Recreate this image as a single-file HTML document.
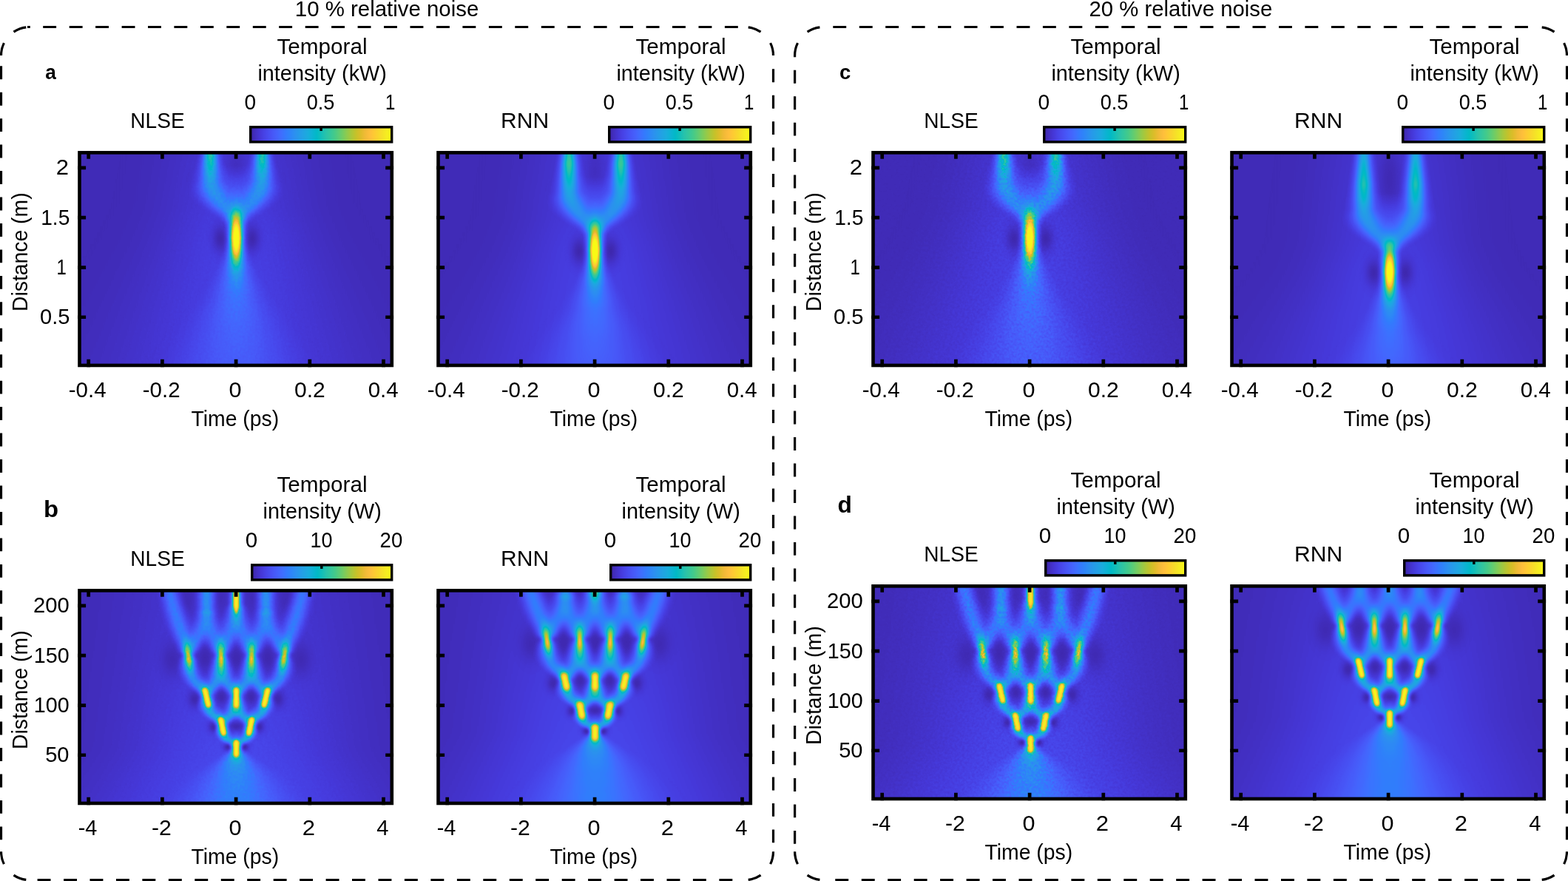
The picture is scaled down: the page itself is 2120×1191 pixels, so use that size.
<!DOCTYPE html>
<html lang="en"><head><meta charset="utf-8"><title>Temporal intensity: NLSE vs RNN under relative noise</title>
<style>html,body{margin:0;padding:0;background:#fff}body{width:2120px;height:1191px}svg{display:block}text{fill:#000}</style></head><body>
<svg width="2120" height="1191" viewBox="0 0 2120 1191" font-family="Liberation Sans, sans-serif" font-size="30">
<defs>
<linearGradient id="cb" x1="0" x2="1" y1="0" y2="0"><stop offset="0.0000" stop-color="#3e26a8"/><stop offset="0.0312" stop-color="#422ebf"/><stop offset="0.0625" stop-color="#4536d5"/><stop offset="0.0938" stop-color="#4741e5"/><stop offset="0.1250" stop-color="#484cef"/><stop offset="0.1562" stop-color="#4757f7"/><stop offset="0.1875" stop-color="#4562fc"/><stop offset="0.2188" stop-color="#3f6efe"/><stop offset="0.2500" stop-color="#347afd"/><stop offset="0.2812" stop-color="#2e85f8"/><stop offset="0.3125" stop-color="#2c90f0"/><stop offset="0.3438" stop-color="#269ae9"/><stop offset="0.3750" stop-color="#21a3e3"/><stop offset="0.4062" stop-color="#1aacdd"/><stop offset="0.4375" stop-color="#0cb3d3"/><stop offset="0.4688" stop-color="#01b9c6"/><stop offset="0.5000" stop-color="#12beb9"/><stop offset="0.5312" stop-color="#28c2ab"/><stop offset="0.5625" stop-color="#34c79c"/><stop offset="0.5938" stop-color="#44ca8a"/><stop offset="0.6250" stop-color="#5ccc76"/><stop offset="0.6562" stop-color="#77cc60"/><stop offset="0.6875" stop-color="#94ca4a"/><stop offset="0.7188" stop-color="#afc637"/><stop offset="0.7500" stop-color="#c8c129"/><stop offset="0.7812" stop-color="#debc2a"/><stop offset="0.8125" stop-color="#f1ba37"/><stop offset="0.8438" stop-color="#febe3c"/><stop offset="0.8750" stop-color="#feca33"/><stop offset="0.9062" stop-color="#f9d62d"/><stop offset="0.9375" stop-color="#f5e327"/><stop offset="0.9688" stop-color="#f6ef20"/><stop offset="1.0000" stop-color="#f9fb15"/></linearGradient>
<filter id="pm" filterUnits="userSpaceOnUse" x="0" y="0" width="426.9" height="292.2" color-interpolation-filters="sRGB"><feComponentTransfer><feFuncR type="table" tableValues="0.242 0.25 0.258 0.265 0.271 0.275 0.278 0.28 0.281 0.281 0.28 0.276 0.27 0.26 0.244 0.221 0.196 0.183 0.179 0.176 0.169 0.154 0.146 0.138 0.125 0.111 0.095 0.069 0.03 0.004 0.007 0.043 0.096 0.141 0.172 0.194 0.216 0.247 0.291 0.341 0.391 0.446 0.504 0.562 0.617 0.672 0.724 0.774 0.82 0.863 0.903 0.939 0.973 0.996 0.997 0.995 0.989 0.979 0.968 0.961 0.96 0.963 0.969 0.977"/><feFuncG type="table" tableValues="0.15 0.165 0.182 0.198 0.215 0.234 0.256 0.278 0.301 0.323 0.345 0.367 0.389 0.412 0.436 0.46 0.485 0.507 0.529 0.55 0.57 0.59 0.609 0.628 0.646 0.663 0.68 0.695 0.708 0.72 0.731 0.741 0.75 0.758 0.767 0.776 0.784 0.792 0.797 0.801 0.803 0.802 0.799 0.794 0.788 0.779 0.77 0.76 0.75 0.741 0.733 0.729 0.73 0.743 0.766 0.789 0.814 0.839 0.864 0.889 0.913 0.937 0.961 0.984"/><feFuncB type="table" tableValues="0.66 0.708 0.751 0.795 0.836 0.871 0.899 0.922 0.941 0.958 0.972 0.983 0.991 0.995 0.999 0.997 0.989 0.98 0.968 0.952 0.936 0.922 0.908 0.897 0.888 0.876 0.86 0.839 0.816 0.792 0.766 0.739 0.712 0.684 0.655 0.625 0.592 0.557 0.519 0.479 0.435 0.391 0.348 0.304 0.261 0.223 0.191 0.165 0.153 0.16 0.177 0.21 0.239 0.237 0.22 0.203 0.189 0.177 0.164 0.154 0.142 0.127 0.106 0.081"/></feComponentTransfer></filter><filter id="pn1" filterUnits="userSpaceOnUse" x="0" y="0" width="426.9" height="292.2" color-interpolation-filters="sRGB"><feTurbulence type="fractalNoise" baseFrequency="0.3" numOctaves="2" seed="3" result="n"/><feColorMatrix in="n" type="matrix" values="1 0 0 0 0 1 0 0 0 0 1 0 0 0 0 0 0 0 0 1" result="g"/><feComposite in="SourceGraphic" in2="g" operator="arithmetic" k1="0.20" k2="0.90" k3="0" k4="0"/></filter><filter id="pn2" filterUnits="userSpaceOnUse" x="0" y="0" width="426.9" height="292.2" color-interpolation-filters="sRGB"><feTurbulence type="fractalNoise" baseFrequency="0.3" numOctaves="2" seed="7" result="n"/><feColorMatrix in="n" type="matrix" values="1 0 0 0 0 1 0 0 0 0 1 0 0 0 0 0 0 0 0 1" result="g"/><feComposite in="SourceGraphic" in2="g" operator="arithmetic" k1="0.60" k2="0.70" k3="0" k4="0"/></filter><radialGradient id="gw" cx="0.5" cy="0.5" r="0.5"><stop offset="0.000" stop-color="#fff" stop-opacity="1.000"/><stop offset="0.062" stop-color="#fff" stop-opacity="0.983"/><stop offset="0.125" stop-color="#fff" stop-opacity="0.932"/><stop offset="0.188" stop-color="#fff" stop-opacity="0.854"/><stop offset="0.250" stop-color="#fff" stop-opacity="0.755"/><stop offset="0.312" stop-color="#fff" stop-opacity="0.644"/><stop offset="0.375" stop-color="#fff" stop-opacity="0.531"/><stop offset="0.438" stop-color="#fff" stop-opacity="0.423"/><stop offset="0.500" stop-color="#fff" stop-opacity="0.325"/><stop offset="0.562" stop-color="#fff" stop-opacity="0.241"/><stop offset="0.625" stop-color="#fff" stop-opacity="0.172"/><stop offset="0.688" stop-color="#fff" stop-opacity="0.119"/><stop offset="0.750" stop-color="#fff" stop-opacity="0.080"/><stop offset="0.812" stop-color="#fff" stop-opacity="0.051"/><stop offset="0.875" stop-color="#fff" stop-opacity="0.032"/><stop offset="0.938" stop-color="#fff" stop-opacity="0.019"/><stop offset="1.000" stop-color="#fff" stop-opacity="0.000"/></radialGradient><radialGradient id="gp" cx="0.5" cy="0.5" r="0.5"><stop offset="0.000" stop-color="#fff" stop-opacity="1.000"/><stop offset="0.062" stop-color="#fff" stop-opacity="1.000"/><stop offset="0.125" stop-color="#fff" stop-opacity="1.000"/><stop offset="0.188" stop-color="#fff" stop-opacity="1.000"/><stop offset="0.250" stop-color="#fff" stop-opacity="1.000"/><stop offset="0.312" stop-color="#fff" stop-opacity="0.967"/><stop offset="0.375" stop-color="#fff" stop-opacity="0.797"/><stop offset="0.438" stop-color="#fff" stop-opacity="0.634"/><stop offset="0.500" stop-color="#fff" stop-opacity="0.487"/><stop offset="0.562" stop-color="#fff" stop-opacity="0.361"/><stop offset="0.625" stop-color="#fff" stop-opacity="0.259"/><stop offset="0.688" stop-color="#fff" stop-opacity="0.179"/><stop offset="0.750" stop-color="#fff" stop-opacity="0.119"/><stop offset="0.812" stop-color="#fff" stop-opacity="0.077"/><stop offset="0.875" stop-color="#fff" stop-opacity="0.048"/><stop offset="0.938" stop-color="#fff" stop-opacity="0.029"/><stop offset="1.000" stop-color="#fff" stop-opacity="0.000"/></radialGradient><radialGradient id="gk" cx="0.5" cy="0.5" r="0.5"><stop offset="0.000" stop-color="#000" stop-opacity="1.000"/><stop offset="0.062" stop-color="#000" stop-opacity="0.983"/><stop offset="0.125" stop-color="#000" stop-opacity="0.932"/><stop offset="0.188" stop-color="#000" stop-opacity="0.854"/><stop offset="0.250" stop-color="#000" stop-opacity="0.755"/><stop offset="0.312" stop-color="#000" stop-opacity="0.644"/><stop offset="0.375" stop-color="#000" stop-opacity="0.531"/><stop offset="0.438" stop-color="#000" stop-opacity="0.423"/><stop offset="0.500" stop-color="#000" stop-opacity="0.325"/><stop offset="0.562" stop-color="#000" stop-opacity="0.241"/><stop offset="0.625" stop-color="#000" stop-opacity="0.172"/><stop offset="0.688" stop-color="#000" stop-opacity="0.119"/><stop offset="0.750" stop-color="#000" stop-opacity="0.080"/><stop offset="0.812" stop-color="#000" stop-opacity="0.051"/><stop offset="0.875" stop-color="#000" stop-opacity="0.032"/><stop offset="0.938" stop-color="#000" stop-opacity="0.019"/><stop offset="1.000" stop-color="#000" stop-opacity="0.000"/></radialGradient><linearGradient id="gh" x1="0" x2="1" y1="0" y2="0"><stop offset="0.000" stop-color="#fff" stop-opacity="0.000"/><stop offset="0.031" stop-color="#fff" stop-opacity="0.019"/><stop offset="0.062" stop-color="#fff" stop-opacity="0.032"/><stop offset="0.094" stop-color="#fff" stop-opacity="0.051"/><stop offset="0.125" stop-color="#fff" stop-opacity="0.080"/><stop offset="0.156" stop-color="#fff" stop-opacity="0.119"/><stop offset="0.188" stop-color="#fff" stop-opacity="0.172"/><stop offset="0.219" stop-color="#fff" stop-opacity="0.241"/><stop offset="0.250" stop-color="#fff" stop-opacity="0.325"/><stop offset="0.281" stop-color="#fff" stop-opacity="0.423"/><stop offset="0.312" stop-color="#fff" stop-opacity="0.531"/><stop offset="0.344" stop-color="#fff" stop-opacity="0.644"/><stop offset="0.375" stop-color="#fff" stop-opacity="0.755"/><stop offset="0.406" stop-color="#fff" stop-opacity="0.854"/><stop offset="0.438" stop-color="#fff" stop-opacity="0.932"/><stop offset="0.469" stop-color="#fff" stop-opacity="0.983"/><stop offset="0.500" stop-color="#fff" stop-opacity="1.000"/><stop offset="0.531" stop-color="#fff" stop-opacity="0.983"/><stop offset="0.562" stop-color="#fff" stop-opacity="0.932"/><stop offset="0.594" stop-color="#fff" stop-opacity="0.854"/><stop offset="0.625" stop-color="#fff" stop-opacity="0.755"/><stop offset="0.656" stop-color="#fff" stop-opacity="0.644"/><stop offset="0.688" stop-color="#fff" stop-opacity="0.531"/><stop offset="0.719" stop-color="#fff" stop-opacity="0.423"/><stop offset="0.750" stop-color="#fff" stop-opacity="0.325"/><stop offset="0.781" stop-color="#fff" stop-opacity="0.241"/><stop offset="0.812" stop-color="#fff" stop-opacity="0.172"/><stop offset="0.844" stop-color="#fff" stop-opacity="0.119"/><stop offset="0.875" stop-color="#fff" stop-opacity="0.080"/><stop offset="0.906" stop-color="#fff" stop-opacity="0.051"/><stop offset="0.938" stop-color="#fff" stop-opacity="0.032"/><stop offset="0.969" stop-color="#fff" stop-opacity="0.019"/><stop offset="1.000" stop-color="#fff" stop-opacity="0.000"/></linearGradient><filter id="pb" filterUnits="userSpaceOnUse" x="0" y="-20" width="426.9" height="332.2" color-interpolation-filters="sRGB"><feGaussianBlur stdDeviation="1.7"/></filter><filter id="pc" filterUnits="userSpaceOnUse" x="0" y="-20" width="426.9" height="332.2" color-interpolation-filters="sRGB"><feGaussianBlur stdDeviation="2.1"/></filter><filter id="v1" filterUnits="userSpaceOnUse" x="-10" y="-40" width="446.9" height="372.2" color-interpolation-filters="sRGB"><feGaussianBlur stdDeviation="0 1"/></filter><filter id="v2" filterUnits="userSpaceOnUse" x="-10" y="-40" width="446.9" height="372.2" color-interpolation-filters="sRGB"><feGaussianBlur stdDeviation="0 2"/></filter><filter id="v3" filterUnits="userSpaceOnUse" x="-10" y="-40" width="446.9" height="372.2" color-interpolation-filters="sRGB"><feGaussianBlur stdDeviation="0 3"/></filter><filter id="v4" filterUnits="userSpaceOnUse" x="-10" y="-40" width="446.9" height="372.2" color-interpolation-filters="sRGB"><feGaussianBlur stdDeviation="0 4"/></filter><filter id="v6" filterUnits="userSpaceOnUse" x="-10" y="-40" width="446.9" height="372.2" color-interpolation-filters="sRGB"><feGaussianBlur stdDeviation="0 6"/></filter>
<clipPath id="cf"><rect x="1" y="1" width="424.9" height="290.2"/></clipPath>
</defs>
<rect width="2120" height="1191" fill="#fff"/>
<path fill="none" stroke="#000" stroke-width="3.2" d="M58.2 36.5H76.1M93.7 36.5H111.6M129.1 36.5H147.0M164.6 36.5H182.5M200.0 36.5H217.9M235.4 36.5H253.3M270.9 36.5H288.8M306.3 36.5H324.2M341.8 36.5H359.7M377.2 36.5H395.1M412.7 36.5H430.6M448.1 36.5H466.0M483.6 36.5H501.5M519.0 36.5H536.9M554.5 36.5H572.4M590.0 36.5H607.9M625.4 36.5H643.3M660.9 36.5H678.8M696.3 36.5H714.2M731.8 36.5H749.7M767.2 36.5H785.1M802.7 36.5H820.6M838.1 36.5H856.0M873.6 36.5H891.5M909.0 36.5H926.9M944.5 36.5H962.4M979.9 36.5H997.8M50.6 1189.7H68.5M86.1 1189.7H104.0M121.5 1189.7H139.4M157.0 1189.7H174.9M192.4 1189.7H210.3M227.9 1189.7H245.8M263.3 1189.7H281.2M298.8 1189.7H316.7M334.2 1189.7H352.1M369.7 1189.7H387.6M405.1 1189.7H423.0M440.6 1189.7H458.5M476.0 1189.7H493.9M511.5 1189.7H529.4M546.9 1189.7H564.8M582.4 1189.7H600.3M617.9 1189.7H635.8M653.3 1189.7H671.2M688.8 1189.7H706.7M724.2 1189.7H742.1M759.7 1189.7H777.6M795.1 1189.7H813.0M830.6 1189.7H848.5M866.0 1189.7H883.9M901.5 1189.7H919.4M936.9 1189.7H954.8M972.4 1189.7H990.3M1.5 89.3V107.2M1.5 124.8V142.7M1.5 160.2V178.1M1.5 195.6V213.5M1.5 231.1V249.0M1.5 266.5V284.4M1.5 302.0V319.9M1.5 337.4V355.3M1.5 372.9V390.8M1.5 408.3V426.2M1.5 443.8V461.7M1.5 479.2V497.1M1.5 514.7V532.6M1.5 550.1V568.0M1.5 585.6V603.5M1.5 621.1V639.0M1.5 656.5V674.4M1.5 692.0V709.9M1.5 727.4V745.3M1.5 762.9V780.8M1.5 798.3V816.2M1.5 833.8V851.7M1.5 869.2V887.1M1.5 904.7V922.6M1.5 940.1V958.0M1.5 975.6V993.5M1.5 1011.0V1028.9M1.5 1046.5V1064.4M1.5 1081.9V1099.8M1.5 1117.4V1135.3M1045.5 93.3V111.2M1045.5 128.8V146.7M1045.5 164.2V182.1M1045.5 199.6V217.5M1045.5 235.1V253.0M1045.5 270.5V288.4M1045.5 306.0V323.9M1045.5 341.4V359.3M1045.5 376.9V394.8M1045.5 412.3V430.2M1045.5 447.8V465.7M1045.5 483.2V501.1M1045.5 518.7V536.6M1045.5 554.1V572.0M1045.5 589.6V607.5M1045.5 625.1V643.0M1045.5 660.5V678.4M1045.5 696.0V713.9M1045.5 731.4V749.3M1045.5 766.9V784.8M1045.5 802.3V820.2M1045.5 837.8V855.7M1045.5 873.2V891.1M1045.5 908.7V926.6M1045.5 944.1V962.0M1045.5 979.6V997.5M1045.5 1015.0V1032.9M1045.5 1050.5V1068.4M1045.5 1085.9V1103.8M1045.5 1121.4V1139.3M1.5 75.0A38.5 38.5 0 0 1 5.4 58.1M18.5 43.1A38.5 38.5 0 0 1 35.3 36.8M1045.5 75.0A38.5 38.5 0 0 0 1041.6 58.1M1028.5 43.1A38.5 38.5 0 0 0 1011.7 36.8M1045.5 1151.2A38.5 38.5 0 0 1 1041.6 1168.1M1028.5 1183.1A38.5 38.5 0 0 1 1011.7 1189.4M1.5 1151.2A38.5 38.5 0 0 0 5.4 1168.1M18.5 1183.1A38.5 38.5 0 0 0 35.3 1189.4M37.0 36.5H40.8"/>
<path fill="none" stroke="#000" stroke-width="3.2" d="M1126.3 36.5H1144.2M1161.8 36.5H1179.7M1197.2 36.5H1215.1M1232.7 36.5H1250.6M1268.1 36.5H1286.0M1303.6 36.5H1321.5M1339.0 36.5H1356.9M1374.5 36.5H1392.4M1409.9 36.5H1427.8M1445.4 36.5H1463.3M1480.8 36.5H1498.7M1516.3 36.5H1534.2M1551.7 36.5H1569.6M1587.2 36.5H1605.1M1622.6 36.5H1640.5M1658.1 36.5H1676.0M1693.5 36.5H1711.4M1729.0 36.5H1746.9M1764.4 36.5H1782.3M1799.9 36.5H1817.8M1835.3 36.5H1853.2M1870.8 36.5H1888.7M1906.2 36.5H1924.1M1941.7 36.5H1959.6M1977.1 36.5H1995.0M2012.6 36.5H2030.5M2048.0 36.5H2065.9M1129.3 1189.7H1147.2M1164.8 1189.7H1182.7M1200.2 1189.7H1218.1M1235.7 1189.7H1253.6M1271.1 1189.7H1289.0M1306.6 1189.7H1324.5M1342.0 1189.7H1359.9M1377.5 1189.7H1395.4M1412.9 1189.7H1430.8M1448.4 1189.7H1466.3M1483.8 1189.7H1501.7M1519.3 1189.7H1537.2M1554.7 1189.7H1572.6M1590.2 1189.7H1608.1M1625.6 1189.7H1643.5M1661.1 1189.7H1679.0M1696.5 1189.7H1714.4M1732.0 1189.7H1749.9M1767.4 1189.7H1785.3M1802.9 1189.7H1820.8M1838.3 1189.7H1856.2M1873.8 1189.7H1891.7M1909.2 1189.7H1927.1M1944.7 1189.7H1962.6M1980.1 1189.7H1998.0M2015.6 1189.7H2033.5M2051.0 1189.7H2068.9M1074.6 75.0V77.2M1074.6 94.8V112.7M1074.6 130.2V148.2M1074.6 165.7V183.6M1074.6 201.1V219.0M1074.6 236.6V254.5M1074.6 272.0V289.9M1074.6 307.5V325.4M1074.6 342.9V360.8M1074.6 378.4V396.3M1074.6 413.8V431.7M1074.6 449.3V467.2M1074.6 484.7V502.6M1074.6 520.2V538.1M1074.6 555.6V573.5M1074.6 591.1V609.0M1074.6 626.6V644.5M1074.6 662.0V679.9M1074.6 697.5V715.4M1074.6 732.9V750.8M1074.6 768.4V786.3M1074.6 803.8V821.7M1074.6 839.3V857.2M1074.6 874.7V892.6M1074.6 910.2V928.1M1074.6 945.6V963.5M1074.6 981.1V999.0M1074.6 1016.5V1034.4M1074.6 1052.0V1069.9M1074.6 1087.4V1105.3M1074.6 1122.9V1140.8M2118.5 89.3V107.2M2118.5 124.8V142.7M2118.5 160.2V178.1M2118.5 195.6V213.5M2118.5 231.1V249.0M2118.5 266.5V284.4M2118.5 302.0V319.9M2118.5 337.4V355.3M2118.5 372.9V390.8M2118.5 408.3V426.2M2118.5 443.8V461.7M2118.5 479.2V497.1M2118.5 514.7V532.6M2118.5 550.1V568.0M2118.5 585.6V603.5M2118.5 621.1V639.0M2118.5 656.5V674.4M2118.5 692.0V709.9M2118.5 727.4V745.3M2118.5 762.9V780.8M2118.5 798.3V816.2M2118.5 833.8V851.7M2118.5 869.2V887.1M2118.5 904.7V922.6M2118.5 940.1V958.0M2118.5 975.6V993.5M2118.5 1011.0V1028.9M2118.5 1046.5V1064.4M2118.5 1081.9V1099.8M2118.5 1117.4V1135.3M1074.6 75.0A38.5 38.5 0 0 1 1078.5 58.1M1091.6 43.1A38.5 38.5 0 0 1 1108.4 36.8M2118.5 75.0A38.5 38.5 0 0 0 2114.6 58.1M2101.5 43.1A38.5 38.5 0 0 0 2084.7 36.8M2118.5 1151.2A38.5 38.5 0 0 1 2114.6 1168.1M2101.5 1183.1A38.5 38.5 0 0 1 2084.7 1189.4M1074.6 1151.2A38.5 38.5 0 0 0 1078.5 1168.1M1091.6 1183.1A38.5 38.5 0 0 0 1108.4 1189.4"/>
<text x="398.79" y="22.40" textLength="248.52" lengthAdjust="spacingAndGlyphs">10 % relative noise</text>
<text x="1472.53" y="22.40" textLength="247.77" lengthAdjust="spacingAndGlyphs">20 % relative noise</text>
<g transform="translate(105.20 204.05)">
<g clip-path="url(#cf)"><g filter="url(#pm)"><g filter="url(#pn1)"><rect x="-5" y="-5" width="436.9" height="302.2" fill="#050505"/><g fill="url(#gh)" filter="url(#v4)"><rect x="33.7" y="-10.05" width="361.1" height="8" opacity="0.051"/><rect x="32.6" y="-2.05" width="363.3" height="8" opacity="0.052"/><rect x="31.5" y="5.95" width="365.5" height="8" opacity="0.053"/><rect x="30.4" y="13.95" width="367.7" height="8" opacity="0.055"/><rect x="29.3" y="21.95" width="369.9" height="8" opacity="0.056"/><rect x="28.2" y="29.95" width="372.1" height="8" opacity="0.058"/><rect x="27.1" y="37.95" width="374.2" height="8" opacity="0.059"/><rect x="26.0" y="45.95" width="376.4" height="8" opacity="0.060"/><rect x="24.9" y="53.95" width="378.6" height="8" opacity="0.062"/><rect x="23.8" y="61.95" width="380.8" height="8" opacity="0.063"/><rect x="22.7" y="69.95" width="383.0" height="8" opacity="0.064"/><rect x="20.2" y="77.95" width="388.0" height="8" opacity="0.066"/><rect x="16.6" y="85.95" width="395.2" height="8" opacity="0.068"/><rect x="13.0" y="93.95" width="402.4" height="8" opacity="0.070"/><rect x="9.4" y="101.95" width="409.6" height="8" opacity="0.072"/><rect x="5.8" y="109.95" width="416.8" height="8" opacity="0.074"/><rect x="1.1" y="117.95" width="426.1" height="8" opacity="0.075"/><rect x="-4.4" y="125.95" width="437.1" height="8" opacity="0.075"/><rect x="-9.8" y="133.95" width="448.1" height="8" opacity="0.076"/><rect x="-15.3" y="141.95" width="459.1" height="8" opacity="0.076"/><rect x="-20.8" y="149.95" width="470.1" height="8" opacity="0.076"/><rect x="-26.3" y="157.95" width="481.1" height="8" opacity="0.077"/><rect x="-31.8" y="165.95" width="492.1" height="8" opacity="0.077"/><rect x="-37.3" y="173.95" width="503.0" height="8" opacity="0.077"/><rect x="-42.8" y="181.95" width="514.0" height="8" opacity="0.077"/><rect x="-48.3" y="189.95" width="525.0" height="8" opacity="0.078"/><rect x="-53.8" y="197.95" width="536.0" height="8" opacity="0.078"/><rect x="-59.3" y="205.95" width="546.9" height="8" opacity="0.078"/><rect x="-64.7" y="213.95" width="557.8" height="8" opacity="0.078"/><rect x="-70.1" y="221.95" width="568.6" height="8" opacity="0.078"/><rect x="-75.5" y="229.95" width="579.5" height="8" opacity="0.078"/><rect x="-81.0" y="237.95" width="590.3" height="8" opacity="0.078"/><rect x="-86.4" y="245.95" width="601.2" height="8" opacity="0.078"/><rect x="-91.8" y="253.95" width="612.0" height="8" opacity="0.078"/><rect x="-97.2" y="261.95" width="622.8" height="8" opacity="0.078"/><rect x="-102.6" y="269.95" width="633.7" height="8" opacity="0.078"/><rect x="-108.1" y="277.95" width="644.5" height="8" opacity="0.078"/><rect x="-113.5" y="285.95" width="655.4" height="8" opacity="0.078"/><rect x="-118.9" y="293.95" width="666.2" height="8" opacity="0.078"/><rect x="-121.8" y="301.95" width="672.0" height="8" opacity="0.078"/></g><g fill="url(#gh)" filter="url(#v2)"><rect x="199.2" y="112.95" width="30.0" height="4" opacity="0.163"/><rect x="198.9" y="116.95" width="30.6" height="4" opacity="0.450"/><rect x="198.1" y="120.95" width="32.2" height="4" opacity="0.450"/><rect x="197.3" y="124.95" width="33.8" height="4" opacity="0.450"/><rect x="196.5" y="128.95" width="35.4" height="4" opacity="0.450"/><rect x="195.2" y="132.95" width="38.0" height="4" opacity="0.432"/><rect x="193.6" y="136.95" width="41.2" height="4" opacity="0.403"/><rect x="192.0" y="140.95" width="44.4" height="4" opacity="0.373"/><rect x="190.4" y="144.95" width="47.6" height="4" opacity="0.344"/><rect x="188.1" y="148.95" width="52.1" height="4" opacity="0.321"/><rect x="185.7" y="152.95" width="56.9" height="4" opacity="0.299"/><rect x="183.3" y="156.95" width="61.7" height="4" opacity="0.277"/><rect x="180.9" y="160.95" width="66.5" height="4" opacity="0.255"/><rect x="178.5" y="164.95" width="71.3" height="4" opacity="0.233"/><rect x="175.8" y="168.95" width="76.8" height="4" opacity="0.221"/><rect x="173.0" y="172.95" width="82.4" height="4" opacity="0.211"/><rect x="170.2" y="176.95" width="88.0" height="4" opacity="0.201"/><rect x="167.4" y="180.95" width="93.6" height="4" opacity="0.191"/><rect x="164.6" y="184.95" width="99.2" height="4" opacity="0.181"/><rect x="161.8" y="188.95" width="104.8" height="4" opacity="0.171"/><rect x="159.0" y="192.95" width="110.4" height="4" opacity="0.161"/><rect x="155.9" y="196.95" width="116.6" height="4" opacity="0.154"/><rect x="152.3" y="200.95" width="123.8" height="4" opacity="0.150"/><rect x="148.7" y="204.95" width="131.0" height="4" opacity="0.146"/><rect x="145.1" y="208.95" width="138.2" height="4" opacity="0.142"/><rect x="141.5" y="212.95" width="145.4" height="4" opacity="0.138"/><rect x="137.9" y="216.95" width="152.6" height="4" opacity="0.134"/><rect x="134.3" y="220.95" width="159.8" height="4" opacity="0.130"/><rect x="130.7" y="224.95" width="167.0" height="4" opacity="0.126"/><rect x="127.1" y="228.95" width="174.2" height="4" opacity="0.122"/><rect x="123.5" y="232.95" width="181.4" height="4" opacity="0.118"/><rect x="120.0" y="236.95" width="188.3" height="4" opacity="0.114"/><rect x="116.8" y="240.95" width="194.8" height="4" opacity="0.112"/><rect x="113.6" y="244.95" width="201.2" height="4" opacity="0.110"/><rect x="110.4" y="248.95" width="207.6" height="4" opacity="0.108"/><rect x="107.2" y="252.95" width="214.0" height="4" opacity="0.106"/><rect x="104.0" y="256.95" width="220.5" height="4" opacity="0.104"/><rect x="100.7" y="260.95" width="226.9" height="4" opacity="0.101"/><rect x="97.5" y="264.95" width="233.3" height="4" opacity="0.099"/><rect x="94.3" y="268.95" width="239.8" height="4" opacity="0.097"/><rect x="91.1" y="272.95" width="246.2" height="4" opacity="0.095"/><rect x="87.9" y="276.95" width="252.6" height="4" opacity="0.093"/><rect x="84.7" y="280.95" width="259.0" height="4" opacity="0.091"/><rect x="81.5" y="284.95" width="265.5" height="4" opacity="0.089"/><rect x="78.2" y="288.95" width="271.9" height="4" opacity="0.086"/><rect x="75.2" y="292.95" width="277.9" height="4" opacity="0.085"/><rect x="72.6" y="296.95" width="283.2" height="4" opacity="0.084"/><rect x="70.0" y="300.95" width="288.4" height="4" opacity="0.084"/></g><ellipse cx="192.7" cy="118.5" rx="22.5" ry="39.0" fill="url(#gk)" opacity="0.920"/><ellipse cx="235.7" cy="118.5" rx="22.5" ry="39.0" fill="url(#gk)" opacity="0.920"/><ellipse cx="214.2" cy="19.5" rx="30.0" ry="52.5" fill="url(#gk)" opacity="0.550"/><g fill="url(#gh)" filter="url(#v2)"><rect x="161.2" y="-12.05" width="36.0" height="3" opacity="0.520"/><rect x="161.2" y="-9.05" width="36.0" height="3" opacity="0.520"/><rect x="161.2" y="-6.05" width="36.0" height="3" opacity="0.520"/><rect x="161.2" y="-3.05" width="36.0" height="3" opacity="0.520"/><rect x="161.2" y="-0.05" width="36.0" height="3" opacity="0.520"/><rect x="161.1" y="2.95" width="36.2" height="3" opacity="0.518"/><rect x="160.4" y="5.95" width="37.7" height="3" opacity="0.508"/><rect x="159.6" y="8.95" width="39.1" height="3" opacity="0.497"/><rect x="158.9" y="11.95" width="40.6" height="3" opacity="0.486"/><rect x="158.2" y="14.95" width="42.1" height="3" opacity="0.470"/><rect x="157.4" y="17.95" width="43.5" height="3" opacity="0.449"/><rect x="156.7" y="20.95" width="45.0" height="3" opacity="0.427"/><rect x="156.0" y="23.95" width="46.4" height="3" opacity="0.405"/><rect x="155.3" y="26.95" width="47.9" height="3" opacity="0.385"/><rect x="154.5" y="29.95" width="49.4" height="3" opacity="0.365"/><rect x="153.8" y="32.95" width="50.8" height="3" opacity="0.344"/><rect x="153.1" y="35.95" width="52.3" height="3" opacity="0.324"/><rect x="152.3" y="38.95" width="53.7" height="3" opacity="0.304"/><rect x="150.9" y="41.95" width="57.2" height="3" opacity="0.293"/><rect x="149.3" y="44.95" width="61.0" height="3" opacity="0.284"/><rect x="148.3" y="47.95" width="64.4" height="3" opacity="0.275"/><rect x="147.6" y="50.95" width="67.7" height="3" opacity="0.266"/><rect x="147.5" y="53.95" width="70.3" height="3" opacity="0.257"/><rect x="147.8" y="56.95" width="72.5" height="3" opacity="0.248"/><rect x="148.8" y="59.95" width="73.8" height="3" opacity="0.239"/><rect x="150.3" y="62.95" width="74.6" height="3" opacity="0.230"/><rect x="152.4" y="65.95" width="74.6" height="3" opacity="0.221"/><rect x="155.2" y="68.95" width="73.9" height="3" opacity="0.212"/><rect x="158.4" y="71.95" width="72.5" height="3" opacity="0.203"/><rect x="162.3" y="74.95" width="70.3" height="3" opacity="0.194"/><rect x="166.6" y="77.95" width="67.8" height="3" opacity="0.185"/><rect x="171.5" y="80.95" width="64.5" height="3" opacity="0.176"/><rect x="176.7" y="83.95" width="61.1" height="3" opacity="0.167"/><rect x="182.4" y="86.95" width="57.3" height="3" opacity="0.158"/><rect x="187.5" y="89.95" width="53.3" height="3" opacity="0.142"/><rect x="189.8" y="92.95" width="48.8" height="3" opacity="0.085"/><rect x="192.0" y="95.95" width="44.3" height="3" opacity="0.029"/><rect x="231.2" y="-12.05" width="36.0" height="3" opacity="0.520"/><rect x="231.2" y="-9.05" width="36.0" height="3" opacity="0.520"/><rect x="231.2" y="-6.05" width="36.0" height="3" opacity="0.520"/><rect x="231.2" y="-3.05" width="36.0" height="3" opacity="0.520"/><rect x="231.2" y="-0.05" width="36.0" height="3" opacity="0.520"/><rect x="231.1" y="2.95" width="36.2" height="3" opacity="0.518"/><rect x="230.4" y="5.95" width="37.7" height="3" opacity="0.508"/><rect x="229.6" y="8.95" width="39.1" height="3" opacity="0.497"/><rect x="228.9" y="11.95" width="40.6" height="3" opacity="0.486"/><rect x="228.2" y="14.95" width="42.1" height="3" opacity="0.470"/><rect x="227.4" y="17.95" width="43.5" height="3" opacity="0.449"/><rect x="226.7" y="20.95" width="45.0" height="3" opacity="0.427"/><rect x="226.0" y="23.95" width="46.4" height="3" opacity="0.405"/><rect x="225.3" y="26.95" width="47.9" height="3" opacity="0.385"/><rect x="224.5" y="29.95" width="49.4" height="3" opacity="0.365"/><rect x="223.8" y="32.95" width="50.8" height="3" opacity="0.344"/><rect x="223.1" y="35.95" width="52.3" height="3" opacity="0.324"/><rect x="222.3" y="38.95" width="53.7" height="3" opacity="0.304"/><rect x="220.4" y="41.95" width="57.2" height="3" opacity="0.293"/><rect x="218.1" y="44.95" width="61.0" height="3" opacity="0.284"/><rect x="215.7" y="47.95" width="64.4" height="3" opacity="0.275"/><rect x="213.1" y="50.95" width="67.7" height="3" opacity="0.266"/><rect x="210.6" y="53.95" width="70.3" height="3" opacity="0.257"/><rect x="208.2" y="56.95" width="72.5" height="3" opacity="0.248"/><rect x="205.8" y="59.95" width="73.8" height="3" opacity="0.239"/><rect x="203.5" y="62.95" width="74.6" height="3" opacity="0.230"/><rect x="201.4" y="65.95" width="74.6" height="3" opacity="0.221"/><rect x="199.4" y="68.95" width="73.9" height="3" opacity="0.212"/><rect x="197.5" y="71.95" width="72.5" height="3" opacity="0.203"/><rect x="195.7" y="74.95" width="70.3" height="3" opacity="0.194"/><rect x="194.0" y="77.95" width="67.8" height="3" opacity="0.185"/><rect x="192.3" y="80.95" width="64.5" height="3" opacity="0.176"/><rect x="190.6" y="83.95" width="61.1" height="3" opacity="0.167"/><rect x="188.8" y="86.95" width="57.3" height="3" opacity="0.158"/><rect x="187.5" y="89.95" width="53.3" height="3" opacity="0.142"/><rect x="189.8" y="92.95" width="48.8" height="3" opacity="0.085"/><rect x="192.0" y="95.95" width="44.3" height="3" opacity="0.029"/><rect x="126.1" y="19.95" width="176.2" height="3" opacity="0.010"/><rect x="127.4" y="22.95" width="173.6" height="3" opacity="0.016"/><rect x="128.7" y="25.95" width="171.0" height="3" opacity="0.022"/><rect x="130.0" y="28.95" width="168.5" height="3" opacity="0.029"/><rect x="131.8" y="31.95" width="164.9" height="3" opacity="0.036"/><rect x="133.7" y="34.95" width="161.0" height="3" opacity="0.044"/><rect x="135.6" y="37.95" width="157.1" height="3" opacity="0.051"/><rect x="137.6" y="40.95" width="153.3" height="3" opacity="0.059"/><rect x="139.8" y="43.95" width="148.9" height="3" opacity="0.066"/><rect x="143.5" y="46.95" width="141.4" height="3" opacity="0.072"/><rect x="147.3" y="49.95" width="133.9" height="3" opacity="0.078"/><rect x="151.0" y="52.95" width="126.4" height="3" opacity="0.085"/><rect x="154.6" y="55.95" width="119.2" height="3" opacity="0.090"/><rect x="157.2" y="58.95" width="114.1" height="3" opacity="0.092"/><rect x="159.7" y="61.95" width="108.9" height="3" opacity="0.095"/><rect x="162.3" y="64.95" width="103.8" height="3" opacity="0.097"/><rect x="164.9" y="67.95" width="98.7" height="3" opacity="0.099"/><rect x="167.4" y="70.95" width="93.5" height="3" opacity="0.101"/><rect x="170.0" y="73.95" width="88.4" height="3" opacity="0.103"/><rect x="172.9" y="76.95" width="82.7" height="3" opacity="0.105"/><rect x="177.4" y="79.95" width="73.7" height="3" opacity="0.103"/><rect x="181.9" y="82.95" width="64.7" height="3" opacity="0.102"/><rect x="186.4" y="85.95" width="55.7" height="3" opacity="0.100"/><rect x="189.0" y="88.95" width="50.3" height="3" opacity="0.088"/><rect x="191.3" y="91.95" width="45.8" height="3" opacity="0.073"/><rect x="193.5" y="94.95" width="41.3" height="3" opacity="0.058"/><rect x="195.2" y="97.95" width="38.0" height="3" opacity="0.042"/><rect x="196.2" y="100.95" width="36.0" height="3" opacity="0.025"/><rect x="197.2" y="103.95" width="34.0" height="3" opacity="0.009"/><rect x="190.6" y="76.95" width="47.1" height="3" opacity="0.017"/><rect x="191.5" y="79.95" width="45.3" height="3" opacity="0.053"/><rect x="192.4" y="82.95" width="43.5" height="3" opacity="0.089"/><rect x="193.3" y="85.95" width="41.7" height="3" opacity="0.128"/><rect x="194.2" y="88.95" width="39.9" height="3" opacity="0.182"/><rect x="195.1" y="91.95" width="38.1" height="3" opacity="0.236"/><rect x="196.0" y="94.95" width="36.3" height="3" opacity="0.290"/><rect x="197.7" y="97.95" width="33.1" height="3" opacity="0.447"/><rect x="197.9" y="100.95" width="32.5" height="3" opacity="0.442"/><rect x="198.2" y="103.95" width="32.0" height="3" opacity="0.433"/><rect x="198.4" y="106.95" width="31.5" height="3" opacity="0.425"/><rect x="198.7" y="109.95" width="31.0" height="3" opacity="0.417"/><rect x="198.9" y="112.95" width="30.5" height="3" opacity="0.408"/><rect x="199.2" y="115.95" width="30.0" height="3" opacity="0.400"/><rect x="199.2" y="118.95" width="30.0" height="3" opacity="0.007"/></g><ellipse cx="214.2" cy="117.5" rx="17.4" ry="75.0" fill="url(#gw)" opacity="0.550"/></g><ellipse cx="214.2" cy="117.5" rx="11.4" ry="46.5" fill="url(#gp)" opacity="0.970"/></g></g>
<rect x="2.3" y="2.3" width="422.3" height="287.6" fill="none" stroke="#000" stroke-width="4.6"/>
<path d="M14.5 0V10.6M14.5 292.2V281.6M114.2 0V10.6M114.2 292.2V281.6M213.9 0V10.6M213.9 292.2V281.6M313.6 0V10.6M313.6 292.2V281.6M413.3 0V10.6M413.3 292.2V281.6M0 22.9H10.9M426.9 22.9H416.0M0 90.1H10.9M426.9 90.1H416.0M0 157.6H10.9M426.9 157.6H416.0M0 224.7H10.9M426.9 224.7H416.0" stroke="#000" stroke-width="4.7" fill="none"/>
</g>
<rect x="338.7" y="171.8" width="191.0" height="20.1" fill="url(#cb)" stroke="#000" stroke-width="3.4"/>
<path d="M434.1 173.0v4" stroke="#000" stroke-width="3.4"/>
<text x="330.48" y="147.50" textLength="15.61" lengthAdjust="spacingAndGlyphs">0</text>
<text x="414.72" y="147.50" textLength="37.57" lengthAdjust="spacingAndGlyphs">0.5</text>
<text x="520.96" y="147.50" textLength="13.35" lengthAdjust="spacingAndGlyphs">1</text>
<text x="374.53" y="72.70" textLength="122.08" lengthAdjust="spacingAndGlyphs">Temporal</text>
<text x="348.46" y="109.20" textLength="174.38" lengthAdjust="spacingAndGlyphs">intensity (kW)</text>
<text x="176.28" y="172.90" textLength="73.41" lengthAdjust="spacingAndGlyphs">NLSE</text>
<text x="92.77" y="537.20" textLength="50.86" lengthAdjust="spacingAndGlyphs">-0.4</text>
<text x="192.77" y="537.20" textLength="50.82" lengthAdjust="spacingAndGlyphs">-0.2</text>
<text x="309.58" y="537.20" textLength="17.01" lengthAdjust="spacingAndGlyphs">0</text>
<text x="398.10" y="537.20" textLength="41.71" lengthAdjust="spacingAndGlyphs">0.2</text>
<text x="497.72" y="537.20" textLength="41.00" lengthAdjust="spacingAndGlyphs">0.4</text>
<text x="258.46" y="575.80" textLength="118.72" lengthAdjust="spacingAndGlyphs">Time (ps)</text>
<text x="75.85" y="236.35" textLength="17.24" lengthAdjust="spacingAndGlyphs">2</text>
<text x="55.19" y="303.55" textLength="39.14" lengthAdjust="spacingAndGlyphs">1.5</text>
<text x="76.46" y="371.05" textLength="13.35" lengthAdjust="spacingAndGlyphs">1</text>
<text x="54.04" y="438.15" textLength="40.43" lengthAdjust="spacingAndGlyphs">0.5</text>
<text transform="translate(36.80 418.60) rotate(-90)" x="-2.34" y="0" textLength="160.51" lengthAdjust="spacingAndGlyphs">Distance (m)</text>
<text x="61.21" y="106.90" font-size="27" font-weight="bold" textLength="14.62" lengthAdjust="spacingAndGlyphs">a</text>
<g transform="translate(590.20 204.05)">
<g clip-path="url(#cf)"><g filter="url(#pm)"><rect x="-5" y="-5" width="436.9" height="302.2" fill="#050505"/><g fill="url(#gh)" filter="url(#v4)"><rect x="33.7" y="-10.05" width="360.9" height="8" opacity="0.051"/><rect x="32.8" y="-2.05" width="362.7" height="8" opacity="0.052"/><rect x="31.9" y="5.95" width="364.6" height="8" opacity="0.053"/><rect x="31.0" y="13.95" width="366.4" height="8" opacity="0.054"/><rect x="30.1" y="21.95" width="368.3" height="8" opacity="0.055"/><rect x="29.1" y="29.95" width="370.1" height="8" opacity="0.056"/><rect x="28.2" y="37.95" width="372.0" height="8" opacity="0.057"/><rect x="27.3" y="45.95" width="373.8" height="8" opacity="0.059"/><rect x="26.4" y="53.95" width="375.6" height="8" opacity="0.060"/><rect x="25.5" y="61.95" width="377.5" height="8" opacity="0.061"/><rect x="24.5" y="69.95" width="379.3" height="8" opacity="0.062"/><rect x="23.6" y="77.95" width="381.2" height="8" opacity="0.063"/><rect x="22.7" y="85.95" width="383.0" height="8" opacity="0.064"/><rect x="20.6" y="93.95" width="387.3" height="8" opacity="0.066"/><rect x="17.0" y="101.95" width="394.5" height="8" opacity="0.068"/><rect x="13.4" y="109.95" width="401.7" height="8" opacity="0.070"/><rect x="9.8" y="117.95" width="408.9" height="8" opacity="0.072"/><rect x="6.2" y="125.95" width="416.1" height="8" opacity="0.074"/><rect x="1.4" y="133.95" width="425.5" height="8" opacity="0.075"/><rect x="-4.7" y="141.95" width="437.7" height="8" opacity="0.075"/><rect x="-10.7" y="149.95" width="449.9" height="8" opacity="0.076"/><rect x="-16.8" y="157.95" width="462.0" height="8" opacity="0.076"/><rect x="-22.9" y="165.95" width="474.2" height="8" opacity="0.076"/><rect x="-29.0" y="173.95" width="486.3" height="8" opacity="0.077"/><rect x="-35.1" y="181.95" width="498.5" height="8" opacity="0.077"/><rect x="-41.1" y="189.95" width="510.7" height="8" opacity="0.077"/><rect x="-47.2" y="197.95" width="522.8" height="8" opacity="0.078"/><rect x="-53.3" y="205.95" width="535.0" height="8" opacity="0.078"/><rect x="-59.3" y="213.95" width="547.0" height="8" opacity="0.078"/><rect x="-65.2" y="221.95" width="558.8" height="8" opacity="0.078"/><rect x="-71.2" y="229.95" width="570.7" height="8" opacity="0.078"/><rect x="-77.1" y="237.95" width="582.6" height="8" opacity="0.078"/><rect x="-83.0" y="245.95" width="594.5" height="8" opacity="0.078"/><rect x="-89.0" y="253.95" width="606.3" height="8" opacity="0.078"/><rect x="-94.9" y="261.95" width="618.2" height="8" opacity="0.078"/><rect x="-100.8" y="269.95" width="630.1" height="8" opacity="0.078"/><rect x="-106.8" y="277.95" width="641.9" height="8" opacity="0.078"/><rect x="-112.7" y="285.95" width="653.8" height="8" opacity="0.078"/><rect x="-118.6" y="293.95" width="665.7" height="8" opacity="0.078"/><rect x="-121.8" y="301.95" width="672.0" height="8" opacity="0.078"/></g><g fill="url(#gh)" filter="url(#v2)"><rect x="199.2" y="129.95" width="30.0" height="4" opacity="0.186"/><rect x="198.9" y="133.95" width="30.7" height="4" opacity="0.450"/><rect x="198.1" y="137.95" width="32.3" height="4" opacity="0.450"/><rect x="197.3" y="141.95" width="33.9" height="4" opacity="0.450"/><rect x="196.5" y="145.95" width="35.5" height="4" opacity="0.450"/><rect x="195.1" y="149.95" width="38.1" height="4" opacity="0.431"/><rect x="193.5" y="153.95" width="41.3" height="4" opacity="0.401"/><rect x="191.9" y="157.95" width="44.5" height="4" opacity="0.372"/><rect x="190.3" y="161.95" width="47.7" height="4" opacity="0.343"/><rect x="188.0" y="165.95" width="52.4" height="4" opacity="0.320"/><rect x="185.6" y="169.95" width="57.2" height="4" opacity="0.298"/><rect x="183.2" y="173.95" width="62.0" height="4" opacity="0.276"/><rect x="180.8" y="177.95" width="66.8" height="4" opacity="0.254"/><rect x="178.4" y="181.95" width="71.6" height="4" opacity="0.232"/><rect x="175.6" y="185.95" width="77.1" height="4" opacity="0.221"/><rect x="172.8" y="189.95" width="82.7" height="4" opacity="0.211"/><rect x="170.0" y="193.95" width="88.3" height="4" opacity="0.201"/><rect x="167.2" y="197.95" width="93.9" height="4" opacity="0.191"/><rect x="164.4" y="201.95" width="99.5" height="4" opacity="0.181"/><rect x="161.6" y="205.95" width="105.1" height="4" opacity="0.171"/><rect x="158.8" y="209.95" width="110.7" height="4" opacity="0.161"/><rect x="155.7" y="213.95" width="117.0" height="4" opacity="0.153"/><rect x="152.1" y="217.95" width="124.2" height="4" opacity="0.149"/><rect x="148.5" y="221.95" width="131.4" height="4" opacity="0.145"/><rect x="144.9" y="225.95" width="138.6" height="4" opacity="0.141"/><rect x="141.3" y="229.95" width="145.8" height="4" opacity="0.137"/><rect x="137.7" y="233.95" width="153.0" height="4" opacity="0.133"/><rect x="134.1" y="237.95" width="160.2" height="4" opacity="0.129"/><rect x="130.5" y="241.95" width="167.4" height="4" opacity="0.125"/><rect x="126.9" y="245.95" width="174.6" height="4" opacity="0.121"/><rect x="123.3" y="249.95" width="181.8" height="4" opacity="0.117"/><rect x="119.9" y="253.95" width="188.7" height="4" opacity="0.114"/><rect x="116.7" y="257.95" width="195.1" height="4" opacity="0.112"/><rect x="113.4" y="261.95" width="201.5" height="4" opacity="0.110"/><rect x="110.2" y="265.95" width="207.9" height="4" opacity="0.108"/><rect x="107.0" y="269.95" width="214.4" height="4" opacity="0.106"/><rect x="103.8" y="273.95" width="220.8" height="4" opacity="0.103"/><rect x="100.6" y="277.95" width="227.2" height="4" opacity="0.101"/><rect x="97.4" y="281.95" width="233.7" height="4" opacity="0.099"/><rect x="94.2" y="285.95" width="240.1" height="4" opacity="0.097"/><rect x="90.9" y="289.95" width="246.5" height="4" opacity="0.095"/><rect x="87.7" y="293.95" width="252.9" height="4" opacity="0.093"/><rect x="84.5" y="297.95" width="259.4" height="4" opacity="0.091"/><rect x="81.3" y="301.95" width="265.8" height="4" opacity="0.088"/></g><ellipse cx="192.7" cy="135.3" rx="22.5" ry="39.0" fill="url(#gk)" opacity="0.920"/><ellipse cx="235.7" cy="135.3" rx="22.5" ry="39.0" fill="url(#gk)" opacity="0.920"/><ellipse cx="214.2" cy="27.0" rx="30.0" ry="75.0" fill="url(#gk)" opacity="0.550"/><g fill="url(#gh)" filter="url(#v2)"><rect x="161.2" y="-12.05" width="36.0" height="3" opacity="0.500"/><rect x="161.2" y="-9.05" width="36.0" height="3" opacity="0.500"/><rect x="161.2" y="-6.05" width="36.0" height="3" opacity="0.500"/><rect x="161.2" y="-3.05" width="36.0" height="3" opacity="0.500"/><rect x="161.2" y="-0.05" width="36.0" height="3" opacity="0.500"/><rect x="161.1" y="2.95" width="36.2" height="3" opacity="0.502"/><rect x="160.6" y="5.95" width="37.2" height="3" opacity="0.516"/><rect x="160.1" y="8.95" width="38.2" height="3" opacity="0.530"/><rect x="159.6" y="11.95" width="39.3" height="3" opacity="0.544"/><rect x="159.0" y="14.95" width="40.3" height="3" opacity="0.557"/><rect x="158.5" y="17.95" width="41.3" height="3" opacity="0.547"/><rect x="158.0" y="20.95" width="42.4" height="3" opacity="0.530"/><rect x="157.5" y="23.95" width="43.4" height="3" opacity="0.514"/><rect x="157.0" y="26.95" width="44.5" height="3" opacity="0.497"/><rect x="156.4" y="29.95" width="45.5" height="3" opacity="0.481"/><rect x="155.9" y="32.95" width="46.5" height="3" opacity="0.464"/><rect x="155.4" y="35.95" width="47.6" height="3" opacity="0.446"/><rect x="154.9" y="38.95" width="48.6" height="3" opacity="0.427"/><rect x="154.4" y="41.95" width="49.7" height="3" opacity="0.408"/><rect x="153.9" y="44.95" width="50.7" height="3" opacity="0.390"/><rect x="153.3" y="47.95" width="51.7" height="3" opacity="0.371"/><rect x="152.8" y="50.95" width="52.8" height="3" opacity="0.352"/><rect x="152.3" y="53.95" width="53.8" height="3" opacity="0.333"/><rect x="150.9" y="56.95" width="57.2" height="3" opacity="0.322"/><rect x="149.3" y="59.95" width="61.0" height="3" opacity="0.312"/><rect x="148.3" y="62.95" width="64.4" height="3" opacity="0.302"/><rect x="147.6" y="65.95" width="67.7" height="3" opacity="0.292"/><rect x="147.5" y="68.95" width="70.3" height="3" opacity="0.282"/><rect x="147.8" y="71.95" width="72.5" height="3" opacity="0.272"/><rect x="148.8" y="74.95" width="73.8" height="3" opacity="0.263"/><rect x="150.3" y="77.95" width="74.6" height="3" opacity="0.253"/><rect x="152.4" y="80.95" width="74.6" height="3" opacity="0.243"/><rect x="155.2" y="83.95" width="73.9" height="3" opacity="0.233"/><rect x="158.4" y="86.95" width="72.5" height="3" opacity="0.223"/><rect x="162.3" y="89.95" width="70.3" height="3" opacity="0.213"/><rect x="166.6" y="92.95" width="67.8" height="3" opacity="0.203"/><rect x="171.5" y="95.95" width="64.5" height="3" opacity="0.193"/><rect x="176.7" y="98.95" width="61.1" height="3" opacity="0.183"/><rect x="182.4" y="101.95" width="57.3" height="3" opacity="0.173"/><rect x="187.5" y="104.95" width="53.3" height="3" opacity="0.156"/><rect x="189.8" y="107.95" width="48.8" height="3" opacity="0.094"/><rect x="192.0" y="110.95" width="44.3" height="3" opacity="0.032"/><rect x="231.2" y="-12.05" width="36.0" height="3" opacity="0.500"/><rect x="231.2" y="-9.05" width="36.0" height="3" opacity="0.500"/><rect x="231.2" y="-6.05" width="36.0" height="3" opacity="0.500"/><rect x="231.2" y="-3.05" width="36.0" height="3" opacity="0.500"/><rect x="231.2" y="-0.05" width="36.0" height="3" opacity="0.500"/><rect x="231.1" y="2.95" width="36.2" height="3" opacity="0.502"/><rect x="230.6" y="5.95" width="37.2" height="3" opacity="0.516"/><rect x="230.1" y="8.95" width="38.2" height="3" opacity="0.530"/><rect x="229.6" y="11.95" width="39.3" height="3" opacity="0.544"/><rect x="229.0" y="14.95" width="40.3" height="3" opacity="0.557"/><rect x="228.5" y="17.95" width="41.3" height="3" opacity="0.547"/><rect x="228.0" y="20.95" width="42.4" height="3" opacity="0.530"/><rect x="227.5" y="23.95" width="43.4" height="3" opacity="0.514"/><rect x="227.0" y="26.95" width="44.5" height="3" opacity="0.497"/><rect x="226.4" y="29.95" width="45.5" height="3" opacity="0.481"/><rect x="225.9" y="32.95" width="46.5" height="3" opacity="0.464"/><rect x="225.4" y="35.95" width="47.6" height="3" opacity="0.446"/><rect x="224.9" y="38.95" width="48.6" height="3" opacity="0.427"/><rect x="224.4" y="41.95" width="49.7" height="3" opacity="0.408"/><rect x="223.9" y="44.95" width="50.7" height="3" opacity="0.390"/><rect x="223.3" y="47.95" width="51.7" height="3" opacity="0.371"/><rect x="222.8" y="50.95" width="52.8" height="3" opacity="0.352"/><rect x="222.3" y="53.95" width="53.8" height="3" opacity="0.333"/><rect x="220.4" y="56.95" width="57.2" height="3" opacity="0.322"/><rect x="218.1" y="59.95" width="61.0" height="3" opacity="0.312"/><rect x="215.7" y="62.95" width="64.4" height="3" opacity="0.302"/><rect x="213.1" y="65.95" width="67.7" height="3" opacity="0.292"/><rect x="210.6" y="68.95" width="70.3" height="3" opacity="0.282"/><rect x="208.2" y="71.95" width="72.5" height="3" opacity="0.272"/><rect x="205.8" y="74.95" width="73.8" height="3" opacity="0.263"/><rect x="203.5" y="77.95" width="74.6" height="3" opacity="0.253"/><rect x="201.4" y="80.95" width="74.6" height="3" opacity="0.243"/><rect x="199.4" y="83.95" width="73.9" height="3" opacity="0.233"/><rect x="197.5" y="86.95" width="72.5" height="3" opacity="0.223"/><rect x="195.7" y="89.95" width="70.3" height="3" opacity="0.213"/><rect x="194.0" y="92.95" width="67.8" height="3" opacity="0.203"/><rect x="192.3" y="95.95" width="64.5" height="3" opacity="0.193"/><rect x="190.6" y="98.95" width="61.1" height="3" opacity="0.183"/><rect x="188.8" y="101.95" width="57.3" height="3" opacity="0.173"/><rect x="187.5" y="104.95" width="53.3" height="3" opacity="0.156"/><rect x="189.8" y="107.95" width="48.8" height="3" opacity="0.094"/><rect x="192.0" y="110.95" width="44.3" height="3" opacity="0.032"/><rect x="126.1" y="34.95" width="176.2" height="3" opacity="0.010"/><rect x="127.4" y="37.95" width="173.6" height="3" opacity="0.016"/><rect x="128.7" y="40.95" width="171.0" height="3" opacity="0.022"/><rect x="130.0" y="43.95" width="168.5" height="3" opacity="0.029"/><rect x="131.8" y="46.95" width="164.9" height="3" opacity="0.036"/><rect x="133.7" y="49.95" width="161.0" height="3" opacity="0.044"/><rect x="135.6" y="52.95" width="157.1" height="3" opacity="0.051"/><rect x="137.6" y="55.95" width="153.3" height="3" opacity="0.059"/><rect x="139.8" y="58.95" width="148.9" height="3" opacity="0.066"/><rect x="143.5" y="61.95" width="141.4" height="3" opacity="0.072"/><rect x="147.3" y="64.95" width="133.9" height="3" opacity="0.078"/><rect x="151.0" y="67.95" width="126.4" height="3" opacity="0.085"/><rect x="154.6" y="70.95" width="119.2" height="3" opacity="0.090"/><rect x="157.2" y="73.95" width="114.1" height="3" opacity="0.092"/><rect x="159.7" y="76.95" width="108.9" height="3" opacity="0.095"/><rect x="162.3" y="79.95" width="103.8" height="3" opacity="0.097"/><rect x="164.9" y="82.95" width="98.7" height="3" opacity="0.099"/><rect x="167.4" y="85.95" width="93.5" height="3" opacity="0.101"/><rect x="170.0" y="88.95" width="88.4" height="3" opacity="0.103"/><rect x="172.9" y="91.95" width="82.7" height="3" opacity="0.105"/><rect x="177.4" y="94.95" width="73.7" height="3" opacity="0.103"/><rect x="181.9" y="97.95" width="64.7" height="3" opacity="0.102"/><rect x="186.4" y="100.95" width="55.7" height="3" opacity="0.100"/><rect x="189.0" y="103.95" width="50.3" height="3" opacity="0.088"/><rect x="191.3" y="106.95" width="45.8" height="3" opacity="0.073"/><rect x="193.5" y="109.95" width="41.3" height="3" opacity="0.058"/><rect x="195.2" y="112.95" width="38.0" height="3" opacity="0.042"/><rect x="196.2" y="115.95" width="36.0" height="3" opacity="0.025"/><rect x="197.2" y="118.95" width="34.0" height="3" opacity="0.009"/><rect x="190.6" y="91.95" width="47.1" height="3" opacity="0.017"/><rect x="191.5" y="94.95" width="45.3" height="3" opacity="0.053"/><rect x="192.4" y="97.95" width="43.5" height="3" opacity="0.089"/><rect x="193.3" y="100.95" width="41.7" height="3" opacity="0.128"/><rect x="194.2" y="103.95" width="39.9" height="3" opacity="0.182"/><rect x="195.1" y="106.95" width="38.1" height="3" opacity="0.236"/><rect x="196.0" y="109.95" width="36.3" height="3" opacity="0.290"/><rect x="197.1" y="112.95" width="34.3" height="3" opacity="0.385"/><rect x="197.8" y="115.95" width="32.8" height="3" opacity="0.447"/><rect x="198.0" y="118.95" width="32.3" height="3" opacity="0.438"/><rect x="198.3" y="121.95" width="31.8" height="3" opacity="0.430"/><rect x="198.5" y="124.95" width="31.3" height="3" opacity="0.422"/><rect x="198.8" y="127.95" width="30.8" height="3" opacity="0.413"/><rect x="199.0" y="130.95" width="30.3" height="3" opacity="0.405"/><rect x="199.2" y="133.95" width="30.0" height="3" opacity="0.247"/></g><ellipse cx="214.2" cy="134.3" rx="17.4" ry="75.0" fill="url(#gw)" opacity="0.550"/><ellipse cx="214.2" cy="134.3" rx="11.1" ry="46.5" fill="url(#gp)" opacity="1.000"/></g></g>
<rect x="2.3" y="2.3" width="422.3" height="287.6" fill="none" stroke="#000" stroke-width="4.6"/>
<path d="M14.5 0V10.6M14.5 292.2V281.6M114.2 0V10.6M114.2 292.2V281.6M213.9 0V10.6M213.9 292.2V281.6M313.6 0V10.6M313.6 292.2V281.6M413.3 0V10.6M413.3 292.2V281.6M0 22.9H10.9M426.9 22.9H416.0M0 90.1H10.9M426.9 90.1H416.0M0 157.6H10.9M426.9 157.6H416.0M0 224.7H10.9M426.9 224.7H416.0" stroke="#000" stroke-width="4.7" fill="none"/>
</g>
<rect x="823.7" y="171.8" width="191.0" height="20.1" fill="url(#cb)" stroke="#000" stroke-width="3.4"/>
<path d="M919.1 173.0v4" stroke="#000" stroke-width="3.4"/>
<text x="815.48" y="147.50" textLength="15.61" lengthAdjust="spacingAndGlyphs">0</text>
<text x="899.72" y="147.50" textLength="37.57" lengthAdjust="spacingAndGlyphs">0.5</text>
<text x="1005.96" y="147.50" textLength="13.35" lengthAdjust="spacingAndGlyphs">1</text>
<text x="859.53" y="72.70" textLength="122.08" lengthAdjust="spacingAndGlyphs">Temporal</text>
<text x="833.46" y="109.20" textLength="174.38" lengthAdjust="spacingAndGlyphs">intensity (kW)</text>
<text x="677.12" y="172.95" textLength="65.02" lengthAdjust="spacingAndGlyphs">RNN</text>
<text x="577.77" y="537.20" textLength="50.86" lengthAdjust="spacingAndGlyphs">-0.4</text>
<text x="677.77" y="537.20" textLength="50.82" lengthAdjust="spacingAndGlyphs">-0.2</text>
<text x="794.58" y="537.20" textLength="17.01" lengthAdjust="spacingAndGlyphs">0</text>
<text x="883.10" y="537.20" textLength="41.71" lengthAdjust="spacingAndGlyphs">0.2</text>
<text x="982.72" y="537.20" textLength="41.00" lengthAdjust="spacingAndGlyphs">0.4</text>
<text x="743.46" y="575.80" textLength="118.72" lengthAdjust="spacingAndGlyphs">Time (ps)</text>
<g transform="translate(1178.20 204.05)">
<g clip-path="url(#cf)"><g filter="url(#pm)"><g filter="url(#pn2)"><rect x="-5" y="-5" width="436.9" height="302.2" fill="#050505"/><g fill="url(#gh)" filter="url(#v4)"><rect x="33.7" y="-10.05" width="361.1" height="8" opacity="0.051"/><rect x="32.6" y="-2.05" width="363.3" height="8" opacity="0.052"/><rect x="31.5" y="5.95" width="365.5" height="8" opacity="0.053"/><rect x="30.4" y="13.95" width="367.7" height="8" opacity="0.055"/><rect x="29.3" y="21.95" width="369.9" height="8" opacity="0.056"/><rect x="28.2" y="29.95" width="372.1" height="8" opacity="0.058"/><rect x="27.1" y="37.95" width="374.2" height="8" opacity="0.059"/><rect x="26.0" y="45.95" width="376.4" height="8" opacity="0.060"/><rect x="24.9" y="53.95" width="378.6" height="8" opacity="0.062"/><rect x="23.8" y="61.95" width="380.8" height="8" opacity="0.063"/><rect x="22.7" y="69.95" width="383.0" height="8" opacity="0.064"/><rect x="20.2" y="77.95" width="388.0" height="8" opacity="0.066"/><rect x="16.6" y="85.95" width="395.2" height="8" opacity="0.068"/><rect x="13.0" y="93.95" width="402.4" height="8" opacity="0.070"/><rect x="9.4" y="101.95" width="409.6" height="8" opacity="0.072"/><rect x="5.8" y="109.95" width="416.8" height="8" opacity="0.074"/><rect x="1.1" y="117.95" width="426.1" height="8" opacity="0.075"/><rect x="-4.4" y="125.95" width="437.1" height="8" opacity="0.075"/><rect x="-9.8" y="133.95" width="448.1" height="8" opacity="0.076"/><rect x="-15.3" y="141.95" width="459.1" height="8" opacity="0.076"/><rect x="-20.8" y="149.95" width="470.1" height="8" opacity="0.076"/><rect x="-26.3" y="157.95" width="481.1" height="8" opacity="0.077"/><rect x="-31.8" y="165.95" width="492.1" height="8" opacity="0.077"/><rect x="-37.3" y="173.95" width="503.0" height="8" opacity="0.077"/><rect x="-42.8" y="181.95" width="514.0" height="8" opacity="0.077"/><rect x="-48.3" y="189.95" width="525.0" height="8" opacity="0.078"/><rect x="-53.8" y="197.95" width="536.0" height="8" opacity="0.078"/><rect x="-59.3" y="205.95" width="546.9" height="8" opacity="0.078"/><rect x="-64.7" y="213.95" width="557.8" height="8" opacity="0.078"/><rect x="-70.1" y="221.95" width="568.6" height="8" opacity="0.078"/><rect x="-75.5" y="229.95" width="579.5" height="8" opacity="0.078"/><rect x="-81.0" y="237.95" width="590.3" height="8" opacity="0.078"/><rect x="-86.4" y="245.95" width="601.2" height="8" opacity="0.078"/><rect x="-91.8" y="253.95" width="612.0" height="8" opacity="0.078"/><rect x="-97.2" y="261.95" width="622.8" height="8" opacity="0.078"/><rect x="-102.6" y="269.95" width="633.7" height="8" opacity="0.078"/><rect x="-108.1" y="277.95" width="644.5" height="8" opacity="0.078"/><rect x="-113.5" y="285.95" width="655.4" height="8" opacity="0.078"/><rect x="-118.9" y="293.95" width="666.2" height="8" opacity="0.078"/><rect x="-121.8" y="301.95" width="672.0" height="8" opacity="0.078"/></g><g fill="url(#gh)" filter="url(#v2)"><rect x="199.2" y="112.95" width="30.0" height="4" opacity="0.163"/><rect x="198.9" y="116.95" width="30.6" height="4" opacity="0.450"/><rect x="198.1" y="120.95" width="32.2" height="4" opacity="0.450"/><rect x="197.3" y="124.95" width="33.8" height="4" opacity="0.450"/><rect x="196.5" y="128.95" width="35.4" height="4" opacity="0.450"/><rect x="195.2" y="132.95" width="38.0" height="4" opacity="0.432"/><rect x="193.6" y="136.95" width="41.2" height="4" opacity="0.403"/><rect x="192.0" y="140.95" width="44.4" height="4" opacity="0.373"/><rect x="190.4" y="144.95" width="47.6" height="4" opacity="0.344"/><rect x="188.1" y="148.95" width="52.1" height="4" opacity="0.321"/><rect x="185.7" y="152.95" width="56.9" height="4" opacity="0.299"/><rect x="183.3" y="156.95" width="61.7" height="4" opacity="0.277"/><rect x="180.9" y="160.95" width="66.5" height="4" opacity="0.255"/><rect x="178.5" y="164.95" width="71.3" height="4" opacity="0.233"/><rect x="175.8" y="168.95" width="76.8" height="4" opacity="0.221"/><rect x="173.0" y="172.95" width="82.4" height="4" opacity="0.211"/><rect x="170.2" y="176.95" width="88.0" height="4" opacity="0.201"/><rect x="167.4" y="180.95" width="93.6" height="4" opacity="0.191"/><rect x="164.6" y="184.95" width="99.2" height="4" opacity="0.181"/><rect x="161.8" y="188.95" width="104.8" height="4" opacity="0.171"/><rect x="159.0" y="192.95" width="110.4" height="4" opacity="0.161"/><rect x="155.9" y="196.95" width="116.6" height="4" opacity="0.154"/><rect x="152.3" y="200.95" width="123.8" height="4" opacity="0.150"/><rect x="148.7" y="204.95" width="131.0" height="4" opacity="0.146"/><rect x="145.1" y="208.95" width="138.2" height="4" opacity="0.142"/><rect x="141.5" y="212.95" width="145.4" height="4" opacity="0.138"/><rect x="137.9" y="216.95" width="152.6" height="4" opacity="0.134"/><rect x="134.3" y="220.95" width="159.8" height="4" opacity="0.130"/><rect x="130.7" y="224.95" width="167.0" height="4" opacity="0.126"/><rect x="127.1" y="228.95" width="174.2" height="4" opacity="0.122"/><rect x="123.5" y="232.95" width="181.4" height="4" opacity="0.118"/><rect x="120.0" y="236.95" width="188.3" height="4" opacity="0.114"/><rect x="116.8" y="240.95" width="194.8" height="4" opacity="0.112"/><rect x="113.6" y="244.95" width="201.2" height="4" opacity="0.110"/><rect x="110.4" y="248.95" width="207.6" height="4" opacity="0.108"/><rect x="107.2" y="252.95" width="214.0" height="4" opacity="0.106"/><rect x="104.0" y="256.95" width="220.5" height="4" opacity="0.104"/><rect x="100.7" y="260.95" width="226.9" height="4" opacity="0.101"/><rect x="97.5" y="264.95" width="233.3" height="4" opacity="0.099"/><rect x="94.3" y="268.95" width="239.8" height="4" opacity="0.097"/><rect x="91.1" y="272.95" width="246.2" height="4" opacity="0.095"/><rect x="87.9" y="276.95" width="252.6" height="4" opacity="0.093"/><rect x="84.7" y="280.95" width="259.0" height="4" opacity="0.091"/><rect x="81.5" y="284.95" width="265.5" height="4" opacity="0.089"/><rect x="78.2" y="288.95" width="271.9" height="4" opacity="0.086"/><rect x="75.2" y="292.95" width="277.9" height="4" opacity="0.085"/><rect x="72.6" y="296.95" width="283.2" height="4" opacity="0.084"/><rect x="70.0" y="300.95" width="288.4" height="4" opacity="0.084"/></g><ellipse cx="192.7" cy="118.5" rx="22.5" ry="39.0" fill="url(#gk)" opacity="0.920"/><ellipse cx="235.7" cy="118.5" rx="22.5" ry="39.0" fill="url(#gk)" opacity="0.920"/><ellipse cx="214.2" cy="19.5" rx="30.0" ry="52.5" fill="url(#gk)" opacity="0.550"/><g fill="url(#gh)" filter="url(#v2)"><rect x="161.2" y="-12.05" width="36.0" height="3" opacity="0.520"/><rect x="161.2" y="-9.05" width="36.0" height="3" opacity="0.520"/><rect x="161.2" y="-6.05" width="36.0" height="3" opacity="0.520"/><rect x="161.2" y="-3.05" width="36.0" height="3" opacity="0.520"/><rect x="161.2" y="-0.05" width="36.0" height="3" opacity="0.520"/><rect x="161.1" y="2.95" width="36.2" height="3" opacity="0.518"/><rect x="160.4" y="5.95" width="37.7" height="3" opacity="0.508"/><rect x="159.6" y="8.95" width="39.1" height="3" opacity="0.497"/><rect x="158.9" y="11.95" width="40.6" height="3" opacity="0.486"/><rect x="158.2" y="14.95" width="42.1" height="3" opacity="0.470"/><rect x="157.4" y="17.95" width="43.5" height="3" opacity="0.449"/><rect x="156.7" y="20.95" width="45.0" height="3" opacity="0.427"/><rect x="156.0" y="23.95" width="46.4" height="3" opacity="0.405"/><rect x="155.3" y="26.95" width="47.9" height="3" opacity="0.385"/><rect x="154.5" y="29.95" width="49.4" height="3" opacity="0.365"/><rect x="153.8" y="32.95" width="50.8" height="3" opacity="0.344"/><rect x="153.1" y="35.95" width="52.3" height="3" opacity="0.324"/><rect x="152.3" y="38.95" width="53.7" height="3" opacity="0.304"/><rect x="150.9" y="41.95" width="57.2" height="3" opacity="0.293"/><rect x="149.3" y="44.95" width="61.0" height="3" opacity="0.284"/><rect x="148.3" y="47.95" width="64.4" height="3" opacity="0.275"/><rect x="147.6" y="50.95" width="67.7" height="3" opacity="0.266"/><rect x="147.5" y="53.95" width="70.3" height="3" opacity="0.257"/><rect x="147.8" y="56.95" width="72.5" height="3" opacity="0.248"/><rect x="148.8" y="59.95" width="73.8" height="3" opacity="0.239"/><rect x="150.3" y="62.95" width="74.6" height="3" opacity="0.230"/><rect x="152.4" y="65.95" width="74.6" height="3" opacity="0.221"/><rect x="155.2" y="68.95" width="73.9" height="3" opacity="0.212"/><rect x="158.4" y="71.95" width="72.5" height="3" opacity="0.203"/><rect x="162.3" y="74.95" width="70.3" height="3" opacity="0.194"/><rect x="166.6" y="77.95" width="67.8" height="3" opacity="0.185"/><rect x="171.5" y="80.95" width="64.5" height="3" opacity="0.176"/><rect x="176.7" y="83.95" width="61.1" height="3" opacity="0.167"/><rect x="182.4" y="86.95" width="57.3" height="3" opacity="0.158"/><rect x="187.5" y="89.95" width="53.3" height="3" opacity="0.142"/><rect x="189.8" y="92.95" width="48.8" height="3" opacity="0.085"/><rect x="192.0" y="95.95" width="44.3" height="3" opacity="0.029"/><rect x="231.2" y="-12.05" width="36.0" height="3" opacity="0.520"/><rect x="231.2" y="-9.05" width="36.0" height="3" opacity="0.520"/><rect x="231.2" y="-6.05" width="36.0" height="3" opacity="0.520"/><rect x="231.2" y="-3.05" width="36.0" height="3" opacity="0.520"/><rect x="231.2" y="-0.05" width="36.0" height="3" opacity="0.520"/><rect x="231.1" y="2.95" width="36.2" height="3" opacity="0.518"/><rect x="230.4" y="5.95" width="37.7" height="3" opacity="0.508"/><rect x="229.6" y="8.95" width="39.1" height="3" opacity="0.497"/><rect x="228.9" y="11.95" width="40.6" height="3" opacity="0.486"/><rect x="228.2" y="14.95" width="42.1" height="3" opacity="0.470"/><rect x="227.4" y="17.95" width="43.5" height="3" opacity="0.449"/><rect x="226.7" y="20.95" width="45.0" height="3" opacity="0.427"/><rect x="226.0" y="23.95" width="46.4" height="3" opacity="0.405"/><rect x="225.3" y="26.95" width="47.9" height="3" opacity="0.385"/><rect x="224.5" y="29.95" width="49.4" height="3" opacity="0.365"/><rect x="223.8" y="32.95" width="50.8" height="3" opacity="0.344"/><rect x="223.1" y="35.95" width="52.3" height="3" opacity="0.324"/><rect x="222.3" y="38.95" width="53.7" height="3" opacity="0.304"/><rect x="220.4" y="41.95" width="57.2" height="3" opacity="0.293"/><rect x="218.1" y="44.95" width="61.0" height="3" opacity="0.284"/><rect x="215.7" y="47.95" width="64.4" height="3" opacity="0.275"/><rect x="213.1" y="50.95" width="67.7" height="3" opacity="0.266"/><rect x="210.6" y="53.95" width="70.3" height="3" opacity="0.257"/><rect x="208.2" y="56.95" width="72.5" height="3" opacity="0.248"/><rect x="205.8" y="59.95" width="73.8" height="3" opacity="0.239"/><rect x="203.5" y="62.95" width="74.6" height="3" opacity="0.230"/><rect x="201.4" y="65.95" width="74.6" height="3" opacity="0.221"/><rect x="199.4" y="68.95" width="73.9" height="3" opacity="0.212"/><rect x="197.5" y="71.95" width="72.5" height="3" opacity="0.203"/><rect x="195.7" y="74.95" width="70.3" height="3" opacity="0.194"/><rect x="194.0" y="77.95" width="67.8" height="3" opacity="0.185"/><rect x="192.3" y="80.95" width="64.5" height="3" opacity="0.176"/><rect x="190.6" y="83.95" width="61.1" height="3" opacity="0.167"/><rect x="188.8" y="86.95" width="57.3" height="3" opacity="0.158"/><rect x="187.5" y="89.95" width="53.3" height="3" opacity="0.142"/><rect x="189.8" y="92.95" width="48.8" height="3" opacity="0.085"/><rect x="192.0" y="95.95" width="44.3" height="3" opacity="0.029"/><rect x="126.1" y="19.95" width="176.2" height="3" opacity="0.010"/><rect x="127.4" y="22.95" width="173.6" height="3" opacity="0.016"/><rect x="128.7" y="25.95" width="171.0" height="3" opacity="0.022"/><rect x="130.0" y="28.95" width="168.5" height="3" opacity="0.029"/><rect x="131.8" y="31.95" width="164.9" height="3" opacity="0.036"/><rect x="133.7" y="34.95" width="161.0" height="3" opacity="0.044"/><rect x="135.6" y="37.95" width="157.1" height="3" opacity="0.051"/><rect x="137.6" y="40.95" width="153.3" height="3" opacity="0.059"/><rect x="139.8" y="43.95" width="148.9" height="3" opacity="0.066"/><rect x="143.5" y="46.95" width="141.4" height="3" opacity="0.072"/><rect x="147.3" y="49.95" width="133.9" height="3" opacity="0.078"/><rect x="151.0" y="52.95" width="126.4" height="3" opacity="0.085"/><rect x="154.6" y="55.95" width="119.2" height="3" opacity="0.090"/><rect x="157.2" y="58.95" width="114.1" height="3" opacity="0.092"/><rect x="159.7" y="61.95" width="108.9" height="3" opacity="0.095"/><rect x="162.3" y="64.95" width="103.8" height="3" opacity="0.097"/><rect x="164.9" y="67.95" width="98.7" height="3" opacity="0.099"/><rect x="167.4" y="70.95" width="93.5" height="3" opacity="0.101"/><rect x="170.0" y="73.95" width="88.4" height="3" opacity="0.103"/><rect x="172.9" y="76.95" width="82.7" height="3" opacity="0.105"/><rect x="177.4" y="79.95" width="73.7" height="3" opacity="0.103"/><rect x="181.9" y="82.95" width="64.7" height="3" opacity="0.102"/><rect x="186.4" y="85.95" width="55.7" height="3" opacity="0.100"/><rect x="189.0" y="88.95" width="50.3" height="3" opacity="0.088"/><rect x="191.3" y="91.95" width="45.8" height="3" opacity="0.073"/><rect x="193.5" y="94.95" width="41.3" height="3" opacity="0.058"/><rect x="195.2" y="97.95" width="38.0" height="3" opacity="0.042"/><rect x="196.2" y="100.95" width="36.0" height="3" opacity="0.025"/><rect x="197.2" y="103.95" width="34.0" height="3" opacity="0.009"/><rect x="190.6" y="76.95" width="47.1" height="3" opacity="0.017"/><rect x="191.5" y="79.95" width="45.3" height="3" opacity="0.053"/><rect x="192.4" y="82.95" width="43.5" height="3" opacity="0.089"/><rect x="193.3" y="85.95" width="41.7" height="3" opacity="0.128"/><rect x="194.2" y="88.95" width="39.9" height="3" opacity="0.182"/><rect x="195.1" y="91.95" width="38.1" height="3" opacity="0.236"/><rect x="196.0" y="94.95" width="36.3" height="3" opacity="0.290"/><rect x="197.7" y="97.95" width="33.1" height="3" opacity="0.447"/><rect x="197.9" y="100.95" width="32.5" height="3" opacity="0.442"/><rect x="198.2" y="103.95" width="32.0" height="3" opacity="0.433"/><rect x="198.4" y="106.95" width="31.5" height="3" opacity="0.425"/><rect x="198.7" y="109.95" width="31.0" height="3" opacity="0.417"/><rect x="198.9" y="112.95" width="30.5" height="3" opacity="0.408"/><rect x="199.2" y="115.95" width="30.0" height="3" opacity="0.400"/><rect x="199.2" y="118.95" width="30.0" height="3" opacity="0.007"/></g><ellipse cx="214.2" cy="117.5" rx="17.4" ry="75.0" fill="url(#gw)" opacity="0.550"/></g><ellipse cx="214.2" cy="117.5" rx="11.4" ry="46.5" fill="url(#gp)" opacity="0.950"/></g></g>
<rect x="2.3" y="2.3" width="422.3" height="287.6" fill="none" stroke="#000" stroke-width="4.6"/>
<path d="M14.5 0V10.6M14.5 292.2V281.6M114.2 0V10.6M114.2 292.2V281.6M213.9 0V10.6M213.9 292.2V281.6M313.6 0V10.6M313.6 292.2V281.6M413.3 0V10.6M413.3 292.2V281.6M0 22.9H10.9M426.9 22.9H416.0M0 90.1H10.9M426.9 90.1H416.0M0 157.6H10.9M426.9 157.6H416.0M0 224.7H10.9M426.9 224.7H416.0" stroke="#000" stroke-width="4.7" fill="none"/>
</g>
<rect x="1411.7" y="171.8" width="191.0" height="20.1" fill="url(#cb)" stroke="#000" stroke-width="3.4"/>
<path d="M1507.1 173.0v4" stroke="#000" stroke-width="3.4"/>
<text x="1403.48" y="147.50" textLength="15.61" lengthAdjust="spacingAndGlyphs">0</text>
<text x="1487.72" y="147.50" textLength="37.57" lengthAdjust="spacingAndGlyphs">0.5</text>
<text x="1593.96" y="147.50" textLength="13.35" lengthAdjust="spacingAndGlyphs">1</text>
<text x="1447.53" y="72.70" textLength="122.08" lengthAdjust="spacingAndGlyphs">Temporal</text>
<text x="1421.46" y="109.20" textLength="174.38" lengthAdjust="spacingAndGlyphs">intensity (kW)</text>
<text x="1249.28" y="172.90" textLength="73.41" lengthAdjust="spacingAndGlyphs">NLSE</text>
<text x="1165.77" y="537.20" textLength="50.86" lengthAdjust="spacingAndGlyphs">-0.4</text>
<text x="1265.77" y="537.20" textLength="50.82" lengthAdjust="spacingAndGlyphs">-0.2</text>
<text x="1382.58" y="537.20" textLength="17.01" lengthAdjust="spacingAndGlyphs">0</text>
<text x="1471.10" y="537.20" textLength="41.71" lengthAdjust="spacingAndGlyphs">0.2</text>
<text x="1570.72" y="537.20" textLength="41.00" lengthAdjust="spacingAndGlyphs">0.4</text>
<text x="1331.46" y="575.80" textLength="118.72" lengthAdjust="spacingAndGlyphs">Time (ps)</text>
<text x="1148.85" y="236.35" textLength="17.24" lengthAdjust="spacingAndGlyphs">2</text>
<text x="1128.19" y="303.55" textLength="39.14" lengthAdjust="spacingAndGlyphs">1.5</text>
<text x="1149.46" y="371.05" textLength="13.35" lengthAdjust="spacingAndGlyphs">1</text>
<text x="1127.04" y="438.15" textLength="40.43" lengthAdjust="spacingAndGlyphs">0.5</text>
<text transform="translate(1109.80 418.60) rotate(-90)" x="-2.34" y="0" textLength="160.51" lengthAdjust="spacingAndGlyphs">Distance (m)</text>
<text x="1135.10" y="106.80" font-size="27" font-weight="bold" textLength="15.29" lengthAdjust="spacingAndGlyphs">c</text>
<g transform="translate(1663.20 204.05)">
<g clip-path="url(#cf)"><g filter="url(#pm)"><rect x="-5" y="-5" width="436.9" height="302.2" fill="#050505"/><g fill="url(#gh)" filter="url(#v4)"><rect x="35.3" y="-10.05" width="360.7" height="8" opacity="0.050"/><rect x="34.6" y="-2.05" width="362.1" height="8" opacity="0.051"/><rect x="33.9" y="5.95" width="363.6" height="8" opacity="0.052"/><rect x="33.2" y="13.95" width="365.0" height="8" opacity="0.053"/><rect x="32.5" y="21.95" width="366.5" height="8" opacity="0.054"/><rect x="31.7" y="29.95" width="367.9" height="8" opacity="0.055"/><rect x="31.0" y="37.95" width="369.3" height="8" opacity="0.056"/><rect x="30.3" y="45.95" width="370.8" height="8" opacity="0.057"/><rect x="29.6" y="53.95" width="372.2" height="8" opacity="0.058"/><rect x="28.9" y="61.95" width="373.7" height="8" opacity="0.059"/><rect x="28.2" y="69.95" width="375.1" height="8" opacity="0.059"/><rect x="27.4" y="77.95" width="376.5" height="8" opacity="0.060"/><rect x="26.7" y="85.95" width="378.0" height="8" opacity="0.061"/><rect x="26.0" y="93.95" width="379.4" height="8" opacity="0.062"/><rect x="25.3" y="101.95" width="380.8" height="8" opacity="0.063"/><rect x="24.6" y="109.95" width="382.3" height="8" opacity="0.064"/><rect x="23.8" y="117.95" width="383.7" height="8" opacity="0.065"/><rect x="20.8" y="125.95" width="389.8" height="8" opacity="0.067"/><rect x="17.2" y="133.95" width="397.0" height="8" opacity="0.069"/><rect x="13.6" y="141.95" width="404.2" height="8" opacity="0.071"/><rect x="10.0" y="149.95" width="411.4" height="8" opacity="0.073"/><rect x="6.4" y="157.95" width="418.6" height="8" opacity="0.075"/><rect x="-0.3" y="165.95" width="432.0" height="8" opacity="0.075"/><rect x="-7.8" y="173.95" width="446.9" height="8" opacity="0.076"/><rect x="-15.2" y="181.95" width="461.9" height="8" opacity="0.076"/><rect x="-22.7" y="189.95" width="476.8" height="8" opacity="0.076"/><rect x="-30.2" y="197.95" width="491.7" height="8" opacity="0.077"/><rect x="-37.6" y="205.95" width="506.6" height="8" opacity="0.077"/><rect x="-45.1" y="213.95" width="521.5" height="8" opacity="0.078"/><rect x="-52.5" y="221.95" width="536.5" height="8" opacity="0.078"/><rect x="-59.7" y="229.95" width="550.8" height="8" opacity="0.078"/><rect x="-66.8" y="237.95" width="565.0" height="8" opacity="0.078"/><rect x="-73.9" y="245.95" width="579.2" height="8" opacity="0.078"/><rect x="-81.0" y="253.95" width="593.4" height="8" opacity="0.078"/><rect x="-88.1" y="261.95" width="607.6" height="8" opacity="0.078"/><rect x="-95.2" y="269.95" width="621.8" height="8" opacity="0.078"/><rect x="-102.3" y="277.95" width="636.0" height="8" opacity="0.078"/><rect x="-109.4" y="285.95" width="650.3" height="8" opacity="0.078"/><rect x="-116.5" y="293.95" width="664.5" height="8" opacity="0.078"/><rect x="-120.3" y="301.95" width="672.0" height="8" opacity="0.078"/></g><g fill="url(#gh)" filter="url(#v2)"><rect x="200.7" y="158.95" width="30.0" height="4" opacity="0.163"/><rect x="200.4" y="162.95" width="30.6" height="4" opacity="0.450"/><rect x="199.6" y="166.95" width="32.2" height="4" opacity="0.450"/><rect x="198.8" y="170.95" width="33.8" height="4" opacity="0.450"/><rect x="198.0" y="174.95" width="35.4" height="4" opacity="0.450"/><rect x="196.7" y="178.95" width="38.0" height="4" opacity="0.432"/><rect x="195.1" y="182.95" width="41.2" height="4" opacity="0.403"/><rect x="193.5" y="186.95" width="44.4" height="4" opacity="0.373"/><rect x="191.9" y="190.95" width="47.6" height="4" opacity="0.344"/><rect x="189.6" y="194.95" width="52.1" height="4" opacity="0.321"/><rect x="187.2" y="198.95" width="56.9" height="4" opacity="0.299"/><rect x="184.8" y="202.95" width="61.7" height="4" opacity="0.277"/><rect x="182.4" y="206.95" width="66.5" height="4" opacity="0.255"/><rect x="180.0" y="210.95" width="71.3" height="4" opacity="0.233"/><rect x="177.3" y="214.95" width="76.8" height="4" opacity="0.221"/><rect x="174.5" y="218.95" width="82.4" height="4" opacity="0.211"/><rect x="171.7" y="222.95" width="88.0" height="4" opacity="0.201"/><rect x="168.9" y="226.95" width="93.6" height="4" opacity="0.191"/><rect x="166.1" y="230.95" width="99.2" height="4" opacity="0.181"/><rect x="163.3" y="234.95" width="104.8" height="4" opacity="0.171"/><rect x="160.5" y="238.95" width="110.4" height="4" opacity="0.161"/><rect x="157.4" y="242.95" width="116.6" height="4" opacity="0.154"/><rect x="153.8" y="246.95" width="123.8" height="4" opacity="0.150"/><rect x="150.2" y="250.95" width="131.0" height="4" opacity="0.146"/><rect x="146.6" y="254.95" width="138.2" height="4" opacity="0.142"/><rect x="143.0" y="258.95" width="145.4" height="4" opacity="0.138"/><rect x="139.4" y="262.95" width="152.6" height="4" opacity="0.134"/><rect x="135.8" y="266.95" width="159.8" height="4" opacity="0.130"/><rect x="132.2" y="270.95" width="167.0" height="4" opacity="0.126"/><rect x="128.6" y="274.95" width="174.2" height="4" opacity="0.122"/><rect x="125.0" y="278.95" width="181.4" height="4" opacity="0.118"/><rect x="121.5" y="282.95" width="188.3" height="4" opacity="0.114"/><rect x="118.3" y="286.95" width="194.8" height="4" opacity="0.112"/><rect x="115.1" y="290.95" width="201.2" height="4" opacity="0.110"/><rect x="111.9" y="294.95" width="207.6" height="4" opacity="0.108"/><rect x="108.7" y="298.95" width="214.0" height="4" opacity="0.106"/><rect x="105.5" y="302.95" width="220.5" height="4" opacity="0.104"/></g><ellipse cx="194.2" cy="164.5" rx="22.5" ry="39.0" fill="url(#gk)" opacity="0.920"/><ellipse cx="237.2" cy="164.5" rx="22.5" ry="39.0" fill="url(#gk)" opacity="0.920"/><ellipse cx="215.7" cy="38.5" rx="36.0" ry="109.5" fill="url(#gk)" opacity="0.800"/><g fill="url(#gh)" filter="url(#v2)"><rect x="162.7" y="-12.05" width="36.0" height="3" opacity="0.360"/><rect x="162.7" y="-9.05" width="36.0" height="3" opacity="0.360"/><rect x="162.7" y="-6.05" width="36.0" height="3" opacity="0.360"/><rect x="162.7" y="-3.05" width="36.0" height="3" opacity="0.360"/><rect x="162.7" y="-0.05" width="36.0" height="3" opacity="0.360"/><rect x="162.6" y="2.95" width="36.1" height="3" opacity="0.362"/><rect x="162.3" y="5.95" width="36.8" height="3" opacity="0.372"/><rect x="161.9" y="8.95" width="37.5" height="3" opacity="0.382"/><rect x="161.6" y="11.95" width="38.3" height="3" opacity="0.392"/><rect x="161.2" y="14.95" width="39.0" height="3" opacity="0.403"/><rect x="160.8" y="17.95" width="39.7" height="3" opacity="0.413"/><rect x="160.5" y="20.95" width="40.4" height="3" opacity="0.423"/><rect x="160.1" y="23.95" width="41.1" height="3" opacity="0.434"/><rect x="159.8" y="26.95" width="41.9" height="3" opacity="0.444"/><rect x="159.4" y="29.95" width="42.6" height="3" opacity="0.454"/><rect x="159.0" y="32.95" width="43.3" height="3" opacity="0.464"/><rect x="158.7" y="35.95" width="44.0" height="3" opacity="0.474"/><rect x="158.3" y="38.95" width="44.7" height="3" opacity="0.484"/><rect x="158.0" y="41.95" width="45.5" height="3" opacity="0.494"/><rect x="157.6" y="44.95" width="46.2" height="3" opacity="0.495"/><rect x="157.2" y="47.95" width="46.9" height="3" opacity="0.482"/><rect x="156.9" y="50.95" width="47.6" height="3" opacity="0.469"/><rect x="156.5" y="53.95" width="48.3" height="3" opacity="0.456"/><rect x="156.2" y="56.95" width="49.1" height="3" opacity="0.444"/><rect x="155.8" y="59.95" width="49.8" height="3" opacity="0.431"/><rect x="155.4" y="62.95" width="50.5" height="3" opacity="0.417"/><rect x="155.1" y="65.95" width="51.2" height="3" opacity="0.397"/><rect x="154.7" y="68.95" width="51.9" height="3" opacity="0.377"/><rect x="154.4" y="71.95" width="52.7" height="3" opacity="0.357"/><rect x="154.0" y="74.95" width="53.4" height="3" opacity="0.337"/><rect x="153.5" y="77.95" width="54.6" height="3" opacity="0.319"/><rect x="151.9" y="80.95" width="58.4" height="3" opacity="0.309"/><rect x="150.3" y="83.95" width="62.3" height="3" opacity="0.299"/><rect x="149.6" y="86.95" width="65.5" height="3" opacity="0.290"/><rect x="148.8" y="89.95" width="68.8" height="3" opacity="0.280"/><rect x="149.1" y="92.95" width="71.0" height="3" opacity="0.271"/><rect x="149.4" y="95.95" width="73.2" height="3" opacity="0.261"/><rect x="150.8" y="98.95" width="74.1" height="3" opacity="0.251"/><rect x="152.3" y="101.95" width="74.9" height="3" opacity="0.242"/><rect x="154.8" y="104.95" width="74.4" height="3" opacity="0.232"/><rect x="157.6" y="107.95" width="73.6" height="3" opacity="0.223"/><rect x="161.2" y="110.95" width="71.8" height="3" opacity="0.213"/><rect x="165.2" y="113.95" width="69.6" height="3" opacity="0.203"/><rect x="169.8" y="116.95" width="66.7" height="3" opacity="0.194"/><rect x="174.7" y="119.95" width="63.5" height="3" opacity="0.184"/><rect x="180.1" y="122.95" width="59.9" height="3" opacity="0.175"/><rect x="185.8" y="125.95" width="56.0" height="3" opacity="0.165"/><rect x="189.8" y="128.95" width="51.8" height="3" opacity="0.131"/><rect x="192.0" y="131.95" width="47.3" height="3" opacity="0.071"/><rect x="194.3" y="134.95" width="42.8" height="3" opacity="0.011"/><rect x="232.7" y="-12.05" width="36.0" height="3" opacity="0.360"/><rect x="232.7" y="-9.05" width="36.0" height="3" opacity="0.360"/><rect x="232.7" y="-6.05" width="36.0" height="3" opacity="0.360"/><rect x="232.7" y="-3.05" width="36.0" height="3" opacity="0.360"/><rect x="232.7" y="-0.05" width="36.0" height="3" opacity="0.360"/><rect x="232.6" y="2.95" width="36.1" height="3" opacity="0.362"/><rect x="232.3" y="5.95" width="36.8" height="3" opacity="0.372"/><rect x="231.9" y="8.95" width="37.5" height="3" opacity="0.382"/><rect x="231.6" y="11.95" width="38.3" height="3" opacity="0.392"/><rect x="231.2" y="14.95" width="39.0" height="3" opacity="0.403"/><rect x="230.8" y="17.95" width="39.7" height="3" opacity="0.413"/><rect x="230.5" y="20.95" width="40.4" height="3" opacity="0.423"/><rect x="230.1" y="23.95" width="41.1" height="3" opacity="0.434"/><rect x="229.8" y="26.95" width="41.9" height="3" opacity="0.444"/><rect x="229.4" y="29.95" width="42.6" height="3" opacity="0.454"/><rect x="229.0" y="32.95" width="43.3" height="3" opacity="0.464"/><rect x="228.7" y="35.95" width="44.0" height="3" opacity="0.474"/><rect x="228.3" y="38.95" width="44.7" height="3" opacity="0.484"/><rect x="228.0" y="41.95" width="45.5" height="3" opacity="0.494"/><rect x="227.6" y="44.95" width="46.2" height="3" opacity="0.495"/><rect x="227.2" y="47.95" width="46.9" height="3" opacity="0.482"/><rect x="226.9" y="50.95" width="47.6" height="3" opacity="0.469"/><rect x="226.5" y="53.95" width="48.3" height="3" opacity="0.456"/><rect x="226.2" y="56.95" width="49.1" height="3" opacity="0.444"/><rect x="225.8" y="59.95" width="49.8" height="3" opacity="0.431"/><rect x="225.4" y="62.95" width="50.5" height="3" opacity="0.417"/><rect x="225.1" y="65.95" width="51.2" height="3" opacity="0.397"/><rect x="224.7" y="68.95" width="51.9" height="3" opacity="0.377"/><rect x="224.4" y="71.95" width="52.7" height="3" opacity="0.357"/><rect x="224.0" y="74.95" width="53.4" height="3" opacity="0.337"/><rect x="223.4" y="77.95" width="54.6" height="3" opacity="0.319"/><rect x="221.1" y="80.95" width="58.4" height="3" opacity="0.309"/><rect x="218.8" y="83.95" width="62.3" height="3" opacity="0.299"/><rect x="216.3" y="86.95" width="65.5" height="3" opacity="0.290"/><rect x="213.8" y="89.95" width="68.8" height="3" opacity="0.280"/><rect x="211.3" y="92.95" width="71.0" height="3" opacity="0.271"/><rect x="208.8" y="95.95" width="73.2" height="3" opacity="0.261"/><rect x="206.5" y="98.95" width="74.1" height="3" opacity="0.251"/><rect x="204.2" y="101.95" width="74.9" height="3" opacity="0.242"/><rect x="202.2" y="104.95" width="74.4" height="3" opacity="0.232"/><rect x="200.2" y="107.95" width="73.6" height="3" opacity="0.223"/><rect x="198.4" y="110.95" width="71.8" height="3" opacity="0.213"/><rect x="196.6" y="113.95" width="69.6" height="3" opacity="0.203"/><rect x="194.9" y="116.95" width="66.7" height="3" opacity="0.194"/><rect x="193.3" y="119.95" width="63.5" height="3" opacity="0.184"/><rect x="191.5" y="122.95" width="59.9" height="3" opacity="0.175"/><rect x="189.6" y="125.95" width="56.0" height="3" opacity="0.165"/><rect x="189.8" y="128.95" width="51.8" height="3" opacity="0.131"/><rect x="192.0" y="131.95" width="47.3" height="3" opacity="0.071"/><rect x="194.3" y="134.95" width="42.8" height="3" opacity="0.011"/><rect x="127.6" y="57.95" width="176.2" height="3" opacity="0.010"/><rect x="128.9" y="60.95" width="173.6" height="3" opacity="0.016"/><rect x="130.2" y="63.95" width="171.0" height="3" opacity="0.022"/><rect x="131.5" y="66.95" width="168.5" height="3" opacity="0.029"/><rect x="133.3" y="69.95" width="164.9" height="3" opacity="0.036"/><rect x="135.2" y="72.95" width="161.0" height="3" opacity="0.044"/><rect x="137.1" y="75.95" width="157.1" height="3" opacity="0.051"/><rect x="139.1" y="78.95" width="153.3" height="3" opacity="0.059"/><rect x="141.3" y="81.95" width="148.9" height="3" opacity="0.066"/><rect x="145.0" y="84.95" width="141.4" height="3" opacity="0.072"/><rect x="148.8" y="87.95" width="133.9" height="3" opacity="0.078"/><rect x="152.5" y="90.95" width="126.4" height="3" opacity="0.085"/><rect x="156.1" y="93.95" width="119.2" height="3" opacity="0.090"/><rect x="158.7" y="96.95" width="114.1" height="3" opacity="0.092"/><rect x="161.2" y="99.95" width="108.9" height="3" opacity="0.095"/><rect x="163.8" y="102.95" width="103.8" height="3" opacity="0.097"/><rect x="166.4" y="105.95" width="98.7" height="3" opacity="0.099"/><rect x="168.9" y="108.95" width="93.5" height="3" opacity="0.101"/><rect x="171.5" y="111.95" width="88.4" height="3" opacity="0.103"/><rect x="174.4" y="114.95" width="82.7" height="3" opacity="0.105"/><rect x="178.9" y="117.95" width="73.7" height="3" opacity="0.103"/><rect x="183.4" y="120.95" width="64.7" height="3" opacity="0.102"/><rect x="187.9" y="123.95" width="55.7" height="3" opacity="0.100"/><rect x="190.5" y="126.95" width="50.3" height="3" opacity="0.088"/><rect x="192.8" y="129.95" width="45.8" height="3" opacity="0.073"/><rect x="195.0" y="132.95" width="41.3" height="3" opacity="0.058"/><rect x="196.7" y="135.95" width="38.0" height="3" opacity="0.042"/><rect x="197.7" y="138.95" width="36.0" height="3" opacity="0.025"/><rect x="198.7" y="141.95" width="34.0" height="3" opacity="0.009"/><rect x="192.1" y="114.95" width="47.1" height="3" opacity="0.017"/><rect x="193.0" y="117.95" width="45.3" height="3" opacity="0.053"/><rect x="193.9" y="120.95" width="43.5" height="3" opacity="0.089"/><rect x="194.8" y="123.95" width="41.7" height="3" opacity="0.128"/><rect x="195.7" y="126.95" width="39.9" height="3" opacity="0.182"/><rect x="196.6" y="129.95" width="38.1" height="3" opacity="0.236"/><rect x="197.5" y="132.95" width="36.3" height="3" opacity="0.290"/><rect x="198.0" y="135.95" width="35.3" height="3" opacity="0.335"/><rect x="198.5" y="138.95" width="34.4" height="3" opacity="0.378"/><rect x="198.9" y="141.95" width="33.6" height="3" opacity="0.421"/><rect x="199.3" y="144.95" width="32.8" height="3" opacity="0.447"/><rect x="199.5" y="147.95" width="32.3" height="3" opacity="0.439"/><rect x="199.8" y="150.95" width="31.8" height="3" opacity="0.431"/><rect x="200.0" y="153.95" width="31.3" height="3" opacity="0.422"/><rect x="200.3" y="156.95" width="30.8" height="3" opacity="0.414"/><rect x="200.5" y="159.95" width="30.3" height="3" opacity="0.406"/><rect x="200.7" y="162.95" width="30.0" height="3" opacity="0.273"/></g><ellipse cx="215.7" cy="163.5" rx="17.4" ry="69.0" fill="url(#gw)" opacity="0.550"/><ellipse cx="215.7" cy="163.5" rx="11.1" ry="40.5" fill="url(#gp)" opacity="1.000"/></g></g>
<rect x="2.3" y="2.3" width="422.3" height="287.6" fill="none" stroke="#000" stroke-width="4.6"/>
<path d="M14.5 0V10.6M14.5 292.2V281.6M114.2 0V10.6M114.2 292.2V281.6M213.9 0V10.6M213.9 292.2V281.6M313.6 0V10.6M313.6 292.2V281.6M413.3 0V10.6M413.3 292.2V281.6M0 22.9H10.9M426.9 22.9H416.0M0 90.1H10.9M426.9 90.1H416.0M0 157.6H10.9M426.9 157.6H416.0M0 224.7H10.9M426.9 224.7H416.0" stroke="#000" stroke-width="4.7" fill="none"/>
</g>
<rect x="1896.7" y="171.8" width="191.0" height="20.1" fill="url(#cb)" stroke="#000" stroke-width="3.4"/>
<path d="M1992.1 173.0v4" stroke="#000" stroke-width="3.4"/>
<text x="1888.48" y="147.50" textLength="15.61" lengthAdjust="spacingAndGlyphs">0</text>
<text x="1972.72" y="147.50" textLength="37.57" lengthAdjust="spacingAndGlyphs">0.5</text>
<text x="2078.96" y="147.50" textLength="13.35" lengthAdjust="spacingAndGlyphs">1</text>
<text x="1932.53" y="72.70" textLength="122.08" lengthAdjust="spacingAndGlyphs">Temporal</text>
<text x="1906.46" y="109.20" textLength="174.38" lengthAdjust="spacingAndGlyphs">intensity (kW)</text>
<text x="1750.12" y="172.95" textLength="65.02" lengthAdjust="spacingAndGlyphs">RNN</text>
<text x="1650.77" y="537.20" textLength="50.86" lengthAdjust="spacingAndGlyphs">-0.4</text>
<text x="1750.77" y="537.20" textLength="50.82" lengthAdjust="spacingAndGlyphs">-0.2</text>
<text x="1867.58" y="537.20" textLength="17.01" lengthAdjust="spacingAndGlyphs">0</text>
<text x="1956.10" y="537.20" textLength="41.71" lengthAdjust="spacingAndGlyphs">0.2</text>
<text x="2055.72" y="537.20" textLength="41.00" lengthAdjust="spacingAndGlyphs">0.4</text>
<text x="1816.46" y="575.80" textLength="118.72" lengthAdjust="spacingAndGlyphs">Time (ps)</text>
<g transform="translate(105.20 796.05)">
<g clip-path="url(#cf)"><g filter="url(#pm)"><g filter="url(#pn1)"><rect x="-5" y="-5" width="436.9" height="302.2" fill="#050505"/><g fill="url(#gh)" filter="url(#v4)"><rect x="-85.8" y="-10.05" width="600.0" height="8" opacity="0.056"/><rect x="-85.8" y="-2.05" width="600.0" height="8" opacity="0.057"/><rect x="-85.8" y="5.95" width="600.0" height="8" opacity="0.058"/><rect x="-85.8" y="13.95" width="600.0" height="8" opacity="0.059"/><rect x="-85.8" y="21.95" width="600.0" height="8" opacity="0.060"/><rect x="-85.8" y="29.95" width="600.0" height="8" opacity="0.061"/><rect x="-85.8" y="37.95" width="600.0" height="8" opacity="0.063"/><rect x="-85.8" y="45.95" width="600.0" height="8" opacity="0.064"/><rect x="-85.8" y="53.95" width="600.0" height="8" opacity="0.065"/><rect x="-85.8" y="61.95" width="600.0" height="8" opacity="0.066"/><rect x="-85.8" y="69.95" width="600.0" height="8" opacity="0.067"/><rect x="-85.8" y="77.95" width="600.0" height="8" opacity="0.069"/><rect x="-85.8" y="85.95" width="600.0" height="8" opacity="0.070"/><rect x="-85.8" y="93.95" width="600.0" height="8" opacity="0.071"/><rect x="-85.8" y="101.95" width="600.0" height="8" opacity="0.073"/><rect x="-85.8" y="109.95" width="600.0" height="8" opacity="0.074"/><rect x="-85.8" y="117.95" width="600.0" height="8" opacity="0.076"/><rect x="-85.8" y="125.95" width="600.0" height="8" opacity="0.078"/><rect x="-85.8" y="133.95" width="600.0" height="8" opacity="0.079"/><rect x="-85.8" y="141.95" width="600.0" height="8" opacity="0.081"/><rect x="-85.8" y="149.95" width="600.0" height="8" opacity="0.083"/><rect x="-85.8" y="157.95" width="600.0" height="8" opacity="0.084"/><rect x="-85.8" y="165.95" width="600.0" height="8" opacity="0.086"/><rect x="-85.8" y="173.95" width="600.0" height="8" opacity="0.087"/><rect x="-85.8" y="181.95" width="600.0" height="8" opacity="0.089"/><rect x="-85.8" y="189.95" width="600.0" height="8" opacity="0.091"/><rect x="-85.8" y="197.95" width="600.0" height="8" opacity="0.092"/><rect x="-85.8" y="205.95" width="600.0" height="8" opacity="0.094"/><rect x="-87.9" y="213.95" width="604.2" height="8" opacity="0.096"/><rect x="-94.8" y="221.95" width="618.1" height="8" opacity="0.097"/><rect x="-101.8" y="229.95" width="631.9" height="8" opacity="0.099"/><rect x="-108.7" y="237.95" width="645.8" height="8" opacity="0.101"/><rect x="-115.6" y="245.95" width="659.6" height="8" opacity="0.103"/><rect x="-122.5" y="253.95" width="673.4" height="8" opacity="0.105"/><rect x="-129.4" y="261.95" width="687.3" height="8" opacity="0.107"/><rect x="-136.4" y="269.95" width="701.1" height="8" opacity="0.108"/><rect x="-143.3" y="277.95" width="715.0" height="8" opacity="0.110"/><rect x="-150.2" y="285.95" width="728.8" height="8" opacity="0.112"/><rect x="-157.1" y="293.95" width="742.6" height="8" opacity="0.114"/><rect x="-160.8" y="301.95" width="750.0" height="8" opacity="0.115"/></g><g fill="url(#gh)" filter="url(#v2)"><rect x="201.8" y="208.95" width="24.7" height="4" opacity="0.097"/><rect x="200.8" y="212.95" width="26.7" height="4" opacity="0.363"/><rect x="197.5" y="216.95" width="33.5" height="4" opacity="0.409"/><rect x="193.7" y="220.95" width="41.0" height="4" opacity="0.419"/><rect x="187.3" y="224.95" width="53.8" height="4" opacity="0.376"/><rect x="180.3" y="228.95" width="67.8" height="4" opacity="0.326"/><rect x="172.3" y="232.95" width="83.8" height="4" opacity="0.290"/><rect x="164.3" y="236.95" width="99.8" height="4" opacity="0.255"/><rect x="157.2" y="240.95" width="114.1" height="4" opacity="0.237"/><rect x="150.2" y="244.95" width="128.1" height="4" opacity="0.222"/><rect x="143.2" y="248.95" width="142.1" height="4" opacity="0.207"/><rect x="137.8" y="252.95" width="152.7" height="4" opacity="0.200"/><rect x="132.8" y="256.95" width="162.8" height="4" opacity="0.193"/><rect x="127.7" y="260.95" width="172.9" height="4" opacity="0.187"/><rect x="122.7" y="264.95" width="183.0" height="4" opacity="0.181"/><rect x="117.7" y="268.95" width="192.9" height="4" opacity="0.175"/><rect x="113.7" y="272.95" width="200.9" height="4" opacity="0.172"/><rect x="109.7" y="276.95" width="208.9" height="4" opacity="0.169"/><rect x="105.7" y="280.95" width="216.9" height="4" opacity="0.166"/><rect x="101.7" y="284.95" width="224.9" height="4" opacity="0.163"/><rect x="97.7" y="288.95" width="232.9" height="4" opacity="0.160"/><rect x="94.5" y="292.95" width="239.5" height="4" opacity="0.159"/><rect x="91.3" y="296.95" width="245.8" height="4" opacity="0.158"/><rect x="88.1" y="300.95" width="252.2" height="4" opacity="0.157"/></g><ellipse cx="203.2" cy="213.5" rx="13.8" ry="13.2" fill="url(#gk)" opacity="0.950"/><ellipse cx="225.2" cy="213.5" rx="13.8" ry="13.2" fill="url(#gk)" opacity="0.950"/><ellipse cx="214.2" cy="185.8" rx="24.0" ry="15.0" fill="url(#gk)" opacity="0.880"/><ellipse cx="183.2" cy="186.8" rx="15.0" ry="16.5" fill="url(#gk)" opacity="0.880"/><ellipse cx="245.2" cy="186.8" rx="15.0" ry="16.5" fill="url(#gk)" opacity="0.880"/><ellipse cx="194.2" cy="146.0" rx="19.5" ry="25.5" fill="url(#gk)" opacity="0.880"/><ellipse cx="157.7" cy="149.0" rx="18.0" ry="24.0" fill="url(#gk)" opacity="0.880"/><ellipse cx="234.2" cy="146.0" rx="19.5" ry="25.5" fill="url(#gk)" opacity="0.880"/><ellipse cx="270.7" cy="149.0" rx="18.0" ry="24.0" fill="url(#gk)" opacity="0.880"/><ellipse cx="171.7" cy="93.0" rx="25.5" ry="45.0" fill="url(#gk)" opacity="0.880"/><ellipse cx="214.2" cy="93.0" rx="25.5" ry="45.0" fill="url(#gk)" opacity="0.880"/><ellipse cx="256.7" cy="93.0" rx="25.5" ry="45.0" fill="url(#gk)" opacity="0.880"/><ellipse cx="127.2" cy="95.0" rx="30.0" ry="48.0" fill="url(#gk)" opacity="0.748"/><ellipse cx="301.2" cy="95.0" rx="30.0" ry="48.0" fill="url(#gk)" opacity="0.748"/><ellipse cx="148.2" cy="13.0" rx="25.5" ry="54.0" fill="url(#gk)" opacity="0.660"/><ellipse cx="194.2" cy="13.0" rx="25.5" ry="54.0" fill="url(#gk)" opacity="0.660"/><ellipse cx="234.2" cy="13.0" rx="25.5" ry="54.0" fill="url(#gk)" opacity="0.660"/><ellipse cx="280.2" cy="13.0" rx="25.5" ry="54.0" fill="url(#gk)" opacity="0.660"/><g fill="url(#gh)" filter="url(#v2)"><rect x="182.6" y="180.95" width="25.2" height="3" opacity="0.030"/><rect x="182.6" y="183.95" width="25.2" height="3" opacity="0.187"/><rect x="182.6" y="186.95" width="25.2" height="3" opacity="0.345"/><rect x="181.9" y="189.95" width="26.7" height="3" opacity="0.404"/><rect x="181.2" y="192.95" width="29.3" height="3" opacity="0.373"/><rect x="181.7" y="195.95" width="31.0" height="3" opacity="0.341"/><rect x="183.8" y="198.95" width="31.4" height="3" opacity="0.320"/><rect x="187.6" y="201.95" width="30.6" height="3" opacity="0.351"/><rect x="193.0" y="204.95" width="28.6" height="3" opacity="0.382"/><rect x="200.0" y="207.95" width="25.8" height="3" opacity="0.356"/><rect x="202.2" y="210.95" width="24.0" height="3" opacity="0.178"/><rect x="220.6" y="180.95" width="25.2" height="3" opacity="0.030"/><rect x="220.6" y="183.95" width="25.2" height="3" opacity="0.187"/><rect x="220.6" y="186.95" width="25.2" height="3" opacity="0.345"/><rect x="219.8" y="189.95" width="26.7" height="3" opacity="0.404"/><rect x="217.9" y="192.95" width="29.3" height="3" opacity="0.373"/><rect x="215.7" y="195.95" width="31.0" height="3" opacity="0.341"/><rect x="213.2" y="198.95" width="31.4" height="3" opacity="0.320"/><rect x="210.3" y="201.95" width="30.6" height="3" opacity="0.351"/><rect x="206.9" y="204.95" width="28.6" height="3" opacity="0.382"/><rect x="202.6" y="207.95" width="25.8" height="3" opacity="0.356"/><rect x="202.2" y="210.95" width="24.0" height="3" opacity="0.178"/><rect x="159.2" y="142.95" width="30.0" height="3" opacity="0.051"/><rect x="159.2" y="145.95" width="30.0" height="3" opacity="0.193"/><rect x="159.2" y="148.95" width="30.0" height="3" opacity="0.336"/><rect x="158.4" y="151.95" width="31.7" height="3" opacity="0.366"/><rect x="157.6" y="154.95" width="34.0" height="3" opacity="0.346"/><rect x="157.5" y="157.95" width="35.8" height="3" opacity="0.326"/><rect x="158.1" y="160.95" width="37.0" height="3" opacity="0.306"/><rect x="159.7" y="163.95" width="37.5" height="3" opacity="0.286"/><rect x="162.2" y="166.95" width="37.1" height="3" opacity="0.305"/><rect x="165.8" y="169.95" width="35.9" height="3" opacity="0.325"/><rect x="170.3" y="172.95" width="34.1" height="3" opacity="0.345"/><rect x="175.7" y="175.95" width="31.8" height="3" opacity="0.349"/><rect x="180.4" y="178.95" width="29.5" height="3" opacity="0.257"/><rect x="181.3" y="181.95" width="27.7" height="3" opacity="0.075"/><rect x="199.2" y="142.95" width="30.0" height="3" opacity="0.032"/><rect x="199.2" y="145.95" width="30.0" height="3" opacity="0.120"/><rect x="199.2" y="148.95" width="30.0" height="3" opacity="0.208"/><rect x="198.3" y="151.95" width="31.7" height="3" opacity="0.252"/><rect x="196.8" y="154.95" width="34.0" height="3" opacity="0.273"/><rect x="195.2" y="157.95" width="35.8" height="3" opacity="0.290"/><rect x="193.5" y="160.95" width="37.0" height="3" opacity="0.303"/><rect x="191.6" y="163.95" width="37.5" height="3" opacity="0.286"/><rect x="189.7" y="166.95" width="37.1" height="3" opacity="0.305"/><rect x="187.6" y="169.95" width="35.9" height="3" opacity="0.325"/><rect x="185.2" y="172.95" width="34.1" height="3" opacity="0.345"/><rect x="182.5" y="175.95" width="31.8" height="3" opacity="0.349"/><rect x="180.4" y="178.95" width="29.5" height="3" opacity="0.257"/><rect x="181.3" y="181.95" width="27.7" height="3" opacity="0.075"/><rect x="199.2" y="142.95" width="30.0" height="3" opacity="0.032"/><rect x="199.2" y="145.95" width="30.0" height="3" opacity="0.120"/><rect x="199.2" y="148.95" width="30.0" height="3" opacity="0.208"/><rect x="198.4" y="151.95" width="31.7" height="3" opacity="0.252"/><rect x="197.6" y="154.95" width="34.0" height="3" opacity="0.273"/><rect x="197.4" y="157.95" width="35.8" height="3" opacity="0.290"/><rect x="197.9" y="160.95" width="37.0" height="3" opacity="0.303"/><rect x="199.3" y="163.95" width="37.5" height="3" opacity="0.286"/><rect x="201.6" y="166.95" width="37.1" height="3" opacity="0.305"/><rect x="204.9" y="169.95" width="35.9" height="3" opacity="0.325"/><rect x="209.1" y="172.95" width="34.1" height="3" opacity="0.345"/><rect x="214.1" y="175.95" width="31.8" height="3" opacity="0.349"/><rect x="218.4" y="178.95" width="29.5" height="3" opacity="0.257"/><rect x="219.3" y="181.95" width="27.7" height="3" opacity="0.075"/><rect x="239.2" y="142.95" width="30.0" height="3" opacity="0.051"/><rect x="239.2" y="145.95" width="30.0" height="3" opacity="0.193"/><rect x="239.2" y="148.95" width="30.0" height="3" opacity="0.336"/><rect x="238.3" y="151.95" width="31.7" height="3" opacity="0.366"/><rect x="236.8" y="154.95" width="34.0" height="3" opacity="0.346"/><rect x="235.1" y="157.95" width="35.8" height="3" opacity="0.326"/><rect x="233.2" y="160.95" width="37.0" height="3" opacity="0.306"/><rect x="231.2" y="163.95" width="37.5" height="3" opacity="0.286"/><rect x="229.1" y="166.95" width="37.1" height="3" opacity="0.305"/><rect x="226.7" y="169.95" width="35.9" height="3" opacity="0.325"/><rect x="224.0" y="172.95" width="34.1" height="3" opacity="0.345"/><rect x="220.8" y="175.95" width="31.8" height="3" opacity="0.349"/><rect x="218.4" y="178.95" width="29.5" height="3" opacity="0.257"/><rect x="219.3" y="181.95" width="27.7" height="3" opacity="0.075"/><rect x="132.1" y="88.95" width="34.8" height="3" opacity="0.039"/><rect x="132.1" y="91.95" width="34.8" height="3" opacity="0.152"/><rect x="132.1" y="94.95" width="34.8" height="3" opacity="0.264"/><rect x="131.5" y="97.95" width="36.1" height="3" opacity="0.293"/><rect x="130.8" y="100.95" width="37.9" height="3" opacity="0.282"/><rect x="130.2" y="103.95" width="39.6" height="3" opacity="0.272"/><rect x="130.1" y="106.95" width="41.0" height="3" opacity="0.261"/><rect x="130.4" y="109.95" width="42.2" height="3" opacity="0.251"/><rect x="130.9" y="112.95" width="43.0" height="3" opacity="0.241"/><rect x="132.2" y="115.95" width="43.4" height="3" opacity="0.230"/><rect x="133.8" y="118.95" width="43.3" height="3" opacity="0.230"/><rect x="135.8" y="121.95" width="43.0" height="3" opacity="0.241"/><rect x="138.5" y="124.95" width="42.1" height="3" opacity="0.251"/><rect x="141.6" y="127.95" width="41.0" height="3" opacity="0.262"/><rect x="145.2" y="130.95" width="39.6" height="3" opacity="0.272"/><rect x="149.2" y="133.95" width="37.9" height="3" opacity="0.283"/><rect x="153.7" y="136.95" width="36.0" height="3" opacity="0.261"/><rect x="157.2" y="139.95" width="34.1" height="3" opacity="0.191"/><rect x="158.2" y="142.95" width="32.0" height="3" opacity="0.047"/><rect x="176.2" y="88.95" width="34.8" height="3" opacity="0.024"/><rect x="176.2" y="91.95" width="34.8" height="3" opacity="0.094"/><rect x="176.2" y="94.95" width="34.8" height="3" opacity="0.164"/><rect x="175.5" y="97.95" width="36.1" height="3" opacity="0.194"/><rect x="174.5" y="100.95" width="37.9" height="3" opacity="0.206"/><rect x="173.4" y="103.95" width="39.6" height="3" opacity="0.217"/><rect x="172.2" y="106.95" width="41.0" height="3" opacity="0.226"/><rect x="171.0" y="109.95" width="42.2" height="3" opacity="0.233"/><rect x="169.8" y="112.95" width="43.0" height="3" opacity="0.240"/><rect x="168.5" y="115.95" width="43.4" height="3" opacity="0.230"/><rect x="167.3" y="118.95" width="43.3" height="3" opacity="0.230"/><rect x="166.0" y="121.95" width="43.0" height="3" opacity="0.241"/><rect x="164.6" y="124.95" width="42.1" height="3" opacity="0.251"/><rect x="163.2" y="127.95" width="41.0" height="3" opacity="0.262"/><rect x="161.7" y="130.95" width="39.6" height="3" opacity="0.272"/><rect x="160.0" y="133.95" width="37.9" height="3" opacity="0.283"/><rect x="158.1" y="136.95" width="36.0" height="3" opacity="0.261"/><rect x="157.2" y="139.95" width="34.1" height="3" opacity="0.191"/><rect x="158.2" y="142.95" width="32.0" height="3" opacity="0.047"/><rect x="176.2" y="88.95" width="34.8" height="3" opacity="0.024"/><rect x="176.2" y="91.95" width="34.8" height="3" opacity="0.094"/><rect x="176.2" y="94.95" width="34.8" height="3" opacity="0.164"/><rect x="175.6" y="97.95" width="36.1" height="3" opacity="0.194"/><rect x="174.8" y="100.95" width="37.9" height="3" opacity="0.206"/><rect x="174.3" y="103.95" width="39.6" height="3" opacity="0.217"/><rect x="174.0" y="106.95" width="41.0" height="3" opacity="0.226"/><rect x="174.1" y="109.95" width="42.2" height="3" opacity="0.233"/><rect x="174.5" y="112.95" width="43.0" height="3" opacity="0.240"/><rect x="175.5" y="115.95" width="43.4" height="3" opacity="0.230"/><rect x="176.9" y="118.95" width="43.3" height="3" opacity="0.230"/><rect x="178.6" y="121.95" width="43.0" height="3" opacity="0.241"/><rect x="180.9" y="124.95" width="42.1" height="3" opacity="0.251"/><rect x="183.6" y="127.95" width="41.0" height="3" opacity="0.262"/><rect x="186.7" y="130.95" width="39.6" height="3" opacity="0.272"/><rect x="190.2" y="133.95" width="37.9" height="3" opacity="0.283"/><rect x="194.1" y="136.95" width="36.0" height="3" opacity="0.261"/><rect x="197.2" y="139.95" width="34.1" height="3" opacity="0.191"/><rect x="198.2" y="142.95" width="32.0" height="3" opacity="0.047"/><rect x="217.4" y="88.95" width="34.8" height="3" opacity="0.024"/><rect x="217.4" y="91.95" width="34.8" height="3" opacity="0.094"/><rect x="217.4" y="94.95" width="34.8" height="3" opacity="0.164"/><rect x="216.7" y="97.95" width="36.1" height="3" opacity="0.194"/><rect x="215.7" y="100.95" width="37.9" height="3" opacity="0.206"/><rect x="214.5" y="103.95" width="39.6" height="3" opacity="0.217"/><rect x="213.3" y="106.95" width="41.0" height="3" opacity="0.226"/><rect x="212.1" y="109.95" width="42.2" height="3" opacity="0.233"/><rect x="210.8" y="112.95" width="43.0" height="3" opacity="0.240"/><rect x="209.5" y="115.95" width="43.4" height="3" opacity="0.230"/><rect x="208.2" y="118.95" width="43.3" height="3" opacity="0.230"/><rect x="206.8" y="121.95" width="43.0" height="3" opacity="0.241"/><rect x="205.3" y="124.95" width="42.1" height="3" opacity="0.251"/><rect x="203.8" y="127.95" width="41.0" height="3" opacity="0.262"/><rect x="202.1" y="130.95" width="39.6" height="3" opacity="0.272"/><rect x="200.3" y="133.95" width="37.9" height="3" opacity="0.283"/><rect x="198.2" y="136.95" width="36.0" height="3" opacity="0.261"/><rect x="197.2" y="139.95" width="34.1" height="3" opacity="0.191"/><rect x="198.2" y="142.95" width="32.0" height="3" opacity="0.047"/><rect x="217.4" y="88.95" width="34.8" height="3" opacity="0.024"/><rect x="217.4" y="91.95" width="34.8" height="3" opacity="0.094"/><rect x="217.4" y="94.95" width="34.8" height="3" opacity="0.164"/><rect x="216.8" y="97.95" width="36.1" height="3" opacity="0.194"/><rect x="216.0" y="100.95" width="37.9" height="3" opacity="0.206"/><rect x="215.4" y="103.95" width="39.6" height="3" opacity="0.217"/><rect x="215.2" y="106.95" width="41.0" height="3" opacity="0.226"/><rect x="215.2" y="109.95" width="42.2" height="3" opacity="0.233"/><rect x="215.6" y="112.95" width="43.0" height="3" opacity="0.240"/><rect x="216.5" y="115.95" width="43.4" height="3" opacity="0.230"/><rect x="217.8" y="118.95" width="43.3" height="3" opacity="0.230"/><rect x="219.4" y="121.95" width="43.0" height="3" opacity="0.241"/><rect x="221.6" y="124.95" width="42.1" height="3" opacity="0.251"/><rect x="224.2" y="127.95" width="41.0" height="3" opacity="0.262"/><rect x="227.2" y="130.95" width="39.6" height="3" opacity="0.272"/><rect x="230.5" y="133.95" width="37.9" height="3" opacity="0.283"/><rect x="234.3" y="136.95" width="36.0" height="3" opacity="0.261"/><rect x="237.2" y="139.95" width="34.1" height="3" opacity="0.191"/><rect x="238.2" y="142.95" width="32.0" height="3" opacity="0.047"/><rect x="261.5" y="88.95" width="34.8" height="3" opacity="0.039"/><rect x="261.5" y="91.95" width="34.8" height="3" opacity="0.152"/><rect x="261.5" y="94.95" width="34.8" height="3" opacity="0.264"/><rect x="260.8" y="97.95" width="36.1" height="3" opacity="0.293"/><rect x="259.7" y="100.95" width="37.9" height="3" opacity="0.282"/><rect x="258.6" y="103.95" width="39.6" height="3" opacity="0.272"/><rect x="257.3" y="106.95" width="41.0" height="3" opacity="0.261"/><rect x="255.9" y="109.95" width="42.2" height="3" opacity="0.251"/><rect x="254.4" y="112.95" width="43.0" height="3" opacity="0.241"/><rect x="252.9" y="115.95" width="43.4" height="3" opacity="0.230"/><rect x="251.3" y="118.95" width="43.3" height="3" opacity="0.230"/><rect x="249.6" y="121.95" width="43.0" height="3" opacity="0.241"/><rect x="247.8" y="124.95" width="42.1" height="3" opacity="0.251"/><rect x="245.8" y="127.95" width="41.0" height="3" opacity="0.262"/><rect x="243.7" y="130.95" width="39.6" height="3" opacity="0.272"/><rect x="241.3" y="133.95" width="37.9" height="3" opacity="0.283"/><rect x="238.6" y="136.95" width="36.0" height="3" opacity="0.261"/><rect x="237.2" y="139.95" width="34.1" height="3" opacity="0.191"/><rect x="238.2" y="142.95" width="32.0" height="3" opacity="0.047"/><rect x="102.7" y="-12.05" width="39.0" height="3" opacity="0.215"/><rect x="102.7" y="-9.05" width="39.0" height="3" opacity="0.204"/><rect x="102.7" y="-6.05" width="39.5" height="3" opacity="0.198"/><rect x="102.7" y="-3.05" width="40.5" height="3" opacity="0.199"/><rect x="102.7" y="-0.05" width="41.5" height="3" opacity="0.200"/><rect x="102.9" y="2.95" width="42.5" height="3" opacity="0.201"/><rect x="103.1" y="5.95" width="43.4" height="3" opacity="0.201"/><rect x="103.4" y="8.95" width="44.3" height="3" opacity="0.202"/><rect x="103.7" y="11.95" width="45.1" height="3" opacity="0.203"/><rect x="104.1" y="14.95" width="45.8" height="3" opacity="0.203"/><rect x="104.6" y="17.95" width="46.5" height="3" opacity="0.204"/><rect x="105.1" y="20.95" width="47.1" height="3" opacity="0.205"/><rect x="105.8" y="23.95" width="47.6" height="3" opacity="0.206"/><rect x="106.4" y="26.95" width="48.0" height="3" opacity="0.206"/><rect x="107.2" y="29.95" width="48.4" height="3" opacity="0.207"/><rect x="108.0" y="32.95" width="48.5" height="3" opacity="0.208"/><rect x="108.9" y="35.95" width="48.7" height="3" opacity="0.209"/><rect x="109.8" y="38.95" width="48.7" height="3" opacity="0.209"/><rect x="110.9" y="41.95" width="48.5" height="3" opacity="0.210"/><rect x="112.0" y="44.95" width="48.4" height="3" opacity="0.211"/><rect x="113.1" y="47.95" width="48.0" height="3" opacity="0.212"/><rect x="114.4" y="50.95" width="47.6" height="3" opacity="0.212"/><rect x="115.6" y="53.95" width="47.1" height="3" opacity="0.213"/><rect x="117.0" y="56.95" width="46.5" height="3" opacity="0.214"/><rect x="118.4" y="59.95" width="45.8" height="3" opacity="0.215"/><rect x="119.8" y="62.95" width="45.1" height="3" opacity="0.215"/><rect x="121.3" y="65.95" width="44.3" height="3" opacity="0.216"/><rect x="122.8" y="68.95" width="43.4" height="3" opacity="0.217"/><rect x="124.4" y="71.95" width="42.5" height="3" opacity="0.217"/><rect x="126.0" y="74.95" width="41.5" height="3" opacity="0.211"/><rect x="127.6" y="77.95" width="40.5" height="3" opacity="0.197"/><rect x="129.2" y="80.95" width="39.5" height="3" opacity="0.183"/><rect x="130.6" y="83.95" width="37.8" height="3" opacity="0.121"/><rect x="131.8" y="86.95" width="35.5" height="3" opacity="0.016"/><rect x="154.7" y="26.95" width="39.0" height="3" opacity="0.044"/><rect x="154.5" y="29.95" width="39.3" height="3" opacity="0.122"/><rect x="153.2" y="32.95" width="41.0" height="3" opacity="0.127"/><rect x="151.8" y="35.95" width="42.6" height="3" opacity="0.133"/><rect x="150.2" y="38.95" width="44.2" height="3" opacity="0.139"/><rect x="148.6" y="41.95" width="45.5" height="3" opacity="0.144"/><rect x="146.9" y="44.95" width="46.7" height="3" opacity="0.150"/><rect x="145.3" y="47.95" width="47.6" height="3" opacity="0.156"/><rect x="143.7" y="50.95" width="48.3" height="3" opacity="0.161"/><rect x="142.1" y="53.95" width="48.6" height="3" opacity="0.167"/><rect x="140.6" y="56.95" width="48.7" height="3" opacity="0.172"/><rect x="139.2" y="59.95" width="48.4" height="3" opacity="0.178"/><rect x="137.8" y="62.95" width="47.8" height="3" opacity="0.184"/><rect x="136.5" y="65.95" width="47.0" height="3" opacity="0.189"/><rect x="135.3" y="68.95" width="45.9" height="3" opacity="0.195"/><rect x="134.1" y="71.95" width="44.7" height="3" opacity="0.200"/><rect x="132.9" y="74.95" width="43.1" height="3" opacity="0.206"/><rect x="131.8" y="77.95" width="41.5" height="3" opacity="0.205"/><rect x="130.6" y="80.95" width="39.8" height="3" opacity="0.185"/><rect x="130.6" y="83.95" width="37.8" height="3" opacity="0.121"/><rect x="131.8" y="86.95" width="35.5" height="3" opacity="0.016"/><rect x="154.7" y="26.95" width="39.0" height="3" opacity="0.044"/><rect x="154.6" y="29.95" width="39.3" height="3" opacity="0.122"/><rect x="154.1" y="32.95" width="41.0" height="3" opacity="0.127"/><rect x="153.8" y="35.95" width="42.6" height="3" opacity="0.133"/><rect x="153.6" y="38.95" width="44.2" height="3" opacity="0.139"/><rect x="153.7" y="41.95" width="45.5" height="3" opacity="0.144"/><rect x="153.9" y="44.95" width="46.7" height="3" opacity="0.150"/><rect x="154.4" y="47.95" width="47.6" height="3" opacity="0.156"/><rect x="155.1" y="50.95" width="48.3" height="3" opacity="0.161"/><rect x="156.0" y="53.95" width="48.6" height="3" opacity="0.167"/><rect x="157.1" y="56.95" width="48.7" height="3" opacity="0.172"/><rect x="158.5" y="59.95" width="48.4" height="3" opacity="0.178"/><rect x="160.1" y="62.95" width="47.8" height="3" opacity="0.184"/><rect x="161.8" y="65.95" width="47.0" height="3" opacity="0.189"/><rect x="163.8" y="68.95" width="45.9" height="3" opacity="0.195"/><rect x="165.8" y="71.95" width="44.7" height="3" opacity="0.200"/><rect x="168.1" y="74.95" width="43.1" height="3" opacity="0.206"/><rect x="170.4" y="77.95" width="41.5" height="3" opacity="0.205"/><rect x="172.9" y="80.95" width="39.8" height="3" opacity="0.185"/><rect x="174.7" y="83.95" width="37.8" height="3" opacity="0.121"/><rect x="175.9" y="86.95" width="35.5" height="3" opacity="0.016"/><rect x="194.7" y="20.95" width="39.0" height="3" opacity="0.044"/><rect x="194.5" y="23.95" width="39.2" height="3" opacity="0.122"/><rect x="193.4" y="26.95" width="40.8" height="3" opacity="0.127"/><rect x="192.3" y="29.95" width="42.3" height="3" opacity="0.132"/><rect x="191.0" y="32.95" width="43.7" height="3" opacity="0.137"/><rect x="189.7" y="35.95" width="45.0" height="3" opacity="0.142"/><rect x="188.4" y="38.95" width="46.1" height="3" opacity="0.147"/><rect x="187.0" y="41.95" width="47.1" height="3" opacity="0.152"/><rect x="185.8" y="44.95" width="47.8" height="3" opacity="0.157"/><rect x="184.5" y="47.95" width="48.3" height="3" opacity="0.162"/><rect x="183.3" y="50.95" width="48.6" height="3" opacity="0.167"/><rect x="182.2" y="53.95" width="48.7" height="3" opacity="0.172"/><rect x="181.1" y="56.95" width="48.4" height="3" opacity="0.177"/><rect x="180.2" y="59.95" width="48.0" height="3" opacity="0.182"/><rect x="179.2" y="62.95" width="47.3" height="3" opacity="0.187"/><rect x="178.4" y="65.95" width="46.4" height="3" opacity="0.192"/><rect x="177.5" y="68.95" width="45.3" height="3" opacity="0.197"/><rect x="176.8" y="71.95" width="44.1" height="3" opacity="0.202"/><rect x="176.0" y="74.95" width="42.7" height="3" opacity="0.207"/><rect x="175.2" y="77.95" width="41.3" height="3" opacity="0.202"/><rect x="174.5" y="80.95" width="39.7" height="3" opacity="0.184"/><rect x="174.7" y="83.95" width="37.8" height="3" opacity="0.121"/><rect x="175.9" y="86.95" width="35.5" height="3" opacity="0.016"/><rect x="194.7" y="20.95" width="39.0" height="3" opacity="0.044"/><rect x="194.6" y="23.95" width="39.2" height="3" opacity="0.122"/><rect x="194.2" y="26.95" width="40.8" height="3" opacity="0.127"/><rect x="193.8" y="29.95" width="42.3" height="3" opacity="0.132"/><rect x="193.7" y="32.95" width="43.7" height="3" opacity="0.137"/><rect x="193.7" y="35.95" width="45.0" height="3" opacity="0.142"/><rect x="194.0" y="38.95" width="46.1" height="3" opacity="0.147"/><rect x="194.3" y="41.95" width="47.1" height="3" opacity="0.152"/><rect x="194.9" y="44.95" width="47.8" height="3" opacity="0.157"/><rect x="195.6" y="47.95" width="48.3" height="3" opacity="0.162"/><rect x="196.5" y="50.95" width="48.6" height="3" opacity="0.167"/><rect x="197.5" y="53.95" width="48.7" height="3" opacity="0.172"/><rect x="198.8" y="56.95" width="48.4" height="3" opacity="0.177"/><rect x="200.2" y="59.95" width="48.0" height="3" opacity="0.182"/><rect x="201.9" y="62.95" width="47.3" height="3" opacity="0.187"/><rect x="203.6" y="65.95" width="46.4" height="3" opacity="0.192"/><rect x="205.5" y="68.95" width="45.3" height="3" opacity="0.197"/><rect x="207.5" y="71.95" width="44.1" height="3" opacity="0.202"/><rect x="209.7" y="74.95" width="42.7" height="3" opacity="0.207"/><rect x="211.9" y="77.95" width="41.3" height="3" opacity="0.202"/><rect x="214.2" y="80.95" width="39.7" height="3" opacity="0.184"/><rect x="215.9" y="83.95" width="37.8" height="3" opacity="0.121"/><rect x="217.1" y="86.95" width="35.5" height="3" opacity="0.016"/><rect x="234.7" y="26.95" width="39.0" height="3" opacity="0.044"/><rect x="234.5" y="29.95" width="39.3" height="3" opacity="0.122"/><rect x="233.3" y="32.95" width="41.0" height="3" opacity="0.127"/><rect x="232.0" y="35.95" width="42.6" height="3" opacity="0.133"/><rect x="230.6" y="38.95" width="44.2" height="3" opacity="0.139"/><rect x="229.2" y="41.95" width="45.5" height="3" opacity="0.144"/><rect x="227.8" y="44.95" width="46.7" height="3" opacity="0.150"/><rect x="226.4" y="47.95" width="47.6" height="3" opacity="0.156"/><rect x="225.0" y="50.95" width="48.3" height="3" opacity="0.161"/><rect x="223.8" y="53.95" width="48.6" height="3" opacity="0.167"/><rect x="222.6" y="56.95" width="48.7" height="3" opacity="0.172"/><rect x="221.5" y="59.95" width="48.4" height="3" opacity="0.178"/><rect x="220.5" y="62.95" width="47.8" height="3" opacity="0.184"/><rect x="219.6" y="65.95" width="47.0" height="3" opacity="0.189"/><rect x="218.7" y="68.95" width="45.9" height="3" opacity="0.195"/><rect x="217.9" y="71.95" width="44.7" height="3" opacity="0.200"/><rect x="217.2" y="74.95" width="43.1" height="3" opacity="0.206"/><rect x="216.4" y="77.95" width="41.5" height="3" opacity="0.205"/><rect x="215.7" y="80.95" width="39.8" height="3" opacity="0.185"/><rect x="215.9" y="83.95" width="37.8" height="3" opacity="0.121"/><rect x="217.1" y="86.95" width="35.5" height="3" opacity="0.016"/><rect x="234.7" y="26.95" width="39.0" height="3" opacity="0.044"/><rect x="234.6" y="29.95" width="39.3" height="3" opacity="0.122"/><rect x="234.2" y="32.95" width="41.0" height="3" opacity="0.127"/><rect x="234.0" y="35.95" width="42.6" height="3" opacity="0.133"/><rect x="234.0" y="38.95" width="44.2" height="3" opacity="0.139"/><rect x="234.3" y="41.95" width="45.5" height="3" opacity="0.144"/><rect x="234.8" y="44.95" width="46.7" height="3" opacity="0.150"/><rect x="235.5" y="47.95" width="47.6" height="3" opacity="0.156"/><rect x="236.4" y="50.95" width="48.3" height="3" opacity="0.161"/><rect x="237.7" y="53.95" width="48.6" height="3" opacity="0.167"/><rect x="239.1" y="56.95" width="48.7" height="3" opacity="0.172"/><rect x="240.8" y="59.95" width="48.4" height="3" opacity="0.178"/><rect x="242.7" y="62.95" width="47.8" height="3" opacity="0.184"/><rect x="244.8" y="65.95" width="47.0" height="3" opacity="0.189"/><rect x="247.2" y="68.95" width="45.9" height="3" opacity="0.195"/><rect x="249.6" y="71.95" width="44.7" height="3" opacity="0.200"/><rect x="252.3" y="74.95" width="43.1" height="3" opacity="0.206"/><rect x="255.1" y="77.95" width="41.5" height="3" opacity="0.205"/><rect x="258.0" y="80.95" width="39.8" height="3" opacity="0.185"/><rect x="260.0" y="83.95" width="37.8" height="3" opacity="0.121"/><rect x="261.2" y="86.95" width="35.5" height="3" opacity="0.016"/><rect x="286.7" y="-12.05" width="39.0" height="3" opacity="0.215"/><rect x="286.7" y="-9.05" width="39.0" height="3" opacity="0.204"/><rect x="286.2" y="-6.05" width="39.5" height="3" opacity="0.198"/><rect x="285.2" y="-3.05" width="40.5" height="3" opacity="0.199"/><rect x="284.2" y="-0.05" width="41.5" height="3" opacity="0.200"/><rect x="283.1" y="2.95" width="42.5" height="3" opacity="0.201"/><rect x="281.9" y="5.95" width="43.4" height="3" opacity="0.201"/><rect x="280.8" y="8.95" width="44.3" height="3" opacity="0.202"/><rect x="279.6" y="11.95" width="45.1" height="3" opacity="0.203"/><rect x="278.4" y="14.95" width="45.8" height="3" opacity="0.203"/><rect x="277.3" y="17.95" width="46.5" height="3" opacity="0.204"/><rect x="276.1" y="20.95" width="47.1" height="3" opacity="0.205"/><rect x="275.0" y="23.95" width="47.6" height="3" opacity="0.206"/><rect x="273.9" y="26.95" width="48.0" height="3" opacity="0.206"/><rect x="272.9" y="29.95" width="48.4" height="3" opacity="0.207"/><rect x="271.9" y="32.95" width="48.5" height="3" opacity="0.208"/><rect x="270.9" y="35.95" width="48.7" height="3" opacity="0.209"/><rect x="269.9" y="38.95" width="48.7" height="3" opacity="0.209"/><rect x="269.0" y="41.95" width="48.5" height="3" opacity="0.210"/><rect x="268.1" y="44.95" width="48.4" height="3" opacity="0.211"/><rect x="267.2" y="47.95" width="48.0" height="3" opacity="0.212"/><rect x="266.5" y="50.95" width="47.6" height="3" opacity="0.212"/><rect x="265.7" y="53.95" width="47.1" height="3" opacity="0.213"/><rect x="264.9" y="56.95" width="46.5" height="3" opacity="0.214"/><rect x="264.2" y="59.95" width="45.8" height="3" opacity="0.215"/><rect x="263.5" y="62.95" width="45.1" height="3" opacity="0.215"/><rect x="262.9" y="65.95" width="44.3" height="3" opacity="0.216"/><rect x="262.2" y="68.95" width="43.4" height="3" opacity="0.217"/><rect x="261.6" y="71.95" width="42.5" height="3" opacity="0.217"/><rect x="260.9" y="74.95" width="41.5" height="3" opacity="0.211"/><rect x="260.3" y="77.95" width="40.5" height="3" opacity="0.197"/><rect x="259.7" y="80.95" width="39.5" height="3" opacity="0.183"/><rect x="260.0" y="83.95" width="37.8" height="3" opacity="0.121"/><rect x="261.2" y="86.95" width="35.5" height="3" opacity="0.016"/><rect x="154.7" y="-12.05" width="39.0" height="4" opacity="0.279"/><rect x="154.7" y="-8.05" width="39.0" height="4" opacity="0.277"/><rect x="154.7" y="-4.05" width="39.0" height="4" opacity="0.276"/><rect x="154.7" y="-0.05" width="39.0" height="4" opacity="0.274"/><rect x="154.7" y="3.95" width="39.0" height="4" opacity="0.273"/><rect x="154.7" y="7.95" width="39.0" height="4" opacity="0.271"/><rect x="154.7" y="11.95" width="39.0" height="4" opacity="0.270"/><rect x="154.7" y="15.95" width="39.0" height="4" opacity="0.269"/><rect x="154.7" y="19.95" width="39.0" height="4" opacity="0.267"/><rect x="154.7" y="23.95" width="39.0" height="4" opacity="0.248"/><rect x="154.7" y="27.95" width="39.0" height="4" opacity="0.172"/><rect x="154.7" y="31.95" width="39.0" height="4" opacity="0.096"/><rect x="154.7" y="35.95" width="39.0" height="4" opacity="0.020"/><rect x="234.7" y="-12.05" width="39.0" height="4" opacity="0.279"/><rect x="234.7" y="-8.05" width="39.0" height="4" opacity="0.277"/><rect x="234.7" y="-4.05" width="39.0" height="4" opacity="0.276"/><rect x="234.7" y="-0.05" width="39.0" height="4" opacity="0.274"/><rect x="234.7" y="3.95" width="39.0" height="4" opacity="0.273"/><rect x="234.7" y="7.95" width="39.0" height="4" opacity="0.271"/><rect x="234.7" y="11.95" width="39.0" height="4" opacity="0.270"/><rect x="234.7" y="15.95" width="39.0" height="4" opacity="0.269"/><rect x="234.7" y="19.95" width="39.0" height="4" opacity="0.267"/><rect x="234.7" y="23.95" width="39.0" height="4" opacity="0.248"/><rect x="234.7" y="27.95" width="39.0" height="4" opacity="0.172"/><rect x="234.7" y="31.95" width="39.0" height="4" opacity="0.096"/><rect x="234.7" y="35.95" width="39.0" height="4" opacity="0.020"/></g><ellipse cx="214.2" cy="215.5" rx="11.7" ry="26.1" fill="url(#gw)" opacity="0.500"/><ellipse cx="195.2" cy="185.8" rx="11.7" ry="29.6" fill="url(#gw)" opacity="0.500" transform="rotate(-12 195.2 185.8)"/><ellipse cx="233.2" cy="185.8" rx="11.7" ry="29.6" fill="url(#gw)" opacity="0.500" transform="rotate(12 233.2 185.8)"/><ellipse cx="174.2" cy="147.0" rx="11.7" ry="31.8" fill="url(#gw)" opacity="0.500" transform="rotate(-14 174.2 147.0)"/><ellipse cx="214.2" cy="147.0" rx="11.7" ry="31.8" fill="url(#gw)" opacity="0.500"/><ellipse cx="254.2" cy="147.0" rx="11.7" ry="31.8" fill="url(#gw)" opacity="0.500" transform="rotate(14 254.2 147.0)"/><ellipse cx="149.5" cy="92.0" rx="11.7" ry="39.1" fill="url(#gw)" opacity="0.450" transform="rotate(-9 149.5 92.0)"/><ellipse cx="149.5" cy="92.0" rx="8.1" ry="26.4" fill="url(#gw)" opacity="0.550" transform="rotate(-9 149.5 92.0)"/><ellipse cx="193.6" cy="92.0" rx="11.7" ry="39.1" fill="url(#gw)" opacity="0.450" transform="rotate(-1 193.6 92.0)"/><ellipse cx="193.6" cy="92.0" rx="8.1" ry="26.4" fill="url(#gw)" opacity="0.550" transform="rotate(-1 193.6 92.0)"/><ellipse cx="234.8" cy="92.0" rx="11.7" ry="39.1" fill="url(#gw)" opacity="0.450" transform="rotate(1 234.8 92.0)"/><ellipse cx="234.8" cy="92.0" rx="8.1" ry="26.4" fill="url(#gw)" opacity="0.550" transform="rotate(1 234.8 92.0)"/><ellipse cx="278.9" cy="92.0" rx="11.7" ry="39.1" fill="url(#gw)" opacity="0.450" transform="rotate(9 278.9 92.0)"/><ellipse cx="278.9" cy="92.0" rx="8.1" ry="26.4" fill="url(#gw)" opacity="0.550" transform="rotate(9 278.9 92.0)"/><ellipse cx="214.2" cy="15.0" rx="13.5" ry="48.0" fill="url(#gw)" opacity="0.500"/></g><g fill="#fff" filter="url(#pb)" opacity="0.97"><rect x="210.9" y="204.0" width="6.6" height="23" rx="3.3"/><rect x="191.9" y="173.3" width="6.6" height="25" rx="3.3" transform="rotate(-12 195.2 185.8)"/><rect x="229.9" y="173.3" width="6.6" height="25" rx="3.3" transform="rotate(12 233.2 185.8)"/><rect x="170.9" y="133.5" width="6.6" height="27" rx="3.3" transform="rotate(-14 174.2 147.0)"/><rect x="210.9" y="133.5" width="6.6" height="27" rx="3.3"/><rect x="250.9" y="133.5" width="6.6" height="27" rx="3.3" transform="rotate(14 254.2 147.0)"/><path d="M210.6 -13.0h7.2v36l-3.6 12l-3.6 -12z"/></g></g></g>
<rect x="2.3" y="2.3" width="422.3" height="287.6" fill="none" stroke="#000" stroke-width="4.6"/>
<path d="M14.5 0V10.6M14.5 292.2V281.6M114.2 0V10.6M114.2 292.2V281.6M213.9 0V10.6M213.9 292.2V281.6M313.6 0V10.6M313.6 292.2V281.6M413.3 0V10.6M413.3 292.2V281.6M0 22.9H10.9M426.9 22.9H416.0M0 90.1H10.9M426.9 90.1H416.0M0 157.6H10.9M426.9 157.6H416.0M0 224.7H10.9M426.9 224.7H416.0" stroke="#000" stroke-width="4.7" fill="none"/>
</g>
<rect x="340.7" y="763.8" width="189.0" height="20.1" fill="url(#cb)" stroke="#000" stroke-width="3.4"/>
<path d="M434.8 764.9v4" stroke="#000" stroke-width="3.4"/>
<text x="331.72" y="739.50" textLength="16.42" lengthAdjust="spacingAndGlyphs">0</text>
<text x="419.58" y="739.50" textLength="30.00" lengthAdjust="spacingAndGlyphs">10</text>
<text x="513.62" y="739.50" textLength="30.68" lengthAdjust="spacingAndGlyphs">20</text>
<text x="374.53" y="664.70" textLength="122.08" lengthAdjust="spacingAndGlyphs">Temporal</text>
<text x="355.55" y="701.20" textLength="160.19" lengthAdjust="spacingAndGlyphs">intensity (W)</text>
<text x="176.28" y="764.90" textLength="73.41" lengthAdjust="spacingAndGlyphs">NLSE</text>
<text x="105.70" y="1129.20" textLength="25.64" lengthAdjust="spacingAndGlyphs">-4</text>
<text x="204.94" y="1129.20" textLength="26.82" lengthAdjust="spacingAndGlyphs">-2</text>
<text x="309.58" y="1129.20" textLength="17.01" lengthAdjust="spacingAndGlyphs">0</text>
<text x="408.85" y="1129.20" textLength="17.24" lengthAdjust="spacingAndGlyphs">2</text>
<text x="509.35" y="1129.20" textLength="16.19" lengthAdjust="spacingAndGlyphs">4</text>
<text x="258.46" y="1167.80" textLength="118.72" lengthAdjust="spacingAndGlyphs">Time (ps)</text>
<text x="44.94" y="828.35" textLength="48.79" lengthAdjust="spacingAndGlyphs">200</text>
<text x="45.85" y="895.55" textLength="47.86" lengthAdjust="spacingAndGlyphs">150</text>
<text x="45.85" y="963.05" textLength="47.86" lengthAdjust="spacingAndGlyphs">100</text>
<text x="61.14" y="1030.15" textLength="32.32" lengthAdjust="spacingAndGlyphs">50</text>
<text transform="translate(36.80 1010.60) rotate(-90)" x="-2.34" y="0" textLength="160.51" lengthAdjust="spacingAndGlyphs">Distance (m)</text>
<text x="58.96" y="698.80" font-size="31" font-weight="bold" textLength="20.08" lengthAdjust="spacingAndGlyphs">b</text>
<g transform="translate(590.20 796.05)">
<g clip-path="url(#cf)"><g filter="url(#pm)"><rect x="-5" y="-5" width="436.9" height="302.2" fill="#050505"/><g fill="url(#gh)" filter="url(#v4)"><rect x="-85.8" y="-10.05" width="600.0" height="8" opacity="0.056"/><rect x="-85.8" y="-2.05" width="600.0" height="8" opacity="0.057"/><rect x="-85.8" y="5.95" width="600.0" height="8" opacity="0.059"/><rect x="-85.8" y="13.95" width="600.0" height="8" opacity="0.060"/><rect x="-85.8" y="21.95" width="600.0" height="8" opacity="0.062"/><rect x="-85.8" y="29.95" width="600.0" height="8" opacity="0.063"/><rect x="-85.8" y="37.95" width="600.0" height="8" opacity="0.065"/><rect x="-85.8" y="45.95" width="600.0" height="8" opacity="0.066"/><rect x="-85.8" y="53.95" width="600.0" height="8" opacity="0.068"/><rect x="-85.8" y="61.95" width="600.0" height="8" opacity="0.069"/><rect x="-85.8" y="69.95" width="600.0" height="8" opacity="0.071"/><rect x="-85.8" y="77.95" width="600.0" height="8" opacity="0.072"/><rect x="-85.8" y="85.95" width="600.0" height="8" opacity="0.074"/><rect x="-85.8" y="93.95" width="600.0" height="8" opacity="0.076"/><rect x="-85.8" y="101.95" width="600.0" height="8" opacity="0.077"/><rect x="-85.8" y="109.95" width="600.0" height="8" opacity="0.079"/><rect x="-85.8" y="117.95" width="600.0" height="8" opacity="0.080"/><rect x="-85.8" y="125.95" width="600.0" height="8" opacity="0.082"/><rect x="-85.8" y="133.95" width="600.0" height="8" opacity="0.084"/><rect x="-85.8" y="141.95" width="600.0" height="8" opacity="0.085"/><rect x="-85.8" y="149.95" width="600.0" height="8" opacity="0.087"/><rect x="-85.8" y="157.95" width="600.0" height="8" opacity="0.089"/><rect x="-85.8" y="165.95" width="600.0" height="8" opacity="0.090"/><rect x="-85.8" y="173.95" width="600.0" height="8" opacity="0.092"/><rect x="-85.8" y="181.95" width="600.0" height="8" opacity="0.093"/><rect x="-85.8" y="189.95" width="600.0" height="8" opacity="0.095"/><rect x="-91.3" y="197.95" width="611.0" height="8" opacity="0.096"/><rect x="-96.9" y="205.95" width="622.1" height="8" opacity="0.098"/><rect x="-102.4" y="213.95" width="633.2" height="8" opacity="0.099"/><rect x="-107.9" y="221.95" width="644.3" height="8" opacity="0.101"/><rect x="-113.5" y="229.95" width="655.4" height="8" opacity="0.102"/><rect x="-119.0" y="237.95" width="666.5" height="8" opacity="0.104"/><rect x="-124.6" y="245.95" width="677.6" height="8" opacity="0.105"/><rect x="-130.1" y="253.95" width="688.7" height="8" opacity="0.107"/><rect x="-135.7" y="261.95" width="699.7" height="8" opacity="0.108"/><rect x="-141.2" y="269.95" width="710.8" height="8" opacity="0.110"/><rect x="-146.8" y="277.95" width="721.9" height="8" opacity="0.111"/><rect x="-152.3" y="285.95" width="733.0" height="8" opacity="0.113"/><rect x="-157.9" y="293.95" width="744.1" height="8" opacity="0.114"/><rect x="-160.8" y="301.95" width="750.0" height="8" opacity="0.115"/></g><g fill="url(#gh)" filter="url(#v2)"><rect x="201.7" y="187.95" width="25.0" height="4" opacity="0.130"/><rect x="200.7" y="191.95" width="27.0" height="4" opacity="0.397"/><rect x="197.0" y="195.95" width="34.4" height="4" opacity="0.410"/><rect x="193.2" y="199.95" width="41.9" height="4" opacity="0.420"/><rect x="186.4" y="203.95" width="55.5" height="4" opacity="0.369"/><rect x="179.3" y="207.95" width="69.8" height="4" opacity="0.322"/><rect x="171.3" y="211.95" width="85.8" height="4" opacity="0.286"/><rect x="163.3" y="215.95" width="101.8" height="4" opacity="0.250"/><rect x="156.3" y="219.95" width="115.8" height="4" opacity="0.235"/><rect x="149.3" y="223.95" width="129.8" height="4" opacity="0.220"/><rect x="142.3" y="227.95" width="143.8" height="4" opacity="0.205"/><rect x="137.2" y="231.95" width="154.0" height="4" opacity="0.199"/><rect x="132.2" y="235.95" width="164.1" height="4" opacity="0.192"/><rect x="127.1" y="239.95" width="174.2" height="4" opacity="0.186"/><rect x="122.1" y="243.95" width="184.3" height="4" opacity="0.180"/><rect x="117.2" y="247.95" width="193.9" height="4" opacity="0.174"/><rect x="113.2" y="251.95" width="201.9" height="4" opacity="0.171"/><rect x="109.2" y="255.95" width="209.9" height="4" opacity="0.169"/><rect x="105.2" y="259.95" width="217.9" height="4" opacity="0.166"/><rect x="101.2" y="263.95" width="225.9" height="4" opacity="0.163"/><rect x="97.2" y="267.95" width="233.9" height="4" opacity="0.160"/><rect x="94.1" y="271.95" width="240.3" height="4" opacity="0.159"/><rect x="90.9" y="275.95" width="246.6" height="4" opacity="0.158"/><rect x="87.7" y="279.95" width="253.0" height="4" opacity="0.156"/><rect x="84.5" y="283.95" width="259.3" height="4" opacity="0.155"/><rect x="81.4" y="287.95" width="265.7" height="4" opacity="0.154"/><rect x="78.2" y="291.95" width="272.0" height="4" opacity="0.153"/><rect x="75.0" y="295.95" width="278.4" height="4" opacity="0.152"/><rect x="71.8" y="299.95" width="284.7" height="4" opacity="0.151"/><rect x="70.2" y="303.95" width="288.0" height="4" opacity="0.150"/></g><ellipse cx="203.2" cy="192.0" rx="13.8" ry="13.2" fill="url(#gk)" opacity="0.950"/><ellipse cx="225.2" cy="192.0" rx="13.8" ry="13.2" fill="url(#gk)" opacity="0.950"/><ellipse cx="214.2" cy="164.3" rx="24.0" ry="15.0" fill="url(#gk)" opacity="0.880"/><ellipse cx="183.2" cy="165.3" rx="15.0" ry="16.5" fill="url(#gk)" opacity="0.880"/><ellipse cx="245.2" cy="165.3" rx="15.0" ry="16.5" fill="url(#gk)" opacity="0.880"/><ellipse cx="194.2" cy="124.5" rx="19.5" ry="25.5" fill="url(#gk)" opacity="0.880"/><ellipse cx="157.7" cy="127.5" rx="18.0" ry="24.0" fill="url(#gk)" opacity="0.880"/><ellipse cx="234.2" cy="124.5" rx="19.5" ry="25.5" fill="url(#gk)" opacity="0.880"/><ellipse cx="270.7" cy="127.5" rx="18.0" ry="24.0" fill="url(#gk)" opacity="0.880"/><ellipse cx="171.7" cy="71.5" rx="25.5" ry="45.0" fill="url(#gk)" opacity="0.880"/><ellipse cx="214.2" cy="71.5" rx="25.5" ry="45.0" fill="url(#gk)" opacity="0.880"/><ellipse cx="256.7" cy="71.5" rx="25.5" ry="45.0" fill="url(#gk)" opacity="0.880"/><ellipse cx="127.2" cy="73.5" rx="30.0" ry="48.0" fill="url(#gk)" opacity="0.748"/><ellipse cx="301.2" cy="73.5" rx="30.0" ry="48.0" fill="url(#gk)" opacity="0.748"/><ellipse cx="148.2" cy="-8.5" rx="25.5" ry="54.0" fill="url(#gk)" opacity="0.660"/><ellipse cx="194.2" cy="-8.5" rx="25.5" ry="54.0" fill="url(#gk)" opacity="0.660"/><ellipse cx="234.2" cy="-8.5" rx="25.5" ry="54.0" fill="url(#gk)" opacity="0.660"/><ellipse cx="280.2" cy="-8.5" rx="25.5" ry="54.0" fill="url(#gk)" opacity="0.660"/><g fill="url(#gh)" filter="url(#v2)"><rect x="181.4" y="159.95" width="27.6" height="3" opacity="0.054"/><rect x="181.4" y="162.95" width="27.6" height="3" opacity="0.204"/><rect x="181.4" y="165.95" width="27.6" height="3" opacity="0.354"/><rect x="180.4" y="168.95" width="29.8" height="3" opacity="0.380"/><rect x="179.8" y="171.95" width="32.4" height="3" opacity="0.350"/><rect x="180.4" y="174.95" width="34.2" height="3" opacity="0.320"/><rect x="182.8" y="177.95" width="34.3" height="3" opacity="0.309"/><rect x="186.9" y="180.95" width="33.2" height="3" opacity="0.339"/><rect x="192.7" y="183.95" width="30.8" height="3" opacity="0.369"/><rect x="200.0" y="186.95" width="27.8" height="3" opacity="0.324"/><rect x="201.2" y="189.95" width="26.0" height="3" opacity="0.138"/><rect x="219.4" y="159.95" width="27.6" height="3" opacity="0.054"/><rect x="219.4" y="162.95" width="27.6" height="3" opacity="0.204"/><rect x="219.4" y="165.95" width="27.6" height="3" opacity="0.354"/><rect x="218.2" y="168.95" width="29.8" height="3" opacity="0.380"/><rect x="216.1" y="171.95" width="32.4" height="3" opacity="0.350"/><rect x="213.8" y="174.95" width="34.2" height="3" opacity="0.320"/><rect x="211.2" y="177.95" width="34.3" height="3" opacity="0.309"/><rect x="208.3" y="180.95" width="33.2" height="3" opacity="0.339"/><rect x="204.9" y="183.95" width="30.8" height="3" opacity="0.369"/><rect x="200.6" y="186.95" width="27.8" height="3" opacity="0.324"/><rect x="201.2" y="189.95" width="26.0" height="3" opacity="0.138"/><rect x="157.7" y="120.95" width="33.0" height="3" opacity="0.026"/><rect x="157.7" y="123.95" width="33.0" height="3" opacity="0.161"/><rect x="157.7" y="126.95" width="33.0" height="3" opacity="0.296"/><rect x="157.1" y="129.95" width="34.4" height="3" opacity="0.350"/><rect x="156.1" y="132.95" width="37.0" height="3" opacity="0.331"/><rect x="155.7" y="135.95" width="39.1" height="3" opacity="0.312"/><rect x="156.2" y="138.95" width="40.5" height="3" opacity="0.293"/><rect x="157.5" y="141.95" width="41.2" height="3" opacity="0.274"/><rect x="159.9" y="144.95" width="40.9" height="3" opacity="0.285"/><rect x="163.3" y="147.95" width="39.8" height="3" opacity="0.304"/><rect x="167.7" y="150.95" width="37.9" height="3" opacity="0.324"/><rect x="173.1" y="153.95" width="35.5" height="3" opacity="0.340"/><rect x="178.8" y="156.95" width="32.8" height="3" opacity="0.272"/><rect x="179.8" y="159.95" width="30.8" height="3" opacity="0.100"/><rect x="197.7" y="120.95" width="33.0" height="3" opacity="0.016"/><rect x="197.7" y="123.95" width="33.0" height="3" opacity="0.100"/><rect x="197.7" y="126.95" width="33.0" height="3" opacity="0.183"/><rect x="196.9" y="129.95" width="34.4" height="3" opacity="0.235"/><rect x="195.4" y="132.95" width="37.0" height="3" opacity="0.256"/><rect x="193.7" y="135.95" width="39.1" height="3" opacity="0.272"/><rect x="191.9" y="138.95" width="40.5" height="3" opacity="0.285"/><rect x="190.1" y="141.95" width="41.2" height="3" opacity="0.274"/><rect x="188.2" y="144.95" width="40.9" height="3" opacity="0.285"/><rect x="186.2" y="147.95" width="39.8" height="3" opacity="0.304"/><rect x="184.0" y="150.95" width="37.9" height="3" opacity="0.324"/><rect x="181.4" y="153.95" width="35.5" height="3" opacity="0.340"/><rect x="178.8" y="156.95" width="32.8" height="3" opacity="0.272"/><rect x="179.8" y="159.95" width="30.8" height="3" opacity="0.100"/><rect x="197.7" y="120.95" width="33.0" height="3" opacity="0.016"/><rect x="197.7" y="123.95" width="33.0" height="3" opacity="0.100"/><rect x="197.7" y="126.95" width="33.0" height="3" opacity="0.183"/><rect x="197.0" y="129.95" width="34.4" height="3" opacity="0.235"/><rect x="196.0" y="132.95" width="37.0" height="3" opacity="0.256"/><rect x="195.6" y="135.95" width="39.1" height="3" opacity="0.272"/><rect x="195.9" y="138.95" width="40.5" height="3" opacity="0.285"/><rect x="197.2" y="141.95" width="41.2" height="3" opacity="0.274"/><rect x="199.3" y="144.95" width="40.9" height="3" opacity="0.285"/><rect x="202.5" y="147.95" width="39.8" height="3" opacity="0.304"/><rect x="206.6" y="150.95" width="37.9" height="3" opacity="0.324"/><rect x="211.5" y="153.95" width="35.5" height="3" opacity="0.340"/><rect x="216.8" y="156.95" width="32.8" height="3" opacity="0.272"/><rect x="217.8" y="159.95" width="30.8" height="3" opacity="0.100"/><rect x="237.7" y="120.95" width="33.0" height="3" opacity="0.026"/><rect x="237.7" y="123.95" width="33.0" height="3" opacity="0.161"/><rect x="237.7" y="126.95" width="33.0" height="3" opacity="0.296"/><rect x="236.9" y="129.95" width="34.4" height="3" opacity="0.350"/><rect x="235.4" y="132.95" width="37.0" height="3" opacity="0.331"/><rect x="233.6" y="135.95" width="39.1" height="3" opacity="0.312"/><rect x="231.7" y="138.95" width="40.5" height="3" opacity="0.293"/><rect x="229.7" y="141.95" width="41.2" height="3" opacity="0.274"/><rect x="227.6" y="144.95" width="40.9" height="3" opacity="0.285"/><rect x="225.3" y="147.95" width="39.8" height="3" opacity="0.304"/><rect x="222.8" y="150.95" width="37.9" height="3" opacity="0.324"/><rect x="219.8" y="153.95" width="35.5" height="3" opacity="0.340"/><rect x="216.8" y="156.95" width="32.8" height="3" opacity="0.272"/><rect x="217.8" y="159.95" width="30.8" height="3" opacity="0.100"/><rect x="130.0" y="66.95" width="39.0" height="3" opacity="0.020"/><rect x="130.0" y="69.95" width="39.0" height="3" opacity="0.129"/><rect x="130.0" y="72.95" width="39.0" height="3" opacity="0.237"/><rect x="129.5" y="75.95" width="40.1" height="3" opacity="0.285"/><rect x="128.6" y="78.95" width="42.2" height="3" opacity="0.275"/><rect x="128.0" y="81.95" width="44.1" height="3" opacity="0.265"/><rect x="127.7" y="84.95" width="45.7" height="3" opacity="0.254"/><rect x="127.7" y="87.95" width="47.1" height="3" opacity="0.244"/><rect x="128.2" y="90.95" width="48.1" height="3" opacity="0.234"/><rect x="129.3" y="93.95" width="48.5" height="3" opacity="0.224"/><rect x="130.8" y="96.95" width="48.6" height="3" opacity="0.221"/><rect x="132.8" y="99.95" width="48.3" height="3" opacity="0.231"/><rect x="135.5" y="102.95" width="47.4" height="3" opacity="0.241"/><rect x="138.6" y="105.95" width="46.2" height="3" opacity="0.251"/><rect x="142.1" y="108.95" width="44.7" height="3" opacity="0.261"/><rect x="146.2" y="111.95" width="42.8" height="3" opacity="0.272"/><rect x="150.8" y="114.95" width="40.7" height="3" opacity="0.257"/><rect x="154.9" y="117.95" width="38.6" height="3" opacity="0.208"/><rect x="156.1" y="120.95" width="36.3" height="3" opacity="0.069"/><rect x="174.1" y="66.95" width="39.0" height="3" opacity="0.012"/><rect x="174.1" y="69.95" width="39.0" height="3" opacity="0.080"/><rect x="174.1" y="72.95" width="39.0" height="3" opacity="0.147"/><rect x="173.5" y="75.95" width="40.1" height="3" opacity="0.186"/><rect x="172.4" y="78.95" width="42.2" height="3" opacity="0.198"/><rect x="171.2" y="81.95" width="44.1" height="3" opacity="0.208"/><rect x="169.9" y="84.95" width="45.7" height="3" opacity="0.217"/><rect x="168.7" y="87.95" width="47.1" height="3" opacity="0.224"/><rect x="167.4" y="90.95" width="48.1" height="3" opacity="0.231"/><rect x="166.1" y="93.95" width="48.5" height="3" opacity="0.224"/><rect x="164.8" y="96.95" width="48.6" height="3" opacity="0.221"/><rect x="163.6" y="99.95" width="48.3" height="3" opacity="0.231"/><rect x="162.3" y="102.95" width="47.4" height="3" opacity="0.241"/><rect x="161.0" y="105.95" width="46.2" height="3" opacity="0.251"/><rect x="159.6" y="108.95" width="44.7" height="3" opacity="0.261"/><rect x="158.0" y="111.95" width="42.8" height="3" opacity="0.272"/><rect x="156.2" y="114.95" width="40.7" height="3" opacity="0.257"/><rect x="154.9" y="117.95" width="38.6" height="3" opacity="0.208"/><rect x="156.1" y="120.95" width="36.3" height="3" opacity="0.069"/><rect x="174.1" y="66.95" width="39.0" height="3" opacity="0.012"/><rect x="174.1" y="69.95" width="39.0" height="3" opacity="0.080"/><rect x="174.1" y="72.95" width="39.0" height="3" opacity="0.147"/><rect x="173.6" y="75.95" width="40.1" height="3" opacity="0.186"/><rect x="172.6" y="78.95" width="42.2" height="3" opacity="0.198"/><rect x="172.0" y="81.95" width="44.1" height="3" opacity="0.208"/><rect x="171.6" y="84.95" width="45.7" height="3" opacity="0.217"/><rect x="171.5" y="87.95" width="47.1" height="3" opacity="0.224"/><rect x="171.9" y="90.95" width="48.1" height="3" opacity="0.231"/><rect x="172.8" y="93.95" width="48.5" height="3" opacity="0.224"/><rect x="174.0" y="96.95" width="48.6" height="3" opacity="0.221"/><rect x="175.7" y="99.95" width="48.3" height="3" opacity="0.231"/><rect x="178.0" y="102.95" width="47.4" height="3" opacity="0.241"/><rect x="180.7" y="105.95" width="46.2" height="3" opacity="0.251"/><rect x="183.7" y="108.95" width="44.7" height="3" opacity="0.261"/><rect x="187.3" y="111.95" width="42.8" height="3" opacity="0.272"/><rect x="191.3" y="114.95" width="40.7" height="3" opacity="0.257"/><rect x="194.9" y="117.95" width="38.6" height="3" opacity="0.208"/><rect x="196.1" y="120.95" width="36.3" height="3" opacity="0.069"/><rect x="215.3" y="66.95" width="39.0" height="3" opacity="0.012"/><rect x="215.3" y="69.95" width="39.0" height="3" opacity="0.080"/><rect x="215.3" y="72.95" width="39.0" height="3" opacity="0.147"/><rect x="214.7" y="75.95" width="40.1" height="3" opacity="0.186"/><rect x="213.6" y="78.95" width="42.2" height="3" opacity="0.198"/><rect x="212.4" y="81.95" width="44.1" height="3" opacity="0.208"/><rect x="211.1" y="84.95" width="45.7" height="3" opacity="0.217"/><rect x="209.8" y="87.95" width="47.1" height="3" opacity="0.224"/><rect x="208.5" y="90.95" width="48.1" height="3" opacity="0.231"/><rect x="207.1" y="93.95" width="48.5" height="3" opacity="0.224"/><rect x="205.8" y="96.95" width="48.6" height="3" opacity="0.221"/><rect x="204.4" y="99.95" width="48.3" height="3" opacity="0.231"/><rect x="203.0" y="102.95" width="47.4" height="3" opacity="0.241"/><rect x="201.6" y="105.95" width="46.2" height="3" opacity="0.251"/><rect x="200.0" y="108.95" width="44.7" height="3" opacity="0.261"/><rect x="198.3" y="111.95" width="42.8" height="3" opacity="0.272"/><rect x="196.4" y="114.95" width="40.7" height="3" opacity="0.257"/><rect x="194.9" y="117.95" width="38.6" height="3" opacity="0.208"/><rect x="196.1" y="120.95" width="36.3" height="3" opacity="0.069"/><rect x="215.3" y="66.95" width="39.0" height="3" opacity="0.012"/><rect x="215.3" y="69.95" width="39.0" height="3" opacity="0.080"/><rect x="215.3" y="72.95" width="39.0" height="3" opacity="0.147"/><rect x="214.8" y="75.95" width="40.1" height="3" opacity="0.186"/><rect x="213.8" y="78.95" width="42.2" height="3" opacity="0.198"/><rect x="213.2" y="81.95" width="44.1" height="3" opacity="0.208"/><rect x="212.8" y="84.95" width="45.7" height="3" opacity="0.217"/><rect x="212.6" y="87.95" width="47.1" height="3" opacity="0.224"/><rect x="213.0" y="90.95" width="48.1" height="3" opacity="0.231"/><rect x="213.8" y="93.95" width="48.5" height="3" opacity="0.224"/><rect x="214.9" y="96.95" width="48.6" height="3" opacity="0.221"/><rect x="216.5" y="99.95" width="48.3" height="3" opacity="0.231"/><rect x="218.7" y="102.95" width="47.4" height="3" opacity="0.241"/><rect x="221.3" y="105.95" width="46.2" height="3" opacity="0.251"/><rect x="224.2" y="108.95" width="44.7" height="3" opacity="0.261"/><rect x="227.7" y="111.95" width="42.8" height="3" opacity="0.272"/><rect x="231.4" y="114.95" width="40.7" height="3" opacity="0.257"/><rect x="234.9" y="117.95" width="38.6" height="3" opacity="0.208"/><rect x="236.1" y="120.95" width="36.3" height="3" opacity="0.069"/><rect x="259.4" y="66.95" width="39.0" height="3" opacity="0.020"/><rect x="259.4" y="69.95" width="39.0" height="3" opacity="0.129"/><rect x="259.4" y="72.95" width="39.0" height="3" opacity="0.237"/><rect x="258.8" y="75.95" width="40.1" height="3" opacity="0.285"/><rect x="257.7" y="78.95" width="42.2" height="3" opacity="0.275"/><rect x="256.4" y="81.95" width="44.1" height="3" opacity="0.265"/><rect x="255.0" y="84.95" width="45.7" height="3" opacity="0.254"/><rect x="253.6" y="87.95" width="47.1" height="3" opacity="0.244"/><rect x="252.1" y="90.95" width="48.1" height="3" opacity="0.234"/><rect x="250.5" y="93.95" width="48.5" height="3" opacity="0.224"/><rect x="248.9" y="96.95" width="48.6" height="3" opacity="0.221"/><rect x="247.3" y="99.95" width="48.3" height="3" opacity="0.231"/><rect x="245.5" y="102.95" width="47.4" height="3" opacity="0.241"/><rect x="243.6" y="105.95" width="46.2" height="3" opacity="0.251"/><rect x="241.7" y="108.95" width="44.7" height="3" opacity="0.261"/><rect x="239.4" y="111.95" width="42.8" height="3" opacity="0.272"/><rect x="236.9" y="114.95" width="40.7" height="3" opacity="0.257"/><rect x="234.9" y="117.95" width="38.6" height="3" opacity="0.208"/><rect x="236.1" y="120.95" width="36.3" height="3" opacity="0.069"/><rect x="99.5" y="-12.05" width="48.4" height="3" opacity="0.209"/><rect x="99.7" y="-9.05" width="49.6" height="3" opacity="0.210"/><rect x="99.9" y="-6.05" width="50.7" height="3" opacity="0.211"/><rect x="100.2" y="-3.05" width="51.8" height="3" opacity="0.212"/><rect x="100.6" y="-0.05" width="52.8" height="3" opacity="0.213"/><rect x="101.0" y="2.95" width="53.7" height="3" opacity="0.214"/><rect x="101.6" y="5.95" width="54.4" height="3" opacity="0.214"/><rect x="102.3" y="8.95" width="55.0" height="3" opacity="0.215"/><rect x="102.9" y="11.95" width="55.6" height="3" opacity="0.216"/><rect x="103.8" y="14.95" width="55.9" height="3" opacity="0.217"/><rect x="104.8" y="17.95" width="56.1" height="3" opacity="0.218"/><rect x="105.8" y="20.95" width="56.2" height="3" opacity="0.219"/><rect x="106.9" y="23.95" width="56.0" height="3" opacity="0.219"/><rect x="108.1" y="26.95" width="55.8" height="3" opacity="0.220"/><rect x="109.4" y="29.95" width="55.4" height="3" opacity="0.221"/><rect x="110.9" y="32.95" width="54.8" height="3" opacity="0.222"/><rect x="112.3" y="35.95" width="54.2" height="3" opacity="0.223"/><rect x="113.9" y="38.95" width="53.4" height="3" opacity="0.224"/><rect x="115.5" y="41.95" width="52.5" height="3" opacity="0.225"/><rect x="117.2" y="44.95" width="51.5" height="3" opacity="0.225"/><rect x="119.0" y="47.95" width="50.4" height="3" opacity="0.226"/><rect x="120.8" y="50.95" width="49.2" height="3" opacity="0.227"/><rect x="122.6" y="53.95" width="48.0" height="3" opacity="0.222"/><rect x="124.5" y="56.95" width="46.7" height="3" opacity="0.205"/><rect x="126.4" y="59.95" width="45.4" height="3" opacity="0.189"/><rect x="127.9" y="62.95" width="43.2" height="3" opacity="0.109"/><rect x="151.7" y="4.95" width="45.0" height="3" opacity="0.030"/><rect x="151.7" y="7.95" width="45.0" height="3" opacity="0.125"/><rect x="150.3" y="10.95" width="46.9" height="3" opacity="0.132"/><rect x="148.8" y="13.95" width="48.9" height="3" opacity="0.138"/><rect x="147.1" y="16.95" width="50.6" height="3" opacity="0.144"/><rect x="145.4" y="19.95" width="52.3" height="3" opacity="0.150"/><rect x="143.6" y="22.95" width="53.7" height="3" opacity="0.156"/><rect x="141.9" y="25.95" width="54.7" height="3" opacity="0.162"/><rect x="140.2" y="28.95" width="55.6" height="3" opacity="0.167"/><rect x="138.6" y="31.95" width="56.0" height="3" opacity="0.173"/><rect x="137.1" y="34.95" width="56.2" height="3" opacity="0.179"/><rect x="135.7" y="37.95" width="55.9" height="3" opacity="0.185"/><rect x="134.4" y="40.95" width="55.3" height="3" opacity="0.191"/><rect x="133.1" y="43.95" width="54.4" height="3" opacity="0.197"/><rect x="132.0" y="46.95" width="53.2" height="3" opacity="0.203"/><rect x="130.9" y="49.95" width="51.8" height="3" opacity="0.209"/><rect x="129.8" y="52.95" width="50.1" height="3" opacity="0.214"/><rect x="128.8" y="55.95" width="48.3" height="3" opacity="0.217"/><rect x="127.7" y="58.95" width="46.3" height="3" opacity="0.197"/><rect x="127.5" y="61.95" width="44.1" height="3" opacity="0.145"/><rect x="128.8" y="64.95" width="41.4" height="3" opacity="0.035"/><rect x="151.7" y="4.95" width="45.0" height="3" opacity="0.030"/><rect x="151.7" y="7.95" width="45.0" height="3" opacity="0.125"/><rect x="151.1" y="10.95" width="46.9" height="3" opacity="0.132"/><rect x="150.5" y="13.95" width="48.9" height="3" opacity="0.138"/><rect x="150.3" y="16.95" width="50.6" height="3" opacity="0.144"/><rect x="150.2" y="19.95" width="52.3" height="3" opacity="0.150"/><rect x="150.3" y="22.95" width="53.7" height="3" opacity="0.156"/><rect x="150.7" y="25.95" width="54.7" height="3" opacity="0.162"/><rect x="151.2" y="28.95" width="55.6" height="3" opacity="0.167"/><rect x="152.1" y="31.95" width="56.0" height="3" opacity="0.173"/><rect x="153.2" y="34.95" width="56.2" height="3" opacity="0.179"/><rect x="154.5" y="37.95" width="55.9" height="3" opacity="0.185"/><rect x="156.1" y="40.95" width="55.3" height="3" opacity="0.191"/><rect x="157.9" y="43.95" width="54.4" height="3" opacity="0.197"/><rect x="159.9" y="46.95" width="53.2" height="3" opacity="0.203"/><rect x="162.0" y="49.95" width="51.8" height="3" opacity="0.209"/><rect x="164.4" y="52.95" width="50.1" height="3" opacity="0.214"/><rect x="166.8" y="55.95" width="48.3" height="3" opacity="0.217"/><rect x="169.4" y="58.95" width="46.3" height="3" opacity="0.197"/><rect x="171.6" y="61.95" width="44.1" height="3" opacity="0.145"/><rect x="172.9" y="64.95" width="41.4" height="3" opacity="0.035"/><rect x="191.7" y="-1.05" width="45.0" height="3" opacity="0.030"/><rect x="191.7" y="1.95" width="45.0" height="3" opacity="0.125"/><rect x="190.5" y="4.95" width="46.7" height="3" opacity="0.132"/><rect x="189.3" y="7.95" width="48.5" height="3" opacity="0.137"/><rect x="187.9" y="10.95" width="50.1" height="3" opacity="0.142"/><rect x="186.5" y="13.95" width="51.7" height="3" opacity="0.147"/><rect x="185.1" y="16.95" width="53.0" height="3" opacity="0.153"/><rect x="183.6" y="19.95" width="54.2" height="3" opacity="0.158"/><rect x="182.3" y="22.95" width="55.0" height="3" opacity="0.163"/><rect x="181.0" y="25.95" width="55.7" height="3" opacity="0.169"/><rect x="179.8" y="28.95" width="56.0" height="3" opacity="0.174"/><rect x="178.6" y="31.95" width="56.2" height="3" opacity="0.179"/><rect x="177.6" y="34.95" width="55.9" height="3" opacity="0.184"/><rect x="176.6" y="37.95" width="55.5" height="3" opacity="0.190"/><rect x="175.7" y="40.95" width="54.7" height="3" opacity="0.195"/><rect x="174.9" y="43.95" width="53.8" height="3" opacity="0.200"/><rect x="174.2" y="46.95" width="52.5" height="3" opacity="0.205"/><rect x="173.5" y="49.95" width="51.2" height="3" opacity="0.211"/><rect x="172.8" y="52.95" width="49.6" height="3" opacity="0.216"/><rect x="172.2" y="55.95" width="47.9" height="3" opacity="0.214"/><rect x="171.5" y="58.95" width="46.2" height="3" opacity="0.196"/><rect x="171.6" y="61.95" width="44.1" height="3" opacity="0.145"/><rect x="172.9" y="64.95" width="41.4" height="3" opacity="0.035"/><rect x="191.7" y="-1.05" width="45.0" height="3" opacity="0.030"/><rect x="191.7" y="1.95" width="45.0" height="3" opacity="0.125"/><rect x="191.2" y="4.95" width="46.7" height="3" opacity="0.132"/><rect x="190.6" y="7.95" width="48.5" height="3" opacity="0.137"/><rect x="190.4" y="10.95" width="50.1" height="3" opacity="0.142"/><rect x="190.2" y="13.95" width="51.7" height="3" opacity="0.147"/><rect x="190.4" y="16.95" width="53.0" height="3" opacity="0.153"/><rect x="190.6" y="19.95" width="54.2" height="3" opacity="0.158"/><rect x="191.1" y="22.95" width="55.0" height="3" opacity="0.163"/><rect x="191.7" y="25.95" width="55.7" height="3" opacity="0.169"/><rect x="192.6" y="28.95" width="56.0" height="3" opacity="0.174"/><rect x="193.6" y="31.95" width="56.2" height="3" opacity="0.179"/><rect x="194.9" y="34.95" width="55.9" height="3" opacity="0.184"/><rect x="196.3" y="37.95" width="55.5" height="3" opacity="0.190"/><rect x="197.9" y="40.95" width="54.7" height="3" opacity="0.195"/><rect x="199.7" y="43.95" width="53.8" height="3" opacity="0.200"/><rect x="201.7" y="46.95" width="52.5" height="3" opacity="0.205"/><rect x="203.8" y="49.95" width="51.2" height="3" opacity="0.211"/><rect x="206.0" y="52.95" width="49.6" height="3" opacity="0.216"/><rect x="208.3" y="55.95" width="47.9" height="3" opacity="0.214"/><rect x="210.7" y="58.95" width="46.2" height="3" opacity="0.196"/><rect x="212.8" y="61.95" width="44.1" height="3" opacity="0.145"/><rect x="214.1" y="64.95" width="41.4" height="3" opacity="0.035"/><rect x="231.7" y="4.95" width="45.0" height="3" opacity="0.030"/><rect x="231.7" y="7.95" width="45.0" height="3" opacity="0.125"/><rect x="230.4" y="10.95" width="46.9" height="3" opacity="0.132"/><rect x="229.0" y="13.95" width="48.9" height="3" opacity="0.138"/><rect x="227.5" y="16.95" width="50.6" height="3" opacity="0.144"/><rect x="226.0" y="19.95" width="52.3" height="3" opacity="0.150"/><rect x="224.4" y="22.95" width="53.7" height="3" opacity="0.156"/><rect x="223.0" y="25.95" width="54.7" height="3" opacity="0.162"/><rect x="221.5" y="28.95" width="55.6" height="3" opacity="0.167"/><rect x="220.3" y="31.95" width="56.0" height="3" opacity="0.173"/><rect x="219.0" y="34.95" width="56.2" height="3" opacity="0.179"/><rect x="218.0" y="37.95" width="55.9" height="3" opacity="0.185"/><rect x="217.0" y="40.95" width="55.3" height="3" opacity="0.191"/><rect x="216.1" y="43.95" width="54.4" height="3" opacity="0.197"/><rect x="215.3" y="46.95" width="53.2" height="3" opacity="0.203"/><rect x="214.6" y="49.95" width="51.8" height="3" opacity="0.209"/><rect x="214.0" y="52.95" width="50.1" height="3" opacity="0.214"/><rect x="213.3" y="55.95" width="48.3" height="3" opacity="0.217"/><rect x="212.7" y="58.95" width="46.3" height="3" opacity="0.197"/><rect x="212.8" y="61.95" width="44.1" height="3" opacity="0.145"/><rect x="214.1" y="64.95" width="41.4" height="3" opacity="0.035"/><rect x="231.7" y="4.95" width="45.0" height="3" opacity="0.030"/><rect x="231.7" y="7.95" width="45.0" height="3" opacity="0.125"/><rect x="231.2" y="10.95" width="46.9" height="3" opacity="0.132"/><rect x="230.7" y="13.95" width="48.9" height="3" opacity="0.138"/><rect x="230.6" y="16.95" width="50.6" height="3" opacity="0.144"/><rect x="230.8" y="19.95" width="52.3" height="3" opacity="0.150"/><rect x="231.1" y="22.95" width="53.7" height="3" opacity="0.156"/><rect x="231.8" y="25.95" width="54.7" height="3" opacity="0.162"/><rect x="232.5" y="28.95" width="55.6" height="3" opacity="0.167"/><rect x="233.8" y="31.95" width="56.0" height="3" opacity="0.173"/><rect x="235.1" y="34.95" width="56.2" height="3" opacity="0.179"/><rect x="236.8" y="37.95" width="55.9" height="3" opacity="0.185"/><rect x="238.7" y="40.95" width="55.3" height="3" opacity="0.191"/><rect x="240.8" y="43.95" width="54.4" height="3" opacity="0.197"/><rect x="243.2" y="46.95" width="53.2" height="3" opacity="0.203"/><rect x="245.8" y="49.95" width="51.8" height="3" opacity="0.209"/><rect x="248.5" y="52.95" width="50.1" height="3" opacity="0.214"/><rect x="251.4" y="55.95" width="48.3" height="3" opacity="0.217"/><rect x="254.4" y="58.95" width="46.3" height="3" opacity="0.197"/><rect x="256.9" y="61.95" width="44.1" height="3" opacity="0.145"/><rect x="258.2" y="64.95" width="41.4" height="3" opacity="0.035"/><rect x="280.5" y="-12.05" width="48.4" height="3" opacity="0.209"/><rect x="279.1" y="-9.05" width="49.6" height="3" opacity="0.210"/><rect x="277.8" y="-6.05" width="50.7" height="3" opacity="0.211"/><rect x="276.4" y="-3.05" width="51.8" height="3" opacity="0.212"/><rect x="275.0" y="-0.05" width="52.8" height="3" opacity="0.213"/><rect x="273.7" y="2.95" width="53.7" height="3" opacity="0.214"/><rect x="272.4" y="5.95" width="54.4" height="3" opacity="0.214"/><rect x="271.1" y="8.95" width="55.0" height="3" opacity="0.215"/><rect x="269.8" y="11.95" width="55.6" height="3" opacity="0.216"/><rect x="268.7" y="14.95" width="55.9" height="3" opacity="0.217"/><rect x="267.5" y="17.95" width="56.1" height="3" opacity="0.218"/><rect x="266.4" y="20.95" width="56.2" height="3" opacity="0.219"/><rect x="265.4" y="23.95" width="56.0" height="3" opacity="0.219"/><rect x="264.5" y="26.95" width="55.8" height="3" opacity="0.220"/><rect x="263.5" y="29.95" width="55.4" height="3" opacity="0.221"/><rect x="262.7" y="32.95" width="54.8" height="3" opacity="0.222"/><rect x="261.9" y="35.95" width="54.2" height="3" opacity="0.223"/><rect x="261.1" y="38.95" width="53.4" height="3" opacity="0.224"/><rect x="260.4" y="41.95" width="52.5" height="3" opacity="0.225"/><rect x="259.7" y="44.95" width="51.5" height="3" opacity="0.225"/><rect x="259.1" y="47.95" width="50.4" height="3" opacity="0.226"/><rect x="258.4" y="50.95" width="49.2" height="3" opacity="0.227"/><rect x="257.8" y="53.95" width="48.0" height="3" opacity="0.222"/><rect x="257.2" y="56.95" width="46.7" height="3" opacity="0.205"/><rect x="256.6" y="59.95" width="45.4" height="3" opacity="0.189"/><rect x="257.3" y="62.95" width="43.2" height="3" opacity="0.109"/><rect x="154.7" y="-12.05" width="39.0" height="4" opacity="0.297"/><rect x="154.7" y="-8.05" width="39.0" height="4" opacity="0.293"/><rect x="154.7" y="-4.05" width="39.0" height="4" opacity="0.290"/><rect x="154.7" y="-0.05" width="39.0" height="4" opacity="0.286"/><rect x="154.7" y="3.95" width="39.0" height="4" opacity="0.235"/><rect x="154.7" y="7.95" width="39.0" height="4" opacity="0.154"/><rect x="154.7" y="11.95" width="39.0" height="4" opacity="0.072"/><rect x="194.7" y="-12.05" width="39.0" height="4" opacity="0.297"/><rect x="194.7" y="-8.05" width="39.0" height="4" opacity="0.293"/><rect x="194.7" y="-4.05" width="39.0" height="4" opacity="0.290"/><rect x="194.7" y="-0.05" width="39.0" height="4" opacity="0.286"/><rect x="194.7" y="3.95" width="39.0" height="4" opacity="0.235"/><rect x="194.7" y="7.95" width="39.0" height="4" opacity="0.154"/><rect x="194.7" y="11.95" width="39.0" height="4" opacity="0.072"/><rect x="234.7" y="-12.05" width="39.0" height="4" opacity="0.297"/><rect x="234.7" y="-8.05" width="39.0" height="4" opacity="0.293"/><rect x="234.7" y="-4.05" width="39.0" height="4" opacity="0.290"/><rect x="234.7" y="-0.05" width="39.0" height="4" opacity="0.286"/><rect x="234.7" y="3.95" width="39.0" height="4" opacity="0.235"/><rect x="234.7" y="7.95" width="39.0" height="4" opacity="0.154"/><rect x="234.7" y="11.95" width="39.0" height="4" opacity="0.072"/></g><ellipse cx="214.2" cy="194.0" rx="11.7" ry="26.1" fill="url(#gw)" opacity="0.500"/><ellipse cx="195.2" cy="164.3" rx="11.7" ry="29.6" fill="url(#gw)" opacity="0.500" transform="rotate(-12 195.2 164.3)"/><ellipse cx="233.2" cy="164.3" rx="11.7" ry="29.6" fill="url(#gw)" opacity="0.500" transform="rotate(12 233.2 164.3)"/><ellipse cx="174.2" cy="125.5" rx="11.7" ry="31.8" fill="url(#gw)" opacity="0.500" transform="rotate(-14 174.2 125.5)"/><ellipse cx="214.2" cy="125.5" rx="11.7" ry="31.8" fill="url(#gw)" opacity="0.500"/><ellipse cx="254.2" cy="125.5" rx="11.7" ry="31.8" fill="url(#gw)" opacity="0.500" transform="rotate(14 254.2 125.5)"/><ellipse cx="149.5" cy="70.5" rx="11.7" ry="39.1" fill="url(#gw)" opacity="0.450" transform="rotate(-9 149.5 70.5)"/><ellipse cx="149.5" cy="70.5" rx="8.1" ry="26.4" fill="url(#gw)" opacity="0.660" transform="rotate(-9 149.5 70.5)"/><ellipse cx="193.6" cy="70.5" rx="11.7" ry="39.1" fill="url(#gw)" opacity="0.450" transform="rotate(-1 193.6 70.5)"/><ellipse cx="193.6" cy="70.5" rx="8.1" ry="26.4" fill="url(#gw)" opacity="0.660" transform="rotate(-1 193.6 70.5)"/><ellipse cx="234.8" cy="70.5" rx="11.7" ry="39.1" fill="url(#gw)" opacity="0.450" transform="rotate(1 234.8 70.5)"/><ellipse cx="234.8" cy="70.5" rx="8.1" ry="26.4" fill="url(#gw)" opacity="0.660" transform="rotate(1 234.8 70.5)"/><ellipse cx="278.9" cy="70.5" rx="11.7" ry="39.1" fill="url(#gw)" opacity="0.450" transform="rotate(9 278.9 70.5)"/><ellipse cx="278.9" cy="70.5" rx="8.1" ry="26.4" fill="url(#gw)" opacity="0.660" transform="rotate(9 278.9 70.5)"/><ellipse cx="214.2" cy="-6.5" rx="13.5" ry="48.0" fill="url(#gw)" opacity="0.250"/><ellipse cx="214.2" cy="-8.5" rx="8.1" ry="33.0" fill="url(#gw)" opacity="0.500"/><g fill="#fff" filter="url(#pc)" opacity="1.0"><rect x="210.2" y="183.0" width="8" height="22" rx="4.0"/><rect x="191.2" y="152.8" width="8" height="23" rx="4.0" transform="rotate(-12 195.2 164.3)"/><rect x="229.2" y="152.8" width="8" height="23" rx="4.0" transform="rotate(12 233.2 164.3)"/><rect x="170.2" y="114.0" width="8" height="23" rx="4.0" transform="rotate(-14 174.2 125.5)"/><rect x="210.2" y="114.0" width="8" height="23" rx="4.0"/><rect x="250.2" y="114.0" width="8" height="23" rx="4.0" transform="rotate(14 254.2 125.5)"/></g></g></g>
<rect x="2.3" y="2.3" width="422.3" height="287.6" fill="none" stroke="#000" stroke-width="4.6"/>
<path d="M14.5 0V10.6M14.5 292.2V281.6M114.2 0V10.6M114.2 292.2V281.6M213.9 0V10.6M213.9 292.2V281.6M313.6 0V10.6M313.6 292.2V281.6M413.3 0V10.6M413.3 292.2V281.6M0 22.9H10.9M426.9 22.9H416.0M0 90.1H10.9M426.9 90.1H416.0M0 157.6H10.9M426.9 157.6H416.0M0 224.7H10.9M426.9 224.7H416.0" stroke="#000" stroke-width="4.7" fill="none"/>
</g>
<rect x="825.7" y="763.8" width="189.0" height="20.1" fill="url(#cb)" stroke="#000" stroke-width="3.4"/>
<path d="M919.8 764.9v4" stroke="#000" stroke-width="3.4"/>
<text x="816.72" y="739.50" textLength="16.42" lengthAdjust="spacingAndGlyphs">0</text>
<text x="904.58" y="739.50" textLength="30.00" lengthAdjust="spacingAndGlyphs">10</text>
<text x="998.62" y="739.50" textLength="30.68" lengthAdjust="spacingAndGlyphs">20</text>
<text x="859.53" y="664.70" textLength="122.08" lengthAdjust="spacingAndGlyphs">Temporal</text>
<text x="840.55" y="701.20" textLength="160.19" lengthAdjust="spacingAndGlyphs">intensity (W)</text>
<text x="677.12" y="764.95" textLength="65.02" lengthAdjust="spacingAndGlyphs">RNN</text>
<text x="590.70" y="1129.20" textLength="25.64" lengthAdjust="spacingAndGlyphs">-4</text>
<text x="689.94" y="1129.20" textLength="26.82" lengthAdjust="spacingAndGlyphs">-2</text>
<text x="794.58" y="1129.20" textLength="17.01" lengthAdjust="spacingAndGlyphs">0</text>
<text x="893.85" y="1129.20" textLength="17.24" lengthAdjust="spacingAndGlyphs">2</text>
<text x="994.35" y="1129.20" textLength="16.19" lengthAdjust="spacingAndGlyphs">4</text>
<text x="743.46" y="1167.80" textLength="118.72" lengthAdjust="spacingAndGlyphs">Time (ps)</text>
<g transform="translate(1178.20 790.05)">
<g clip-path="url(#cf)"><g filter="url(#pm)"><g filter="url(#pn2)"><rect x="-5" y="-5" width="436.9" height="302.2" fill="#050505"/><g fill="url(#gh)" filter="url(#v4)"><rect x="-84.8" y="-10.05" width="600.0" height="8" opacity="0.056"/><rect x="-84.8" y="-2.05" width="600.0" height="8" opacity="0.057"/><rect x="-84.8" y="5.95" width="600.0" height="8" opacity="0.058"/><rect x="-84.8" y="13.95" width="600.0" height="8" opacity="0.059"/><rect x="-84.8" y="21.95" width="600.0" height="8" opacity="0.060"/><rect x="-84.8" y="29.95" width="600.0" height="8" opacity="0.061"/><rect x="-84.8" y="37.95" width="600.0" height="8" opacity="0.063"/><rect x="-84.8" y="45.95" width="600.0" height="8" opacity="0.064"/><rect x="-84.8" y="53.95" width="600.0" height="8" opacity="0.065"/><rect x="-84.8" y="61.95" width="600.0" height="8" opacity="0.066"/><rect x="-84.8" y="69.95" width="600.0" height="8" opacity="0.067"/><rect x="-84.8" y="77.95" width="600.0" height="8" opacity="0.069"/><rect x="-84.8" y="85.95" width="600.0" height="8" opacity="0.070"/><rect x="-84.8" y="93.95" width="600.0" height="8" opacity="0.071"/><rect x="-84.8" y="101.95" width="600.0" height="8" opacity="0.073"/><rect x="-84.8" y="109.95" width="600.0" height="8" opacity="0.074"/><rect x="-84.8" y="117.95" width="600.0" height="8" opacity="0.076"/><rect x="-84.8" y="125.95" width="600.0" height="8" opacity="0.078"/><rect x="-84.8" y="133.95" width="600.0" height="8" opacity="0.079"/><rect x="-84.8" y="141.95" width="600.0" height="8" opacity="0.081"/><rect x="-84.8" y="149.95" width="600.0" height="8" opacity="0.083"/><rect x="-84.8" y="157.95" width="600.0" height="8" opacity="0.084"/><rect x="-84.8" y="165.95" width="600.0" height="8" opacity="0.086"/><rect x="-84.8" y="173.95" width="600.0" height="8" opacity="0.087"/><rect x="-84.8" y="181.95" width="600.0" height="8" opacity="0.089"/><rect x="-84.8" y="189.95" width="600.0" height="8" opacity="0.091"/><rect x="-84.8" y="197.95" width="600.0" height="8" opacity="0.092"/><rect x="-84.8" y="205.95" width="600.0" height="8" opacity="0.094"/><rect x="-86.9" y="213.95" width="604.2" height="8" opacity="0.096"/><rect x="-93.8" y="221.95" width="618.1" height="8" opacity="0.097"/><rect x="-100.8" y="229.95" width="631.9" height="8" opacity="0.099"/><rect x="-107.7" y="237.95" width="645.8" height="8" opacity="0.101"/><rect x="-114.6" y="245.95" width="659.6" height="8" opacity="0.103"/><rect x="-121.5" y="253.95" width="673.4" height="8" opacity="0.105"/><rect x="-128.4" y="261.95" width="687.3" height="8" opacity="0.107"/><rect x="-135.4" y="269.95" width="701.1" height="8" opacity="0.108"/><rect x="-142.3" y="277.95" width="715.0" height="8" opacity="0.110"/><rect x="-149.2" y="285.95" width="728.8" height="8" opacity="0.112"/><rect x="-156.1" y="293.95" width="742.6" height="8" opacity="0.114"/><rect x="-159.8" y="301.95" width="750.0" height="8" opacity="0.115"/></g><g fill="url(#gh)" filter="url(#v2)"><rect x="202.8" y="208.95" width="24.7" height="4" opacity="0.097"/><rect x="201.8" y="212.95" width="26.7" height="4" opacity="0.363"/><rect x="198.5" y="216.95" width="33.5" height="4" opacity="0.409"/><rect x="194.7" y="220.95" width="41.0" height="4" opacity="0.419"/><rect x="188.3" y="224.95" width="53.8" height="4" opacity="0.376"/><rect x="181.3" y="228.95" width="67.8" height="4" opacity="0.326"/><rect x="173.3" y="232.95" width="83.8" height="4" opacity="0.290"/><rect x="165.3" y="236.95" width="99.8" height="4" opacity="0.255"/><rect x="158.2" y="240.95" width="114.1" height="4" opacity="0.237"/><rect x="151.2" y="244.95" width="128.1" height="4" opacity="0.222"/><rect x="144.2" y="248.95" width="142.1" height="4" opacity="0.207"/><rect x="138.8" y="252.95" width="152.7" height="4" opacity="0.200"/><rect x="133.8" y="256.95" width="162.8" height="4" opacity="0.193"/><rect x="128.7" y="260.95" width="172.9" height="4" opacity="0.187"/><rect x="123.7" y="264.95" width="183.0" height="4" opacity="0.181"/><rect x="118.7" y="268.95" width="192.9" height="4" opacity="0.175"/><rect x="114.7" y="272.95" width="200.9" height="4" opacity="0.172"/><rect x="110.7" y="276.95" width="208.9" height="4" opacity="0.169"/><rect x="106.7" y="280.95" width="216.9" height="4" opacity="0.166"/><rect x="102.7" y="284.95" width="224.9" height="4" opacity="0.163"/><rect x="98.7" y="288.95" width="232.9" height="4" opacity="0.160"/><rect x="95.5" y="292.95" width="239.5" height="4" opacity="0.159"/><rect x="92.3" y="296.95" width="245.8" height="4" opacity="0.158"/><rect x="89.1" y="300.95" width="252.2" height="4" opacity="0.157"/></g><ellipse cx="204.2" cy="213.5" rx="13.8" ry="13.2" fill="url(#gk)" opacity="0.950"/><ellipse cx="226.2" cy="213.5" rx="13.8" ry="13.2" fill="url(#gk)" opacity="0.950"/><ellipse cx="215.2" cy="185.8" rx="24.0" ry="15.0" fill="url(#gk)" opacity="0.880"/><ellipse cx="184.2" cy="186.8" rx="15.0" ry="16.5" fill="url(#gk)" opacity="0.880"/><ellipse cx="246.2" cy="186.8" rx="15.0" ry="16.5" fill="url(#gk)" opacity="0.880"/><ellipse cx="195.2" cy="146.0" rx="19.5" ry="25.5" fill="url(#gk)" opacity="0.880"/><ellipse cx="158.7" cy="149.0" rx="18.0" ry="24.0" fill="url(#gk)" opacity="0.880"/><ellipse cx="235.2" cy="146.0" rx="19.5" ry="25.5" fill="url(#gk)" opacity="0.880"/><ellipse cx="271.7" cy="149.0" rx="18.0" ry="24.0" fill="url(#gk)" opacity="0.880"/><ellipse cx="172.7" cy="93.0" rx="25.5" ry="45.0" fill="url(#gk)" opacity="0.880"/><ellipse cx="215.2" cy="93.0" rx="25.5" ry="45.0" fill="url(#gk)" opacity="0.880"/><ellipse cx="257.7" cy="93.0" rx="25.5" ry="45.0" fill="url(#gk)" opacity="0.880"/><ellipse cx="128.2" cy="95.0" rx="30.0" ry="48.0" fill="url(#gk)" opacity="0.748"/><ellipse cx="302.2" cy="95.0" rx="30.0" ry="48.0" fill="url(#gk)" opacity="0.748"/><ellipse cx="149.2" cy="13.0" rx="25.5" ry="54.0" fill="url(#gk)" opacity="0.660"/><ellipse cx="195.2" cy="13.0" rx="25.5" ry="54.0" fill="url(#gk)" opacity="0.660"/><ellipse cx="235.2" cy="13.0" rx="25.5" ry="54.0" fill="url(#gk)" opacity="0.660"/><ellipse cx="281.2" cy="13.0" rx="25.5" ry="54.0" fill="url(#gk)" opacity="0.660"/><g fill="url(#gh)" filter="url(#v2)"><rect x="183.6" y="180.95" width="25.2" height="3" opacity="0.030"/><rect x="183.6" y="183.95" width="25.2" height="3" opacity="0.187"/><rect x="183.6" y="186.95" width="25.2" height="3" opacity="0.345"/><rect x="182.9" y="189.95" width="26.7" height="3" opacity="0.404"/><rect x="182.2" y="192.95" width="29.3" height="3" opacity="0.373"/><rect x="182.7" y="195.95" width="31.0" height="3" opacity="0.341"/><rect x="184.8" y="198.95" width="31.4" height="3" opacity="0.320"/><rect x="188.6" y="201.95" width="30.6" height="3" opacity="0.351"/><rect x="194.0" y="204.95" width="28.6" height="3" opacity="0.382"/><rect x="201.0" y="207.95" width="25.8" height="3" opacity="0.356"/><rect x="203.2" y="210.95" width="24.0" height="3" opacity="0.178"/><rect x="221.6" y="180.95" width="25.2" height="3" opacity="0.030"/><rect x="221.6" y="183.95" width="25.2" height="3" opacity="0.187"/><rect x="221.6" y="186.95" width="25.2" height="3" opacity="0.345"/><rect x="220.8" y="189.95" width="26.7" height="3" opacity="0.404"/><rect x="218.9" y="192.95" width="29.3" height="3" opacity="0.373"/><rect x="216.7" y="195.95" width="31.0" height="3" opacity="0.341"/><rect x="214.2" y="198.95" width="31.4" height="3" opacity="0.320"/><rect x="211.3" y="201.95" width="30.6" height="3" opacity="0.351"/><rect x="207.9" y="204.95" width="28.6" height="3" opacity="0.382"/><rect x="203.6" y="207.95" width="25.8" height="3" opacity="0.356"/><rect x="203.2" y="210.95" width="24.0" height="3" opacity="0.178"/><rect x="160.2" y="142.95" width="30.0" height="3" opacity="0.051"/><rect x="160.2" y="145.95" width="30.0" height="3" opacity="0.193"/><rect x="160.2" y="148.95" width="30.0" height="3" opacity="0.336"/><rect x="159.4" y="151.95" width="31.7" height="3" opacity="0.366"/><rect x="158.6" y="154.95" width="34.0" height="3" opacity="0.346"/><rect x="158.5" y="157.95" width="35.8" height="3" opacity="0.326"/><rect x="159.1" y="160.95" width="37.0" height="3" opacity="0.306"/><rect x="160.7" y="163.95" width="37.5" height="3" opacity="0.286"/><rect x="163.2" y="166.95" width="37.1" height="3" opacity="0.305"/><rect x="166.8" y="169.95" width="35.9" height="3" opacity="0.325"/><rect x="171.3" y="172.95" width="34.1" height="3" opacity="0.345"/><rect x="176.7" y="175.95" width="31.8" height="3" opacity="0.349"/><rect x="181.4" y="178.95" width="29.5" height="3" opacity="0.257"/><rect x="182.3" y="181.95" width="27.7" height="3" opacity="0.075"/><rect x="200.2" y="142.95" width="30.0" height="3" opacity="0.032"/><rect x="200.2" y="145.95" width="30.0" height="3" opacity="0.120"/><rect x="200.2" y="148.95" width="30.0" height="3" opacity="0.208"/><rect x="199.3" y="151.95" width="31.7" height="3" opacity="0.252"/><rect x="197.8" y="154.95" width="34.0" height="3" opacity="0.273"/><rect x="196.2" y="157.95" width="35.8" height="3" opacity="0.290"/><rect x="194.5" y="160.95" width="37.0" height="3" opacity="0.303"/><rect x="192.6" y="163.95" width="37.5" height="3" opacity="0.286"/><rect x="190.7" y="166.95" width="37.1" height="3" opacity="0.305"/><rect x="188.6" y="169.95" width="35.9" height="3" opacity="0.325"/><rect x="186.2" y="172.95" width="34.1" height="3" opacity="0.345"/><rect x="183.5" y="175.95" width="31.8" height="3" opacity="0.349"/><rect x="181.4" y="178.95" width="29.5" height="3" opacity="0.257"/><rect x="182.3" y="181.95" width="27.7" height="3" opacity="0.075"/><rect x="200.2" y="142.95" width="30.0" height="3" opacity="0.032"/><rect x="200.2" y="145.95" width="30.0" height="3" opacity="0.120"/><rect x="200.2" y="148.95" width="30.0" height="3" opacity="0.208"/><rect x="199.4" y="151.95" width="31.7" height="3" opacity="0.252"/><rect x="198.6" y="154.95" width="34.0" height="3" opacity="0.273"/><rect x="198.4" y="157.95" width="35.8" height="3" opacity="0.290"/><rect x="198.9" y="160.95" width="37.0" height="3" opacity="0.303"/><rect x="200.3" y="163.95" width="37.5" height="3" opacity="0.286"/><rect x="202.6" y="166.95" width="37.1" height="3" opacity="0.305"/><rect x="205.9" y="169.95" width="35.9" height="3" opacity="0.325"/><rect x="210.1" y="172.95" width="34.1" height="3" opacity="0.345"/><rect x="215.1" y="175.95" width="31.8" height="3" opacity="0.349"/><rect x="219.4" y="178.95" width="29.5" height="3" opacity="0.257"/><rect x="220.3" y="181.95" width="27.7" height="3" opacity="0.075"/><rect x="240.2" y="142.95" width="30.0" height="3" opacity="0.051"/><rect x="240.2" y="145.95" width="30.0" height="3" opacity="0.193"/><rect x="240.2" y="148.95" width="30.0" height="3" opacity="0.336"/><rect x="239.3" y="151.95" width="31.7" height="3" opacity="0.366"/><rect x="237.8" y="154.95" width="34.0" height="3" opacity="0.346"/><rect x="236.1" y="157.95" width="35.8" height="3" opacity="0.326"/><rect x="234.2" y="160.95" width="37.0" height="3" opacity="0.306"/><rect x="232.2" y="163.95" width="37.5" height="3" opacity="0.286"/><rect x="230.1" y="166.95" width="37.1" height="3" opacity="0.305"/><rect x="227.7" y="169.95" width="35.9" height="3" opacity="0.325"/><rect x="225.0" y="172.95" width="34.1" height="3" opacity="0.345"/><rect x="221.8" y="175.95" width="31.8" height="3" opacity="0.349"/><rect x="219.4" y="178.95" width="29.5" height="3" opacity="0.257"/><rect x="220.3" y="181.95" width="27.7" height="3" opacity="0.075"/><rect x="133.1" y="88.95" width="34.8" height="3" opacity="0.039"/><rect x="133.1" y="91.95" width="34.8" height="3" opacity="0.152"/><rect x="133.1" y="94.95" width="34.8" height="3" opacity="0.264"/><rect x="132.5" y="97.95" width="36.1" height="3" opacity="0.293"/><rect x="131.8" y="100.95" width="37.9" height="3" opacity="0.282"/><rect x="131.2" y="103.95" width="39.6" height="3" opacity="0.272"/><rect x="131.1" y="106.95" width="41.0" height="3" opacity="0.261"/><rect x="131.4" y="109.95" width="42.2" height="3" opacity="0.251"/><rect x="131.9" y="112.95" width="43.0" height="3" opacity="0.241"/><rect x="133.2" y="115.95" width="43.4" height="3" opacity="0.230"/><rect x="134.8" y="118.95" width="43.3" height="3" opacity="0.230"/><rect x="136.8" y="121.95" width="43.0" height="3" opacity="0.241"/><rect x="139.5" y="124.95" width="42.1" height="3" opacity="0.251"/><rect x="142.6" y="127.95" width="41.0" height="3" opacity="0.262"/><rect x="146.2" y="130.95" width="39.6" height="3" opacity="0.272"/><rect x="150.2" y="133.95" width="37.9" height="3" opacity="0.283"/><rect x="154.7" y="136.95" width="36.0" height="3" opacity="0.261"/><rect x="158.2" y="139.95" width="34.1" height="3" opacity="0.191"/><rect x="159.2" y="142.95" width="32.0" height="3" opacity="0.047"/><rect x="177.2" y="88.95" width="34.8" height="3" opacity="0.024"/><rect x="177.2" y="91.95" width="34.8" height="3" opacity="0.094"/><rect x="177.2" y="94.95" width="34.8" height="3" opacity="0.164"/><rect x="176.5" y="97.95" width="36.1" height="3" opacity="0.194"/><rect x="175.5" y="100.95" width="37.9" height="3" opacity="0.206"/><rect x="174.4" y="103.95" width="39.6" height="3" opacity="0.217"/><rect x="173.2" y="106.95" width="41.0" height="3" opacity="0.226"/><rect x="172.0" y="109.95" width="42.2" height="3" opacity="0.233"/><rect x="170.8" y="112.95" width="43.0" height="3" opacity="0.240"/><rect x="169.5" y="115.95" width="43.4" height="3" opacity="0.230"/><rect x="168.3" y="118.95" width="43.3" height="3" opacity="0.230"/><rect x="167.0" y="121.95" width="43.0" height="3" opacity="0.241"/><rect x="165.6" y="124.95" width="42.1" height="3" opacity="0.251"/><rect x="164.2" y="127.95" width="41.0" height="3" opacity="0.262"/><rect x="162.7" y="130.95" width="39.6" height="3" opacity="0.272"/><rect x="161.0" y="133.95" width="37.9" height="3" opacity="0.283"/><rect x="159.1" y="136.95" width="36.0" height="3" opacity="0.261"/><rect x="158.2" y="139.95" width="34.1" height="3" opacity="0.191"/><rect x="159.2" y="142.95" width="32.0" height="3" opacity="0.047"/><rect x="177.2" y="88.95" width="34.8" height="3" opacity="0.024"/><rect x="177.2" y="91.95" width="34.8" height="3" opacity="0.094"/><rect x="177.2" y="94.95" width="34.8" height="3" opacity="0.164"/><rect x="176.6" y="97.95" width="36.1" height="3" opacity="0.194"/><rect x="175.8" y="100.95" width="37.9" height="3" opacity="0.206"/><rect x="175.3" y="103.95" width="39.6" height="3" opacity="0.217"/><rect x="175.0" y="106.95" width="41.0" height="3" opacity="0.226"/><rect x="175.1" y="109.95" width="42.2" height="3" opacity="0.233"/><rect x="175.5" y="112.95" width="43.0" height="3" opacity="0.240"/><rect x="176.5" y="115.95" width="43.4" height="3" opacity="0.230"/><rect x="177.9" y="118.95" width="43.3" height="3" opacity="0.230"/><rect x="179.6" y="121.95" width="43.0" height="3" opacity="0.241"/><rect x="181.9" y="124.95" width="42.1" height="3" opacity="0.251"/><rect x="184.6" y="127.95" width="41.0" height="3" opacity="0.262"/><rect x="187.7" y="130.95" width="39.6" height="3" opacity="0.272"/><rect x="191.2" y="133.95" width="37.9" height="3" opacity="0.283"/><rect x="195.1" y="136.95" width="36.0" height="3" opacity="0.261"/><rect x="198.2" y="139.95" width="34.1" height="3" opacity="0.191"/><rect x="199.2" y="142.95" width="32.0" height="3" opacity="0.047"/><rect x="218.4" y="88.95" width="34.8" height="3" opacity="0.024"/><rect x="218.4" y="91.95" width="34.8" height="3" opacity="0.094"/><rect x="218.4" y="94.95" width="34.8" height="3" opacity="0.164"/><rect x="217.7" y="97.95" width="36.1" height="3" opacity="0.194"/><rect x="216.7" y="100.95" width="37.9" height="3" opacity="0.206"/><rect x="215.5" y="103.95" width="39.6" height="3" opacity="0.217"/><rect x="214.3" y="106.95" width="41.0" height="3" opacity="0.226"/><rect x="213.1" y="109.95" width="42.2" height="3" opacity="0.233"/><rect x="211.8" y="112.95" width="43.0" height="3" opacity="0.240"/><rect x="210.5" y="115.95" width="43.4" height="3" opacity="0.230"/><rect x="209.2" y="118.95" width="43.3" height="3" opacity="0.230"/><rect x="207.8" y="121.95" width="43.0" height="3" opacity="0.241"/><rect x="206.3" y="124.95" width="42.1" height="3" opacity="0.251"/><rect x="204.8" y="127.95" width="41.0" height="3" opacity="0.262"/><rect x="203.1" y="130.95" width="39.6" height="3" opacity="0.272"/><rect x="201.3" y="133.95" width="37.9" height="3" opacity="0.283"/><rect x="199.2" y="136.95" width="36.0" height="3" opacity="0.261"/><rect x="198.2" y="139.95" width="34.1" height="3" opacity="0.191"/><rect x="199.2" y="142.95" width="32.0" height="3" opacity="0.047"/><rect x="218.4" y="88.95" width="34.8" height="3" opacity="0.024"/><rect x="218.4" y="91.95" width="34.8" height="3" opacity="0.094"/><rect x="218.4" y="94.95" width="34.8" height="3" opacity="0.164"/><rect x="217.8" y="97.95" width="36.1" height="3" opacity="0.194"/><rect x="217.0" y="100.95" width="37.9" height="3" opacity="0.206"/><rect x="216.4" y="103.95" width="39.6" height="3" opacity="0.217"/><rect x="216.2" y="106.95" width="41.0" height="3" opacity="0.226"/><rect x="216.2" y="109.95" width="42.2" height="3" opacity="0.233"/><rect x="216.6" y="112.95" width="43.0" height="3" opacity="0.240"/><rect x="217.5" y="115.95" width="43.4" height="3" opacity="0.230"/><rect x="218.8" y="118.95" width="43.3" height="3" opacity="0.230"/><rect x="220.4" y="121.95" width="43.0" height="3" opacity="0.241"/><rect x="222.6" y="124.95" width="42.1" height="3" opacity="0.251"/><rect x="225.2" y="127.95" width="41.0" height="3" opacity="0.262"/><rect x="228.2" y="130.95" width="39.6" height="3" opacity="0.272"/><rect x="231.5" y="133.95" width="37.9" height="3" opacity="0.283"/><rect x="235.3" y="136.95" width="36.0" height="3" opacity="0.261"/><rect x="238.2" y="139.95" width="34.1" height="3" opacity="0.191"/><rect x="239.2" y="142.95" width="32.0" height="3" opacity="0.047"/><rect x="262.5" y="88.95" width="34.8" height="3" opacity="0.039"/><rect x="262.5" y="91.95" width="34.8" height="3" opacity="0.152"/><rect x="262.5" y="94.95" width="34.8" height="3" opacity="0.264"/><rect x="261.8" y="97.95" width="36.1" height="3" opacity="0.293"/><rect x="260.7" y="100.95" width="37.9" height="3" opacity="0.282"/><rect x="259.6" y="103.95" width="39.6" height="3" opacity="0.272"/><rect x="258.3" y="106.95" width="41.0" height="3" opacity="0.261"/><rect x="256.9" y="109.95" width="42.2" height="3" opacity="0.251"/><rect x="255.4" y="112.95" width="43.0" height="3" opacity="0.241"/><rect x="253.9" y="115.95" width="43.4" height="3" opacity="0.230"/><rect x="252.3" y="118.95" width="43.3" height="3" opacity="0.230"/><rect x="250.6" y="121.95" width="43.0" height="3" opacity="0.241"/><rect x="248.8" y="124.95" width="42.1" height="3" opacity="0.251"/><rect x="246.8" y="127.95" width="41.0" height="3" opacity="0.262"/><rect x="244.7" y="130.95" width="39.6" height="3" opacity="0.272"/><rect x="242.3" y="133.95" width="37.9" height="3" opacity="0.283"/><rect x="239.6" y="136.95" width="36.0" height="3" opacity="0.261"/><rect x="238.2" y="139.95" width="34.1" height="3" opacity="0.191"/><rect x="239.2" y="142.95" width="32.0" height="3" opacity="0.047"/><rect x="103.7" y="-12.05" width="39.0" height="3" opacity="0.215"/><rect x="103.7" y="-9.05" width="39.0" height="3" opacity="0.204"/><rect x="103.7" y="-6.05" width="39.5" height="3" opacity="0.198"/><rect x="103.7" y="-3.05" width="40.5" height="3" opacity="0.199"/><rect x="103.7" y="-0.05" width="41.5" height="3" opacity="0.200"/><rect x="103.9" y="2.95" width="42.5" height="3" opacity="0.201"/><rect x="104.1" y="5.95" width="43.4" height="3" opacity="0.201"/><rect x="104.4" y="8.95" width="44.3" height="3" opacity="0.202"/><rect x="104.7" y="11.95" width="45.1" height="3" opacity="0.203"/><rect x="105.1" y="14.95" width="45.8" height="3" opacity="0.203"/><rect x="105.6" y="17.95" width="46.5" height="3" opacity="0.204"/><rect x="106.1" y="20.95" width="47.1" height="3" opacity="0.205"/><rect x="106.8" y="23.95" width="47.6" height="3" opacity="0.206"/><rect x="107.4" y="26.95" width="48.0" height="3" opacity="0.206"/><rect x="108.2" y="29.95" width="48.4" height="3" opacity="0.207"/><rect x="109.0" y="32.95" width="48.5" height="3" opacity="0.208"/><rect x="109.9" y="35.95" width="48.7" height="3" opacity="0.209"/><rect x="110.8" y="38.95" width="48.7" height="3" opacity="0.209"/><rect x="111.9" y="41.95" width="48.5" height="3" opacity="0.210"/><rect x="113.0" y="44.95" width="48.4" height="3" opacity="0.211"/><rect x="114.1" y="47.95" width="48.0" height="3" opacity="0.212"/><rect x="115.4" y="50.95" width="47.6" height="3" opacity="0.212"/><rect x="116.6" y="53.95" width="47.1" height="3" opacity="0.213"/><rect x="118.0" y="56.95" width="46.5" height="3" opacity="0.214"/><rect x="119.4" y="59.95" width="45.8" height="3" opacity="0.215"/><rect x="120.8" y="62.95" width="45.1" height="3" opacity="0.215"/><rect x="122.3" y="65.95" width="44.3" height="3" opacity="0.216"/><rect x="123.8" y="68.95" width="43.4" height="3" opacity="0.217"/><rect x="125.4" y="71.95" width="42.5" height="3" opacity="0.217"/><rect x="127.0" y="74.95" width="41.5" height="3" opacity="0.211"/><rect x="128.6" y="77.95" width="40.5" height="3" opacity="0.197"/><rect x="130.2" y="80.95" width="39.5" height="3" opacity="0.183"/><rect x="131.6" y="83.95" width="37.8" height="3" opacity="0.121"/><rect x="132.8" y="86.95" width="35.5" height="3" opacity="0.016"/><rect x="155.7" y="26.95" width="39.0" height="3" opacity="0.044"/><rect x="155.5" y="29.95" width="39.3" height="3" opacity="0.122"/><rect x="154.2" y="32.95" width="41.0" height="3" opacity="0.127"/><rect x="152.8" y="35.95" width="42.6" height="3" opacity="0.133"/><rect x="151.2" y="38.95" width="44.2" height="3" opacity="0.139"/><rect x="149.6" y="41.95" width="45.5" height="3" opacity="0.144"/><rect x="147.9" y="44.95" width="46.7" height="3" opacity="0.150"/><rect x="146.3" y="47.95" width="47.6" height="3" opacity="0.156"/><rect x="144.7" y="50.95" width="48.3" height="3" opacity="0.161"/><rect x="143.1" y="53.95" width="48.6" height="3" opacity="0.167"/><rect x="141.6" y="56.95" width="48.7" height="3" opacity="0.172"/><rect x="140.2" y="59.95" width="48.4" height="3" opacity="0.178"/><rect x="138.8" y="62.95" width="47.8" height="3" opacity="0.184"/><rect x="137.5" y="65.95" width="47.0" height="3" opacity="0.189"/><rect x="136.3" y="68.95" width="45.9" height="3" opacity="0.195"/><rect x="135.1" y="71.95" width="44.7" height="3" opacity="0.200"/><rect x="133.9" y="74.95" width="43.1" height="3" opacity="0.206"/><rect x="132.8" y="77.95" width="41.5" height="3" opacity="0.205"/><rect x="131.6" y="80.95" width="39.8" height="3" opacity="0.185"/><rect x="131.6" y="83.95" width="37.8" height="3" opacity="0.121"/><rect x="132.8" y="86.95" width="35.5" height="3" opacity="0.016"/><rect x="155.7" y="26.95" width="39.0" height="3" opacity="0.044"/><rect x="155.6" y="29.95" width="39.3" height="3" opacity="0.122"/><rect x="155.1" y="32.95" width="41.0" height="3" opacity="0.127"/><rect x="154.8" y="35.95" width="42.6" height="3" opacity="0.133"/><rect x="154.6" y="38.95" width="44.2" height="3" opacity="0.139"/><rect x="154.7" y="41.95" width="45.5" height="3" opacity="0.144"/><rect x="154.9" y="44.95" width="46.7" height="3" opacity="0.150"/><rect x="155.4" y="47.95" width="47.6" height="3" opacity="0.156"/><rect x="156.1" y="50.95" width="48.3" height="3" opacity="0.161"/><rect x="157.0" y="53.95" width="48.6" height="3" opacity="0.167"/><rect x="158.1" y="56.95" width="48.7" height="3" opacity="0.172"/><rect x="159.5" y="59.95" width="48.4" height="3" opacity="0.178"/><rect x="161.1" y="62.95" width="47.8" height="3" opacity="0.184"/><rect x="162.8" y="65.95" width="47.0" height="3" opacity="0.189"/><rect x="164.8" y="68.95" width="45.9" height="3" opacity="0.195"/><rect x="166.8" y="71.95" width="44.7" height="3" opacity="0.200"/><rect x="169.1" y="74.95" width="43.1" height="3" opacity="0.206"/><rect x="171.4" y="77.95" width="41.5" height="3" opacity="0.205"/><rect x="173.9" y="80.95" width="39.8" height="3" opacity="0.185"/><rect x="175.7" y="83.95" width="37.8" height="3" opacity="0.121"/><rect x="176.9" y="86.95" width="35.5" height="3" opacity="0.016"/><rect x="195.7" y="20.95" width="39.0" height="3" opacity="0.044"/><rect x="195.5" y="23.95" width="39.2" height="3" opacity="0.122"/><rect x="194.4" y="26.95" width="40.8" height="3" opacity="0.127"/><rect x="193.3" y="29.95" width="42.3" height="3" opacity="0.132"/><rect x="192.0" y="32.95" width="43.7" height="3" opacity="0.137"/><rect x="190.7" y="35.95" width="45.0" height="3" opacity="0.142"/><rect x="189.4" y="38.95" width="46.1" height="3" opacity="0.147"/><rect x="188.0" y="41.95" width="47.1" height="3" opacity="0.152"/><rect x="186.8" y="44.95" width="47.8" height="3" opacity="0.157"/><rect x="185.5" y="47.95" width="48.3" height="3" opacity="0.162"/><rect x="184.3" y="50.95" width="48.6" height="3" opacity="0.167"/><rect x="183.2" y="53.95" width="48.7" height="3" opacity="0.172"/><rect x="182.1" y="56.95" width="48.4" height="3" opacity="0.177"/><rect x="181.2" y="59.95" width="48.0" height="3" opacity="0.182"/><rect x="180.2" y="62.95" width="47.3" height="3" opacity="0.187"/><rect x="179.4" y="65.95" width="46.4" height="3" opacity="0.192"/><rect x="178.5" y="68.95" width="45.3" height="3" opacity="0.197"/><rect x="177.8" y="71.95" width="44.1" height="3" opacity="0.202"/><rect x="177.0" y="74.95" width="42.7" height="3" opacity="0.207"/><rect x="176.2" y="77.95" width="41.3" height="3" opacity="0.202"/><rect x="175.5" y="80.95" width="39.7" height="3" opacity="0.184"/><rect x="175.7" y="83.95" width="37.8" height="3" opacity="0.121"/><rect x="176.9" y="86.95" width="35.5" height="3" opacity="0.016"/><rect x="195.7" y="20.95" width="39.0" height="3" opacity="0.044"/><rect x="195.6" y="23.95" width="39.2" height="3" opacity="0.122"/><rect x="195.2" y="26.95" width="40.8" height="3" opacity="0.127"/><rect x="194.8" y="29.95" width="42.3" height="3" opacity="0.132"/><rect x="194.7" y="32.95" width="43.7" height="3" opacity="0.137"/><rect x="194.7" y="35.95" width="45.0" height="3" opacity="0.142"/><rect x="195.0" y="38.95" width="46.1" height="3" opacity="0.147"/><rect x="195.3" y="41.95" width="47.1" height="3" opacity="0.152"/><rect x="195.9" y="44.95" width="47.8" height="3" opacity="0.157"/><rect x="196.6" y="47.95" width="48.3" height="3" opacity="0.162"/><rect x="197.5" y="50.95" width="48.6" height="3" opacity="0.167"/><rect x="198.5" y="53.95" width="48.7" height="3" opacity="0.172"/><rect x="199.8" y="56.95" width="48.4" height="3" opacity="0.177"/><rect x="201.2" y="59.95" width="48.0" height="3" opacity="0.182"/><rect x="202.9" y="62.95" width="47.3" height="3" opacity="0.187"/><rect x="204.6" y="65.95" width="46.4" height="3" opacity="0.192"/><rect x="206.5" y="68.95" width="45.3" height="3" opacity="0.197"/><rect x="208.5" y="71.95" width="44.1" height="3" opacity="0.202"/><rect x="210.7" y="74.95" width="42.7" height="3" opacity="0.207"/><rect x="212.9" y="77.95" width="41.3" height="3" opacity="0.202"/><rect x="215.2" y="80.95" width="39.7" height="3" opacity="0.184"/><rect x="216.9" y="83.95" width="37.8" height="3" opacity="0.121"/><rect x="218.1" y="86.95" width="35.5" height="3" opacity="0.016"/><rect x="235.7" y="26.95" width="39.0" height="3" opacity="0.044"/><rect x="235.5" y="29.95" width="39.3" height="3" opacity="0.122"/><rect x="234.3" y="32.95" width="41.0" height="3" opacity="0.127"/><rect x="233.0" y="35.95" width="42.6" height="3" opacity="0.133"/><rect x="231.6" y="38.95" width="44.2" height="3" opacity="0.139"/><rect x="230.2" y="41.95" width="45.5" height="3" opacity="0.144"/><rect x="228.8" y="44.95" width="46.7" height="3" opacity="0.150"/><rect x="227.4" y="47.95" width="47.6" height="3" opacity="0.156"/><rect x="226.0" y="50.95" width="48.3" height="3" opacity="0.161"/><rect x="224.8" y="53.95" width="48.6" height="3" opacity="0.167"/><rect x="223.6" y="56.95" width="48.7" height="3" opacity="0.172"/><rect x="222.5" y="59.95" width="48.4" height="3" opacity="0.178"/><rect x="221.5" y="62.95" width="47.8" height="3" opacity="0.184"/><rect x="220.6" y="65.95" width="47.0" height="3" opacity="0.189"/><rect x="219.7" y="68.95" width="45.9" height="3" opacity="0.195"/><rect x="218.9" y="71.95" width="44.7" height="3" opacity="0.200"/><rect x="218.2" y="74.95" width="43.1" height="3" opacity="0.206"/><rect x="217.4" y="77.95" width="41.5" height="3" opacity="0.205"/><rect x="216.7" y="80.95" width="39.8" height="3" opacity="0.185"/><rect x="216.9" y="83.95" width="37.8" height="3" opacity="0.121"/><rect x="218.1" y="86.95" width="35.5" height="3" opacity="0.016"/><rect x="235.7" y="26.95" width="39.0" height="3" opacity="0.044"/><rect x="235.6" y="29.95" width="39.3" height="3" opacity="0.122"/><rect x="235.2" y="32.95" width="41.0" height="3" opacity="0.127"/><rect x="235.0" y="35.95" width="42.6" height="3" opacity="0.133"/><rect x="235.0" y="38.95" width="44.2" height="3" opacity="0.139"/><rect x="235.3" y="41.95" width="45.5" height="3" opacity="0.144"/><rect x="235.8" y="44.95" width="46.7" height="3" opacity="0.150"/><rect x="236.5" y="47.95" width="47.6" height="3" opacity="0.156"/><rect x="237.4" y="50.95" width="48.3" height="3" opacity="0.161"/><rect x="238.7" y="53.95" width="48.6" height="3" opacity="0.167"/><rect x="240.1" y="56.95" width="48.7" height="3" opacity="0.172"/><rect x="241.8" y="59.95" width="48.4" height="3" opacity="0.178"/><rect x="243.7" y="62.95" width="47.8" height="3" opacity="0.184"/><rect x="245.8" y="65.95" width="47.0" height="3" opacity="0.189"/><rect x="248.2" y="68.95" width="45.9" height="3" opacity="0.195"/><rect x="250.6" y="71.95" width="44.7" height="3" opacity="0.200"/><rect x="253.3" y="74.95" width="43.1" height="3" opacity="0.206"/><rect x="256.1" y="77.95" width="41.5" height="3" opacity="0.205"/><rect x="259.0" y="80.95" width="39.8" height="3" opacity="0.185"/><rect x="261.0" y="83.95" width="37.8" height="3" opacity="0.121"/><rect x="262.2" y="86.95" width="35.5" height="3" opacity="0.016"/><rect x="287.7" y="-12.05" width="39.0" height="3" opacity="0.215"/><rect x="287.7" y="-9.05" width="39.0" height="3" opacity="0.204"/><rect x="287.2" y="-6.05" width="39.5" height="3" opacity="0.198"/><rect x="286.2" y="-3.05" width="40.5" height="3" opacity="0.199"/><rect x="285.2" y="-0.05" width="41.5" height="3" opacity="0.200"/><rect x="284.1" y="2.95" width="42.5" height="3" opacity="0.201"/><rect x="282.9" y="5.95" width="43.4" height="3" opacity="0.201"/><rect x="281.8" y="8.95" width="44.3" height="3" opacity="0.202"/><rect x="280.6" y="11.95" width="45.1" height="3" opacity="0.203"/><rect x="279.4" y="14.95" width="45.8" height="3" opacity="0.203"/><rect x="278.3" y="17.95" width="46.5" height="3" opacity="0.204"/><rect x="277.1" y="20.95" width="47.1" height="3" opacity="0.205"/><rect x="276.0" y="23.95" width="47.6" height="3" opacity="0.206"/><rect x="274.9" y="26.95" width="48.0" height="3" opacity="0.206"/><rect x="273.9" y="29.95" width="48.4" height="3" opacity="0.207"/><rect x="272.9" y="32.95" width="48.5" height="3" opacity="0.208"/><rect x="271.9" y="35.95" width="48.7" height="3" opacity="0.209"/><rect x="270.9" y="38.95" width="48.7" height="3" opacity="0.209"/><rect x="270.0" y="41.95" width="48.5" height="3" opacity="0.210"/><rect x="269.1" y="44.95" width="48.4" height="3" opacity="0.211"/><rect x="268.2" y="47.95" width="48.0" height="3" opacity="0.212"/><rect x="267.5" y="50.95" width="47.6" height="3" opacity="0.212"/><rect x="266.7" y="53.95" width="47.1" height="3" opacity="0.213"/><rect x="265.9" y="56.95" width="46.5" height="3" opacity="0.214"/><rect x="265.2" y="59.95" width="45.8" height="3" opacity="0.215"/><rect x="264.5" y="62.95" width="45.1" height="3" opacity="0.215"/><rect x="263.9" y="65.95" width="44.3" height="3" opacity="0.216"/><rect x="263.2" y="68.95" width="43.4" height="3" opacity="0.217"/><rect x="262.6" y="71.95" width="42.5" height="3" opacity="0.217"/><rect x="261.9" y="74.95" width="41.5" height="3" opacity="0.211"/><rect x="261.3" y="77.95" width="40.5" height="3" opacity="0.197"/><rect x="260.7" y="80.95" width="39.5" height="3" opacity="0.183"/><rect x="261.0" y="83.95" width="37.8" height="3" opacity="0.121"/><rect x="262.2" y="86.95" width="35.5" height="3" opacity="0.016"/><rect x="155.7" y="-12.05" width="39.0" height="4" opacity="0.279"/><rect x="155.7" y="-8.05" width="39.0" height="4" opacity="0.277"/><rect x="155.7" y="-4.05" width="39.0" height="4" opacity="0.276"/><rect x="155.7" y="-0.05" width="39.0" height="4" opacity="0.274"/><rect x="155.7" y="3.95" width="39.0" height="4" opacity="0.273"/><rect x="155.7" y="7.95" width="39.0" height="4" opacity="0.271"/><rect x="155.7" y="11.95" width="39.0" height="4" opacity="0.270"/><rect x="155.7" y="15.95" width="39.0" height="4" opacity="0.269"/><rect x="155.7" y="19.95" width="39.0" height="4" opacity="0.267"/><rect x="155.7" y="23.95" width="39.0" height="4" opacity="0.248"/><rect x="155.7" y="27.95" width="39.0" height="4" opacity="0.172"/><rect x="155.7" y="31.95" width="39.0" height="4" opacity="0.096"/><rect x="155.7" y="35.95" width="39.0" height="4" opacity="0.020"/><rect x="235.7" y="-12.05" width="39.0" height="4" opacity="0.279"/><rect x="235.7" y="-8.05" width="39.0" height="4" opacity="0.277"/><rect x="235.7" y="-4.05" width="39.0" height="4" opacity="0.276"/><rect x="235.7" y="-0.05" width="39.0" height="4" opacity="0.274"/><rect x="235.7" y="3.95" width="39.0" height="4" opacity="0.273"/><rect x="235.7" y="7.95" width="39.0" height="4" opacity="0.271"/><rect x="235.7" y="11.95" width="39.0" height="4" opacity="0.270"/><rect x="235.7" y="15.95" width="39.0" height="4" opacity="0.269"/><rect x="235.7" y="19.95" width="39.0" height="4" opacity="0.267"/><rect x="235.7" y="23.95" width="39.0" height="4" opacity="0.248"/><rect x="235.7" y="27.95" width="39.0" height="4" opacity="0.172"/><rect x="235.7" y="31.95" width="39.0" height="4" opacity="0.096"/><rect x="235.7" y="35.95" width="39.0" height="4" opacity="0.020"/></g><ellipse cx="215.2" cy="215.5" rx="11.7" ry="26.1" fill="url(#gw)" opacity="0.500"/><ellipse cx="196.2" cy="185.8" rx="11.7" ry="29.6" fill="url(#gw)" opacity="0.500" transform="rotate(-12 196.2 185.8)"/><ellipse cx="234.2" cy="185.8" rx="11.7" ry="29.6" fill="url(#gw)" opacity="0.500" transform="rotate(12 234.2 185.8)"/><ellipse cx="175.2" cy="147.0" rx="11.7" ry="31.8" fill="url(#gw)" opacity="0.500" transform="rotate(-14 175.2 147.0)"/><ellipse cx="215.2" cy="147.0" rx="11.7" ry="31.8" fill="url(#gw)" opacity="0.500"/><ellipse cx="255.2" cy="147.0" rx="11.7" ry="31.8" fill="url(#gw)" opacity="0.500" transform="rotate(14 255.2 147.0)"/><ellipse cx="150.5" cy="92.0" rx="11.7" ry="39.1" fill="url(#gw)" opacity="0.450" transform="rotate(-9 150.5 92.0)"/><ellipse cx="150.5" cy="92.0" rx="8.1" ry="26.4" fill="url(#gw)" opacity="0.550" transform="rotate(-9 150.5 92.0)"/><ellipse cx="194.6" cy="92.0" rx="11.7" ry="39.1" fill="url(#gw)" opacity="0.450" transform="rotate(-1 194.6 92.0)"/><ellipse cx="194.6" cy="92.0" rx="8.1" ry="26.4" fill="url(#gw)" opacity="0.550" transform="rotate(-1 194.6 92.0)"/><ellipse cx="235.8" cy="92.0" rx="11.7" ry="39.1" fill="url(#gw)" opacity="0.450" transform="rotate(1 235.8 92.0)"/><ellipse cx="235.8" cy="92.0" rx="8.1" ry="26.4" fill="url(#gw)" opacity="0.550" transform="rotate(1 235.8 92.0)"/><ellipse cx="279.9" cy="92.0" rx="11.7" ry="39.1" fill="url(#gw)" opacity="0.450" transform="rotate(9 279.9 92.0)"/><ellipse cx="279.9" cy="92.0" rx="8.1" ry="26.4" fill="url(#gw)" opacity="0.550" transform="rotate(9 279.9 92.0)"/><ellipse cx="215.2" cy="15.0" rx="13.5" ry="48.0" fill="url(#gw)" opacity="0.500"/></g><g fill="#fff" filter="url(#pb)" opacity="0.93"><rect x="211.9" y="204.0" width="6.6" height="23" rx="3.3"/><rect x="192.9" y="173.3" width="6.6" height="25" rx="3.3" transform="rotate(-12 196.2 185.8)"/><rect x="230.9" y="173.3" width="6.6" height="25" rx="3.3" transform="rotate(12 234.2 185.8)"/><rect x="171.9" y="133.5" width="6.6" height="27" rx="3.3" transform="rotate(-14 175.2 147.0)"/><rect x="211.9" y="133.5" width="6.6" height="27" rx="3.3"/><rect x="251.9" y="133.5" width="6.6" height="27" rx="3.3" transform="rotate(14 255.2 147.0)"/><path d="M211.6 -13.0h7.2v36l-3.6 12l-3.6 -12z"/></g></g></g>
<rect x="2.3" y="2.3" width="422.3" height="287.6" fill="none" stroke="#000" stroke-width="4.6"/>
<path d="M14.5 0V10.6M14.5 292.2V281.6M114.2 0V10.6M114.2 292.2V281.6M213.9 0V10.6M213.9 292.2V281.6M313.6 0V10.6M313.6 292.2V281.6M413.3 0V10.6M413.3 292.2V281.6M0 22.9H10.9M426.9 22.9H416.0M0 90.1H10.9M426.9 90.1H416.0M0 157.6H10.9M426.9 157.6H416.0M0 224.7H10.9M426.9 224.7H416.0" stroke="#000" stroke-width="4.7" fill="none"/>
</g>
<rect x="1413.7" y="757.8" width="189.0" height="20.1" fill="url(#cb)" stroke="#000" stroke-width="3.4"/>
<path d="M1507.8 758.9v4" stroke="#000" stroke-width="3.4"/>
<text x="1404.72" y="733.50" textLength="16.42" lengthAdjust="spacingAndGlyphs">0</text>
<text x="1492.58" y="733.50" textLength="30.00" lengthAdjust="spacingAndGlyphs">10</text>
<text x="1586.62" y="733.50" textLength="30.68" lengthAdjust="spacingAndGlyphs">20</text>
<text x="1447.53" y="658.70" textLength="122.08" lengthAdjust="spacingAndGlyphs">Temporal</text>
<text x="1428.55" y="695.20" textLength="160.19" lengthAdjust="spacingAndGlyphs">intensity (W)</text>
<text x="1249.28" y="758.90" textLength="73.41" lengthAdjust="spacingAndGlyphs">NLSE</text>
<text x="1178.70" y="1123.20" textLength="25.64" lengthAdjust="spacingAndGlyphs">-4</text>
<text x="1277.94" y="1123.20" textLength="26.82" lengthAdjust="spacingAndGlyphs">-2</text>
<text x="1382.58" y="1123.20" textLength="17.01" lengthAdjust="spacingAndGlyphs">0</text>
<text x="1481.85" y="1123.20" textLength="17.24" lengthAdjust="spacingAndGlyphs">2</text>
<text x="1582.35" y="1123.20" textLength="16.19" lengthAdjust="spacingAndGlyphs">4</text>
<text x="1331.46" y="1161.80" textLength="118.72" lengthAdjust="spacingAndGlyphs">Time (ps)</text>
<text x="1117.94" y="822.35" textLength="48.79" lengthAdjust="spacingAndGlyphs">200</text>
<text x="1118.85" y="889.55" textLength="47.86" lengthAdjust="spacingAndGlyphs">150</text>
<text x="1118.85" y="957.05" textLength="47.86" lengthAdjust="spacingAndGlyphs">100</text>
<text x="1134.14" y="1024.15" textLength="32.32" lengthAdjust="spacingAndGlyphs">50</text>
<text transform="translate(1109.80 1004.60) rotate(-90)" x="-2.34" y="0" textLength="160.51" lengthAdjust="spacingAndGlyphs">Distance (m)</text>
<text x="1132.63" y="692.50" font-size="31" font-weight="bold" textLength="19.35" lengthAdjust="spacingAndGlyphs">d</text>
<g transform="translate(1663.20 790.05)">
<g clip-path="url(#cf)"><g filter="url(#pm)"><rect x="-5" y="-5" width="436.9" height="302.2" fill="#050505"/><g fill="url(#gh)" filter="url(#v4)"><rect x="-84.3" y="-10.05" width="600.0" height="8" opacity="0.056"/><rect x="-84.3" y="-2.05" width="600.0" height="8" opacity="0.058"/><rect x="-84.3" y="5.95" width="600.0" height="8" opacity="0.059"/><rect x="-84.3" y="13.95" width="600.0" height="8" opacity="0.061"/><rect x="-84.3" y="21.95" width="600.0" height="8" opacity="0.063"/><rect x="-84.3" y="29.95" width="600.0" height="8" opacity="0.065"/><rect x="-84.3" y="37.95" width="600.0" height="8" opacity="0.066"/><rect x="-84.3" y="45.95" width="600.0" height="8" opacity="0.068"/><rect x="-84.3" y="53.95" width="600.0" height="8" opacity="0.070"/><rect x="-84.3" y="61.95" width="600.0" height="8" opacity="0.072"/><rect x="-84.3" y="69.95" width="600.0" height="8" opacity="0.073"/><rect x="-84.3" y="77.95" width="600.0" height="8" opacity="0.075"/><rect x="-84.3" y="85.95" width="600.0" height="8" opacity="0.076"/><rect x="-84.3" y="93.95" width="600.0" height="8" opacity="0.078"/><rect x="-84.3" y="101.95" width="600.0" height="8" opacity="0.080"/><rect x="-84.3" y="109.95" width="600.0" height="8" opacity="0.081"/><rect x="-84.3" y="117.95" width="600.0" height="8" opacity="0.083"/><rect x="-84.3" y="125.95" width="600.0" height="8" opacity="0.085"/><rect x="-84.3" y="133.95" width="600.0" height="8" opacity="0.086"/><rect x="-84.3" y="141.95" width="600.0" height="8" opacity="0.088"/><rect x="-84.3" y="149.95" width="600.0" height="8" opacity="0.089"/><rect x="-84.3" y="157.95" width="600.0" height="8" opacity="0.091"/><rect x="-84.3" y="165.95" width="600.0" height="8" opacity="0.093"/><rect x="-84.3" y="173.95" width="600.0" height="8" opacity="0.094"/><rect x="-87.1" y="181.95" width="605.5" height="8" opacity="0.096"/><rect x="-92.0" y="189.95" width="615.5" height="8" opacity="0.097"/><rect x="-97.0" y="197.95" width="625.4" height="8" opacity="0.098"/><rect x="-102.0" y="205.95" width="635.4" height="8" opacity="0.100"/><rect x="-106.9" y="213.95" width="645.3" height="8" opacity="0.101"/><rect x="-111.9" y="221.95" width="655.2" height="8" opacity="0.102"/><rect x="-116.9" y="229.95" width="665.2" height="8" opacity="0.104"/><rect x="-121.9" y="237.95" width="675.1" height="8" opacity="0.105"/><rect x="-126.8" y="245.95" width="685.1" height="8" opacity="0.106"/><rect x="-131.8" y="253.95" width="695.0" height="8" opacity="0.108"/><rect x="-136.8" y="261.95" width="705.0" height="8" opacity="0.109"/><rect x="-141.7" y="269.95" width="714.9" height="8" opacity="0.110"/><rect x="-146.7" y="277.95" width="724.8" height="8" opacity="0.112"/><rect x="-151.7" y="285.95" width="734.8" height="8" opacity="0.113"/><rect x="-156.7" y="293.95" width="744.7" height="8" opacity="0.114"/><rect x="-159.3" y="301.95" width="750.0" height="8" opacity="0.115"/></g><g fill="url(#gh)" filter="url(#v2)"><rect x="203.3" y="174.95" width="24.7" height="4" opacity="0.097"/><rect x="202.3" y="178.95" width="26.7" height="4" opacity="0.363"/><rect x="199.0" y="182.95" width="33.5" height="4" opacity="0.409"/><rect x="195.2" y="186.95" width="41.0" height="4" opacity="0.419"/><rect x="188.8" y="190.95" width="53.8" height="4" opacity="0.376"/><rect x="181.8" y="194.95" width="67.8" height="4" opacity="0.326"/><rect x="173.8" y="198.95" width="83.8" height="4" opacity="0.290"/><rect x="165.8" y="202.95" width="99.8" height="4" opacity="0.255"/><rect x="158.7" y="206.95" width="114.1" height="4" opacity="0.237"/><rect x="151.7" y="210.95" width="128.1" height="4" opacity="0.222"/><rect x="144.7" y="214.95" width="142.1" height="4" opacity="0.207"/><rect x="139.3" y="218.95" width="152.7" height="4" opacity="0.200"/><rect x="134.3" y="222.95" width="162.8" height="4" opacity="0.193"/><rect x="129.2" y="226.95" width="172.9" height="4" opacity="0.187"/><rect x="124.2" y="230.95" width="183.0" height="4" opacity="0.181"/><rect x="119.2" y="234.95" width="192.9" height="4" opacity="0.175"/><rect x="115.2" y="238.95" width="200.9" height="4" opacity="0.172"/><rect x="111.2" y="242.95" width="208.9" height="4" opacity="0.169"/><rect x="107.2" y="246.95" width="216.9" height="4" opacity="0.166"/><rect x="103.2" y="250.95" width="224.9" height="4" opacity="0.163"/><rect x="99.2" y="254.95" width="232.9" height="4" opacity="0.160"/><rect x="96.0" y="258.95" width="239.5" height="4" opacity="0.159"/><rect x="92.8" y="262.95" width="245.8" height="4" opacity="0.158"/><rect x="89.6" y="266.95" width="252.2" height="4" opacity="0.157"/><rect x="86.4" y="270.95" width="258.5" height="4" opacity="0.155"/><rect x="83.3" y="274.95" width="264.9" height="4" opacity="0.154"/><rect x="80.1" y="278.95" width="271.2" height="4" opacity="0.153"/><rect x="76.9" y="282.95" width="277.6" height="4" opacity="0.152"/><rect x="73.7" y="286.95" width="284.0" height="4" opacity="0.151"/><rect x="71.7" y="290.95" width="288.0" height="4" opacity="0.150"/></g><ellipse cx="204.7" cy="179.5" rx="13.8" ry="13.2" fill="url(#gk)" opacity="0.950"/><ellipse cx="226.7" cy="179.5" rx="13.8" ry="13.2" fill="url(#gk)" opacity="0.950"/><ellipse cx="215.7" cy="151.8" rx="24.0" ry="15.0" fill="url(#gk)" opacity="0.880"/><ellipse cx="184.7" cy="152.8" rx="15.0" ry="16.5" fill="url(#gk)" opacity="0.880"/><ellipse cx="246.7" cy="152.8" rx="15.0" ry="16.5" fill="url(#gk)" opacity="0.880"/><ellipse cx="195.7" cy="112.0" rx="19.5" ry="25.5" fill="url(#gk)" opacity="0.880"/><ellipse cx="159.2" cy="115.0" rx="18.0" ry="24.0" fill="url(#gk)" opacity="0.880"/><ellipse cx="235.7" cy="112.0" rx="19.5" ry="25.5" fill="url(#gk)" opacity="0.880"/><ellipse cx="272.2" cy="115.0" rx="18.0" ry="24.0" fill="url(#gk)" opacity="0.880"/><ellipse cx="173.2" cy="59.0" rx="25.5" ry="45.0" fill="url(#gk)" opacity="0.880"/><ellipse cx="215.7" cy="59.0" rx="25.5" ry="45.0" fill="url(#gk)" opacity="0.880"/><ellipse cx="258.2" cy="59.0" rx="25.5" ry="45.0" fill="url(#gk)" opacity="0.880"/><ellipse cx="128.7" cy="61.0" rx="30.0" ry="48.0" fill="url(#gk)" opacity="0.748"/><ellipse cx="302.7" cy="61.0" rx="30.0" ry="48.0" fill="url(#gk)" opacity="0.748"/><ellipse cx="149.7" cy="-21.0" rx="25.5" ry="54.0" fill="url(#gk)" opacity="0.660"/><ellipse cx="195.7" cy="-21.0" rx="25.5" ry="54.0" fill="url(#gk)" opacity="0.660"/><ellipse cx="235.7" cy="-21.0" rx="25.5" ry="54.0" fill="url(#gk)" opacity="0.660"/><ellipse cx="281.7" cy="-21.0" rx="25.5" ry="54.0" fill="url(#gk)" opacity="0.660"/><g fill="url(#gh)" filter="url(#v2)"><rect x="184.1" y="146.95" width="25.2" height="3" opacity="0.030"/><rect x="184.1" y="149.95" width="25.2" height="3" opacity="0.187"/><rect x="184.1" y="152.95" width="25.2" height="3" opacity="0.345"/><rect x="183.4" y="155.95" width="26.7" height="3" opacity="0.404"/><rect x="182.7" y="158.95" width="29.3" height="3" opacity="0.373"/><rect x="183.2" y="161.95" width="31.0" height="3" opacity="0.341"/><rect x="185.3" y="164.95" width="31.4" height="3" opacity="0.320"/><rect x="189.1" y="167.95" width="30.6" height="3" opacity="0.351"/><rect x="194.5" y="170.95" width="28.6" height="3" opacity="0.382"/><rect x="201.5" y="173.95" width="25.8" height="3" opacity="0.356"/><rect x="203.7" y="176.95" width="24.0" height="3" opacity="0.178"/><rect x="222.1" y="146.95" width="25.2" height="3" opacity="0.030"/><rect x="222.1" y="149.95" width="25.2" height="3" opacity="0.187"/><rect x="222.1" y="152.95" width="25.2" height="3" opacity="0.345"/><rect x="221.3" y="155.95" width="26.7" height="3" opacity="0.404"/><rect x="219.4" y="158.95" width="29.3" height="3" opacity="0.373"/><rect x="217.2" y="161.95" width="31.0" height="3" opacity="0.341"/><rect x="214.7" y="164.95" width="31.4" height="3" opacity="0.320"/><rect x="211.8" y="167.95" width="30.6" height="3" opacity="0.351"/><rect x="208.4" y="170.95" width="28.6" height="3" opacity="0.382"/><rect x="204.1" y="173.95" width="25.8" height="3" opacity="0.356"/><rect x="203.7" y="176.95" width="24.0" height="3" opacity="0.178"/><rect x="160.7" y="108.95" width="30.0" height="3" opacity="0.051"/><rect x="160.7" y="111.95" width="30.0" height="3" opacity="0.193"/><rect x="160.7" y="114.95" width="30.0" height="3" opacity="0.336"/><rect x="159.9" y="117.95" width="31.7" height="3" opacity="0.366"/><rect x="159.1" y="120.95" width="34.0" height="3" opacity="0.346"/><rect x="159.0" y="123.95" width="35.8" height="3" opacity="0.326"/><rect x="159.6" y="126.95" width="37.0" height="3" opacity="0.306"/><rect x="161.2" y="129.95" width="37.5" height="3" opacity="0.286"/><rect x="163.7" y="132.95" width="37.1" height="3" opacity="0.305"/><rect x="167.3" y="135.95" width="35.9" height="3" opacity="0.325"/><rect x="171.8" y="138.95" width="34.1" height="3" opacity="0.345"/><rect x="177.2" y="141.95" width="31.8" height="3" opacity="0.349"/><rect x="181.9" y="144.95" width="29.5" height="3" opacity="0.257"/><rect x="182.8" y="147.95" width="27.7" height="3" opacity="0.075"/><rect x="200.7" y="108.95" width="30.0" height="3" opacity="0.032"/><rect x="200.7" y="111.95" width="30.0" height="3" opacity="0.120"/><rect x="200.7" y="114.95" width="30.0" height="3" opacity="0.208"/><rect x="199.8" y="117.95" width="31.7" height="3" opacity="0.252"/><rect x="198.3" y="120.95" width="34.0" height="3" opacity="0.273"/><rect x="196.7" y="123.95" width="35.8" height="3" opacity="0.290"/><rect x="195.0" y="126.95" width="37.0" height="3" opacity="0.303"/><rect x="193.1" y="129.95" width="37.5" height="3" opacity="0.286"/><rect x="191.2" y="132.95" width="37.1" height="3" opacity="0.305"/><rect x="189.1" y="135.95" width="35.9" height="3" opacity="0.325"/><rect x="186.7" y="138.95" width="34.1" height="3" opacity="0.345"/><rect x="184.0" y="141.95" width="31.8" height="3" opacity="0.349"/><rect x="181.9" y="144.95" width="29.5" height="3" opacity="0.257"/><rect x="182.8" y="147.95" width="27.7" height="3" opacity="0.075"/><rect x="200.7" y="108.95" width="30.0" height="3" opacity="0.032"/><rect x="200.7" y="111.95" width="30.0" height="3" opacity="0.120"/><rect x="200.7" y="114.95" width="30.0" height="3" opacity="0.208"/><rect x="199.9" y="117.95" width="31.7" height="3" opacity="0.252"/><rect x="199.1" y="120.95" width="34.0" height="3" opacity="0.273"/><rect x="198.9" y="123.95" width="35.8" height="3" opacity="0.290"/><rect x="199.4" y="126.95" width="37.0" height="3" opacity="0.303"/><rect x="200.8" y="129.95" width="37.5" height="3" opacity="0.286"/><rect x="203.1" y="132.95" width="37.1" height="3" opacity="0.305"/><rect x="206.4" y="135.95" width="35.9" height="3" opacity="0.325"/><rect x="210.6" y="138.95" width="34.1" height="3" opacity="0.345"/><rect x="215.6" y="141.95" width="31.8" height="3" opacity="0.349"/><rect x="219.9" y="144.95" width="29.5" height="3" opacity="0.257"/><rect x="220.8" y="147.95" width="27.7" height="3" opacity="0.075"/><rect x="240.7" y="108.95" width="30.0" height="3" opacity="0.051"/><rect x="240.7" y="111.95" width="30.0" height="3" opacity="0.193"/><rect x="240.7" y="114.95" width="30.0" height="3" opacity="0.336"/><rect x="239.8" y="117.95" width="31.7" height="3" opacity="0.366"/><rect x="238.3" y="120.95" width="34.0" height="3" opacity="0.346"/><rect x="236.6" y="123.95" width="35.8" height="3" opacity="0.326"/><rect x="234.7" y="126.95" width="37.0" height="3" opacity="0.306"/><rect x="232.7" y="129.95" width="37.5" height="3" opacity="0.286"/><rect x="230.6" y="132.95" width="37.1" height="3" opacity="0.305"/><rect x="228.2" y="135.95" width="35.9" height="3" opacity="0.325"/><rect x="225.5" y="138.95" width="34.1" height="3" opacity="0.345"/><rect x="222.3" y="141.95" width="31.8" height="3" opacity="0.349"/><rect x="219.9" y="144.95" width="29.5" height="3" opacity="0.257"/><rect x="220.8" y="147.95" width="27.7" height="3" opacity="0.075"/><rect x="133.6" y="54.95" width="34.8" height="3" opacity="0.039"/><rect x="133.6" y="57.95" width="34.8" height="3" opacity="0.152"/><rect x="133.6" y="60.95" width="34.8" height="3" opacity="0.264"/><rect x="133.0" y="63.95" width="36.1" height="3" opacity="0.293"/><rect x="132.3" y="66.95" width="37.9" height="3" opacity="0.282"/><rect x="131.7" y="69.95" width="39.6" height="3" opacity="0.272"/><rect x="131.6" y="72.95" width="41.0" height="3" opacity="0.261"/><rect x="131.9" y="75.95" width="42.2" height="3" opacity="0.251"/><rect x="132.4" y="78.95" width="43.0" height="3" opacity="0.241"/><rect x="133.7" y="81.95" width="43.4" height="3" opacity="0.230"/><rect x="135.3" y="84.95" width="43.3" height="3" opacity="0.230"/><rect x="137.3" y="87.95" width="43.0" height="3" opacity="0.241"/><rect x="140.0" y="90.95" width="42.1" height="3" opacity="0.251"/><rect x="143.1" y="93.95" width="41.0" height="3" opacity="0.262"/><rect x="146.7" y="96.95" width="39.6" height="3" opacity="0.272"/><rect x="150.7" y="99.95" width="37.9" height="3" opacity="0.283"/><rect x="155.2" y="102.95" width="36.0" height="3" opacity="0.261"/><rect x="158.7" y="105.95" width="34.1" height="3" opacity="0.191"/><rect x="159.7" y="108.95" width="32.0" height="3" opacity="0.047"/><rect x="177.7" y="54.95" width="34.8" height="3" opacity="0.024"/><rect x="177.7" y="57.95" width="34.8" height="3" opacity="0.094"/><rect x="177.7" y="60.95" width="34.8" height="3" opacity="0.164"/><rect x="177.0" y="63.95" width="36.1" height="3" opacity="0.194"/><rect x="176.0" y="66.95" width="37.9" height="3" opacity="0.206"/><rect x="174.9" y="69.95" width="39.6" height="3" opacity="0.217"/><rect x="173.7" y="72.95" width="41.0" height="3" opacity="0.226"/><rect x="172.5" y="75.95" width="42.2" height="3" opacity="0.233"/><rect x="171.3" y="78.95" width="43.0" height="3" opacity="0.240"/><rect x="170.0" y="81.95" width="43.4" height="3" opacity="0.230"/><rect x="168.8" y="84.95" width="43.3" height="3" opacity="0.230"/><rect x="167.5" y="87.95" width="43.0" height="3" opacity="0.241"/><rect x="166.1" y="90.95" width="42.1" height="3" opacity="0.251"/><rect x="164.7" y="93.95" width="41.0" height="3" opacity="0.262"/><rect x="163.2" y="96.95" width="39.6" height="3" opacity="0.272"/><rect x="161.5" y="99.95" width="37.9" height="3" opacity="0.283"/><rect x="159.6" y="102.95" width="36.0" height="3" opacity="0.261"/><rect x="158.7" y="105.95" width="34.1" height="3" opacity="0.191"/><rect x="159.7" y="108.95" width="32.0" height="3" opacity="0.047"/><rect x="177.7" y="54.95" width="34.8" height="3" opacity="0.024"/><rect x="177.7" y="57.95" width="34.8" height="3" opacity="0.094"/><rect x="177.7" y="60.95" width="34.8" height="3" opacity="0.164"/><rect x="177.1" y="63.95" width="36.1" height="3" opacity="0.194"/><rect x="176.3" y="66.95" width="37.9" height="3" opacity="0.206"/><rect x="175.8" y="69.95" width="39.6" height="3" opacity="0.217"/><rect x="175.5" y="72.95" width="41.0" height="3" opacity="0.226"/><rect x="175.6" y="75.95" width="42.2" height="3" opacity="0.233"/><rect x="176.0" y="78.95" width="43.0" height="3" opacity="0.240"/><rect x="177.0" y="81.95" width="43.4" height="3" opacity="0.230"/><rect x="178.4" y="84.95" width="43.3" height="3" opacity="0.230"/><rect x="180.1" y="87.95" width="43.0" height="3" opacity="0.241"/><rect x="182.4" y="90.95" width="42.1" height="3" opacity="0.251"/><rect x="185.1" y="93.95" width="41.0" height="3" opacity="0.262"/><rect x="188.2" y="96.95" width="39.6" height="3" opacity="0.272"/><rect x="191.7" y="99.95" width="37.9" height="3" opacity="0.283"/><rect x="195.6" y="102.95" width="36.0" height="3" opacity="0.261"/><rect x="198.7" y="105.95" width="34.1" height="3" opacity="0.191"/><rect x="199.7" y="108.95" width="32.0" height="3" opacity="0.047"/><rect x="218.9" y="54.95" width="34.8" height="3" opacity="0.024"/><rect x="218.9" y="57.95" width="34.8" height="3" opacity="0.094"/><rect x="218.9" y="60.95" width="34.8" height="3" opacity="0.164"/><rect x="218.2" y="63.95" width="36.1" height="3" opacity="0.194"/><rect x="217.2" y="66.95" width="37.9" height="3" opacity="0.206"/><rect x="216.0" y="69.95" width="39.6" height="3" opacity="0.217"/><rect x="214.8" y="72.95" width="41.0" height="3" opacity="0.226"/><rect x="213.6" y="75.95" width="42.2" height="3" opacity="0.233"/><rect x="212.3" y="78.95" width="43.0" height="3" opacity="0.240"/><rect x="211.0" y="81.95" width="43.4" height="3" opacity="0.230"/><rect x="209.7" y="84.95" width="43.3" height="3" opacity="0.230"/><rect x="208.3" y="87.95" width="43.0" height="3" opacity="0.241"/><rect x="206.8" y="90.95" width="42.1" height="3" opacity="0.251"/><rect x="205.3" y="93.95" width="41.0" height="3" opacity="0.262"/><rect x="203.6" y="96.95" width="39.6" height="3" opacity="0.272"/><rect x="201.8" y="99.95" width="37.9" height="3" opacity="0.283"/><rect x="199.7" y="102.95" width="36.0" height="3" opacity="0.261"/><rect x="198.7" y="105.95" width="34.1" height="3" opacity="0.191"/><rect x="199.7" y="108.95" width="32.0" height="3" opacity="0.047"/><rect x="218.9" y="54.95" width="34.8" height="3" opacity="0.024"/><rect x="218.9" y="57.95" width="34.8" height="3" opacity="0.094"/><rect x="218.9" y="60.95" width="34.8" height="3" opacity="0.164"/><rect x="218.3" y="63.95" width="36.1" height="3" opacity="0.194"/><rect x="217.5" y="66.95" width="37.9" height="3" opacity="0.206"/><rect x="216.9" y="69.95" width="39.6" height="3" opacity="0.217"/><rect x="216.7" y="72.95" width="41.0" height="3" opacity="0.226"/><rect x="216.7" y="75.95" width="42.2" height="3" opacity="0.233"/><rect x="217.1" y="78.95" width="43.0" height="3" opacity="0.240"/><rect x="218.0" y="81.95" width="43.4" height="3" opacity="0.230"/><rect x="219.3" y="84.95" width="43.3" height="3" opacity="0.230"/><rect x="220.9" y="87.95" width="43.0" height="3" opacity="0.241"/><rect x="223.1" y="90.95" width="42.1" height="3" opacity="0.251"/><rect x="225.7" y="93.95" width="41.0" height="3" opacity="0.262"/><rect x="228.7" y="96.95" width="39.6" height="3" opacity="0.272"/><rect x="232.0" y="99.95" width="37.9" height="3" opacity="0.283"/><rect x="235.8" y="102.95" width="36.0" height="3" opacity="0.261"/><rect x="238.7" y="105.95" width="34.1" height="3" opacity="0.191"/><rect x="239.7" y="108.95" width="32.0" height="3" opacity="0.047"/><rect x="263.0" y="54.95" width="34.8" height="3" opacity="0.039"/><rect x="263.0" y="57.95" width="34.8" height="3" opacity="0.152"/><rect x="263.0" y="60.95" width="34.8" height="3" opacity="0.264"/><rect x="262.3" y="63.95" width="36.1" height="3" opacity="0.293"/><rect x="261.2" y="66.95" width="37.9" height="3" opacity="0.282"/><rect x="260.1" y="69.95" width="39.6" height="3" opacity="0.272"/><rect x="258.8" y="72.95" width="41.0" height="3" opacity="0.261"/><rect x="257.4" y="75.95" width="42.2" height="3" opacity="0.251"/><rect x="255.9" y="78.95" width="43.0" height="3" opacity="0.241"/><rect x="254.4" y="81.95" width="43.4" height="3" opacity="0.230"/><rect x="252.8" y="84.95" width="43.3" height="3" opacity="0.230"/><rect x="251.1" y="87.95" width="43.0" height="3" opacity="0.241"/><rect x="249.3" y="90.95" width="42.1" height="3" opacity="0.251"/><rect x="247.3" y="93.95" width="41.0" height="3" opacity="0.262"/><rect x="245.2" y="96.95" width="39.6" height="3" opacity="0.272"/><rect x="242.8" y="99.95" width="37.9" height="3" opacity="0.283"/><rect x="240.1" y="102.95" width="36.0" height="3" opacity="0.261"/><rect x="238.7" y="105.95" width="34.1" height="3" opacity="0.191"/><rect x="239.7" y="108.95" width="32.0" height="3" opacity="0.047"/><rect x="105.7" y="-12.05" width="45.9" height="3" opacity="0.204"/><rect x="106.2" y="-9.05" width="46.7" height="3" opacity="0.204"/><rect x="106.8" y="-6.05" width="47.3" height="3" opacity="0.205"/><rect x="107.6" y="-3.05" width="47.8" height="3" opacity="0.206"/><rect x="108.3" y="-0.05" width="48.3" height="3" opacity="0.207"/><rect x="109.2" y="2.95" width="48.5" height="3" opacity="0.208"/><rect x="110.2" y="5.95" width="48.6" height="3" opacity="0.208"/><rect x="111.2" y="8.95" width="48.7" height="3" opacity="0.209"/><rect x="112.4" y="11.95" width="48.5" height="3" opacity="0.210"/><rect x="113.6" y="14.95" width="48.3" height="3" opacity="0.211"/><rect x="114.9" y="17.95" width="47.9" height="3" opacity="0.212"/><rect x="116.3" y="20.95" width="47.4" height="3" opacity="0.213"/><rect x="117.7" y="23.95" width="46.9" height="3" opacity="0.213"/><rect x="119.2" y="26.95" width="46.1" height="3" opacity="0.214"/><rect x="120.8" y="29.95" width="45.3" height="3" opacity="0.215"/><rect x="122.4" y="32.95" width="44.5" height="3" opacity="0.216"/><rect x="124.1" y="35.95" width="43.5" height="3" opacity="0.217"/><rect x="125.8" y="38.95" width="42.5" height="3" opacity="0.217"/><rect x="127.6" y="41.95" width="41.4" height="3" opacity="0.209"/><rect x="129.4" y="44.95" width="40.3" height="3" opacity="0.194"/><rect x="131.2" y="47.95" width="39.2" height="3" opacity="0.178"/><rect x="132.5" y="50.95" width="37.0" height="3" opacity="0.086"/><rect x="156.2" y="-7.05" width="39.0" height="3" opacity="0.044"/><rect x="156.0" y="-4.05" width="39.3" height="3" opacity="0.122"/><rect x="154.7" y="-1.05" width="41.0" height="3" opacity="0.127"/><rect x="153.3" y="1.95" width="42.6" height="3" opacity="0.133"/><rect x="151.7" y="4.95" width="44.2" height="3" opacity="0.139"/><rect x="150.1" y="7.95" width="45.5" height="3" opacity="0.144"/><rect x="148.4" y="10.95" width="46.7" height="3" opacity="0.150"/><rect x="146.8" y="13.95" width="47.6" height="3" opacity="0.156"/><rect x="145.2" y="16.95" width="48.3" height="3" opacity="0.161"/><rect x="143.6" y="19.95" width="48.6" height="3" opacity="0.167"/><rect x="142.1" y="22.95" width="48.7" height="3" opacity="0.172"/><rect x="140.7" y="25.95" width="48.4" height="3" opacity="0.178"/><rect x="139.3" y="28.95" width="47.8" height="3" opacity="0.184"/><rect x="138.0" y="31.95" width="47.0" height="3" opacity="0.189"/><rect x="136.8" y="34.95" width="45.9" height="3" opacity="0.195"/><rect x="135.6" y="37.95" width="44.7" height="3" opacity="0.200"/><rect x="134.4" y="40.95" width="43.1" height="3" opacity="0.206"/><rect x="133.3" y="43.95" width="41.5" height="3" opacity="0.205"/><rect x="132.1" y="46.95" width="39.8" height="3" opacity="0.185"/><rect x="132.1" y="49.95" width="37.8" height="3" opacity="0.121"/><rect x="133.3" y="52.95" width="35.5" height="3" opacity="0.016"/><rect x="156.2" y="-7.05" width="39.0" height="3" opacity="0.044"/><rect x="156.1" y="-4.05" width="39.3" height="3" opacity="0.122"/><rect x="155.6" y="-1.05" width="41.0" height="3" opacity="0.127"/><rect x="155.3" y="1.95" width="42.6" height="3" opacity="0.133"/><rect x="155.1" y="4.95" width="44.2" height="3" opacity="0.139"/><rect x="155.2" y="7.95" width="45.5" height="3" opacity="0.144"/><rect x="155.4" y="10.95" width="46.7" height="3" opacity="0.150"/><rect x="155.9" y="13.95" width="47.6" height="3" opacity="0.156"/><rect x="156.6" y="16.95" width="48.3" height="3" opacity="0.161"/><rect x="157.5" y="19.95" width="48.6" height="3" opacity="0.167"/><rect x="158.6" y="22.95" width="48.7" height="3" opacity="0.172"/><rect x="160.0" y="25.95" width="48.4" height="3" opacity="0.178"/><rect x="161.6" y="28.95" width="47.8" height="3" opacity="0.184"/><rect x="163.3" y="31.95" width="47.0" height="3" opacity="0.189"/><rect x="165.3" y="34.95" width="45.9" height="3" opacity="0.195"/><rect x="167.3" y="37.95" width="44.7" height="3" opacity="0.200"/><rect x="169.6" y="40.95" width="43.1" height="3" opacity="0.206"/><rect x="171.9" y="43.95" width="41.5" height="3" opacity="0.205"/><rect x="174.4" y="46.95" width="39.8" height="3" opacity="0.185"/><rect x="176.2" y="49.95" width="37.8" height="3" opacity="0.121"/><rect x="177.4" y="52.95" width="35.5" height="3" opacity="0.016"/><rect x="196.2" y="-12.05" width="39.0" height="3" opacity="0.074"/><rect x="195.7" y="-9.05" width="39.7" height="3" opacity="0.123"/><rect x="194.6" y="-6.05" width="41.3" height="3" opacity="0.128"/><rect x="193.4" y="-3.05" width="42.7" height="3" opacity="0.134"/><rect x="192.1" y="-0.05" width="44.1" height="3" opacity="0.139"/><rect x="190.7" y="2.95" width="45.3" height="3" opacity="0.144"/><rect x="189.4" y="5.95" width="46.4" height="3" opacity="0.149"/><rect x="188.1" y="8.95" width="47.3" height="3" opacity="0.154"/><rect x="186.8" y="11.95" width="48.0" height="3" opacity="0.159"/><rect x="185.6" y="14.95" width="48.4" height="3" opacity="0.164"/><rect x="184.4" y="17.95" width="48.7" height="3" opacity="0.169"/><rect x="183.3" y="20.95" width="48.6" height="3" opacity="0.174"/><rect x="182.3" y="23.95" width="48.3" height="3" opacity="0.179"/><rect x="181.3" y="26.95" width="47.8" height="3" opacity="0.184"/><rect x="180.4" y="29.95" width="47.1" height="3" opacity="0.189"/><rect x="179.6" y="32.95" width="46.1" height="3" opacity="0.194"/><rect x="178.8" y="35.95" width="45.0" height="3" opacity="0.199"/><rect x="178.0" y="38.95" width="43.7" height="3" opacity="0.204"/><rect x="177.2" y="41.95" width="42.3" height="3" opacity="0.209"/><rect x="176.5" y="44.95" width="40.8" height="3" opacity="0.196"/><rect x="175.7" y="47.95" width="39.2" height="3" opacity="0.179"/><rect x="176.6" y="50.95" width="37.0" height="3" opacity="0.086"/><rect x="196.2" y="-12.05" width="39.0" height="3" opacity="0.074"/><rect x="196.0" y="-9.05" width="39.7" height="3" opacity="0.123"/><rect x="195.6" y="-6.05" width="41.3" height="3" opacity="0.128"/><rect x="195.3" y="-3.05" width="42.7" height="3" opacity="0.134"/><rect x="195.2" y="-0.05" width="44.1" height="3" opacity="0.139"/><rect x="195.3" y="2.95" width="45.3" height="3" opacity="0.144"/><rect x="195.5" y="5.95" width="46.4" height="3" opacity="0.149"/><rect x="196.0" y="8.95" width="47.3" height="3" opacity="0.154"/><rect x="196.6" y="11.95" width="48.0" height="3" opacity="0.159"/><rect x="197.4" y="14.95" width="48.4" height="3" opacity="0.164"/><rect x="198.3" y="17.95" width="48.7" height="3" opacity="0.169"/><rect x="199.5" y="20.95" width="48.6" height="3" opacity="0.174"/><rect x="200.8" y="23.95" width="48.3" height="3" opacity="0.179"/><rect x="202.3" y="26.95" width="47.8" height="3" opacity="0.184"/><rect x="203.9" y="29.95" width="47.1" height="3" opacity="0.189"/><rect x="205.7" y="32.95" width="46.1" height="3" opacity="0.194"/><rect x="207.6" y="35.95" width="45.0" height="3" opacity="0.199"/><rect x="209.7" y="38.95" width="43.7" height="3" opacity="0.204"/><rect x="211.9" y="41.95" width="42.3" height="3" opacity="0.209"/><rect x="214.2" y="44.95" width="40.8" height="3" opacity="0.196"/><rect x="216.5" y="47.95" width="39.2" height="3" opacity="0.179"/><rect x="217.8" y="50.95" width="37.0" height="3" opacity="0.086"/><rect x="236.2" y="-7.05" width="39.0" height="3" opacity="0.044"/><rect x="236.0" y="-4.05" width="39.3" height="3" opacity="0.122"/><rect x="234.8" y="-1.05" width="41.0" height="3" opacity="0.127"/><rect x="233.5" y="1.95" width="42.6" height="3" opacity="0.133"/><rect x="232.1" y="4.95" width="44.2" height="3" opacity="0.139"/><rect x="230.7" y="7.95" width="45.5" height="3" opacity="0.144"/><rect x="229.3" y="10.95" width="46.7" height="3" opacity="0.150"/><rect x="227.9" y="13.95" width="47.6" height="3" opacity="0.156"/><rect x="226.5" y="16.95" width="48.3" height="3" opacity="0.161"/><rect x="225.3" y="19.95" width="48.6" height="3" opacity="0.167"/><rect x="224.1" y="22.95" width="48.7" height="3" opacity="0.172"/><rect x="223.0" y="25.95" width="48.4" height="3" opacity="0.178"/><rect x="222.0" y="28.95" width="47.8" height="3" opacity="0.184"/><rect x="221.1" y="31.95" width="47.0" height="3" opacity="0.189"/><rect x="220.2" y="34.95" width="45.9" height="3" opacity="0.195"/><rect x="219.4" y="37.95" width="44.7" height="3" opacity="0.200"/><rect x="218.7" y="40.95" width="43.1" height="3" opacity="0.206"/><rect x="217.9" y="43.95" width="41.5" height="3" opacity="0.205"/><rect x="217.2" y="46.95" width="39.8" height="3" opacity="0.185"/><rect x="217.4" y="49.95" width="37.8" height="3" opacity="0.121"/><rect x="218.6" y="52.95" width="35.5" height="3" opacity="0.016"/><rect x="236.2" y="-7.05" width="39.0" height="3" opacity="0.044"/><rect x="236.1" y="-4.05" width="39.3" height="3" opacity="0.122"/><rect x="235.7" y="-1.05" width="41.0" height="3" opacity="0.127"/><rect x="235.5" y="1.95" width="42.6" height="3" opacity="0.133"/><rect x="235.5" y="4.95" width="44.2" height="3" opacity="0.139"/><rect x="235.8" y="7.95" width="45.5" height="3" opacity="0.144"/><rect x="236.3" y="10.95" width="46.7" height="3" opacity="0.150"/><rect x="237.0" y="13.95" width="47.6" height="3" opacity="0.156"/><rect x="237.9" y="16.95" width="48.3" height="3" opacity="0.161"/><rect x="239.2" y="19.95" width="48.6" height="3" opacity="0.167"/><rect x="240.6" y="22.95" width="48.7" height="3" opacity="0.172"/><rect x="242.3" y="25.95" width="48.4" height="3" opacity="0.178"/><rect x="244.2" y="28.95" width="47.8" height="3" opacity="0.184"/><rect x="246.3" y="31.95" width="47.0" height="3" opacity="0.189"/><rect x="248.7" y="34.95" width="45.9" height="3" opacity="0.195"/><rect x="251.1" y="37.95" width="44.7" height="3" opacity="0.200"/><rect x="253.8" y="40.95" width="43.1" height="3" opacity="0.206"/><rect x="256.6" y="43.95" width="41.5" height="3" opacity="0.205"/><rect x="259.5" y="46.95" width="39.8" height="3" opacity="0.185"/><rect x="261.5" y="49.95" width="37.8" height="3" opacity="0.121"/><rect x="262.7" y="52.95" width="35.5" height="3" opacity="0.016"/><rect x="279.8" y="-12.05" width="45.9" height="3" opacity="0.204"/><rect x="278.5" y="-9.05" width="46.7" height="3" opacity="0.204"/><rect x="277.3" y="-6.05" width="47.3" height="3" opacity="0.205"/><rect x="276.1" y="-3.05" width="47.8" height="3" opacity="0.206"/><rect x="274.8" y="-0.05" width="48.3" height="3" opacity="0.207"/><rect x="273.7" y="2.95" width="48.5" height="3" opacity="0.208"/><rect x="272.6" y="5.95" width="48.6" height="3" opacity="0.208"/><rect x="271.5" y="8.95" width="48.7" height="3" opacity="0.209"/><rect x="270.5" y="11.95" width="48.5" height="3" opacity="0.210"/><rect x="269.5" y="14.95" width="48.3" height="3" opacity="0.211"/><rect x="268.6" y="17.95" width="47.9" height="3" opacity="0.212"/><rect x="267.7" y="20.95" width="47.4" height="3" opacity="0.213"/><rect x="266.8" y="23.95" width="46.9" height="3" opacity="0.213"/><rect x="266.0" y="26.95" width="46.1" height="3" opacity="0.214"/><rect x="265.3" y="29.95" width="45.3" height="3" opacity="0.215"/><rect x="264.5" y="32.95" width="44.5" height="3" opacity="0.216"/><rect x="263.8" y="35.95" width="43.5" height="3" opacity="0.217"/><rect x="263.1" y="38.95" width="42.5" height="3" opacity="0.217"/><rect x="262.4" y="41.95" width="41.4" height="3" opacity="0.209"/><rect x="261.7" y="44.95" width="40.3" height="3" opacity="0.194"/><rect x="261.0" y="47.95" width="39.2" height="3" opacity="0.178"/><rect x="261.9" y="50.95" width="37.0" height="3" opacity="0.086"/><rect x="156.2" y="-12.05" width="39.0" height="4" opacity="0.250"/><rect x="156.2" y="-8.05" width="39.0" height="4" opacity="0.195"/><rect x="156.2" y="-4.05" width="39.0" height="4" opacity="0.124"/><rect x="156.2" y="-0.05" width="39.0" height="4" opacity="0.054"/><rect x="196.2" y="-12.05" width="39.0" height="4" opacity="0.288"/><rect x="196.2" y="-8.05" width="39.0" height="4" opacity="0.225"/><rect x="196.2" y="-4.05" width="39.0" height="4" opacity="0.144"/><rect x="196.2" y="-0.05" width="39.0" height="4" opacity="0.062"/><rect x="236.2" y="-12.05" width="39.0" height="4" opacity="0.250"/><rect x="236.2" y="-8.05" width="39.0" height="4" opacity="0.195"/><rect x="236.2" y="-4.05" width="39.0" height="4" opacity="0.124"/><rect x="236.2" y="-0.05" width="39.0" height="4" opacity="0.054"/></g><ellipse cx="215.7" cy="181.5" rx="11.7" ry="26.1" fill="url(#gw)" opacity="0.500"/><ellipse cx="196.7" cy="151.8" rx="11.7" ry="29.6" fill="url(#gw)" opacity="0.500" transform="rotate(-12 196.7 151.8)"/><ellipse cx="234.7" cy="151.8" rx="11.7" ry="29.6" fill="url(#gw)" opacity="0.500" transform="rotate(12 234.7 151.8)"/><ellipse cx="175.7" cy="113.0" rx="11.7" ry="31.8" fill="url(#gw)" opacity="0.500" transform="rotate(-14 175.7 113.0)"/><ellipse cx="215.7" cy="113.0" rx="11.7" ry="31.8" fill="url(#gw)" opacity="0.500"/><ellipse cx="255.7" cy="113.0" rx="11.7" ry="31.8" fill="url(#gw)" opacity="0.500" transform="rotate(14 255.7 113.0)"/><ellipse cx="151.0" cy="58.0" rx="11.7" ry="39.1" fill="url(#gw)" opacity="0.450" transform="rotate(-9 151.0 58.0)"/><ellipse cx="151.0" cy="58.0" rx="8.1" ry="26.4" fill="url(#gw)" opacity="0.720" transform="rotate(-9 151.0 58.0)"/><ellipse cx="195.1" cy="58.0" rx="11.7" ry="39.1" fill="url(#gw)" opacity="0.450" transform="rotate(-1 195.1 58.0)"/><ellipse cx="195.1" cy="58.0" rx="8.1" ry="26.4" fill="url(#gw)" opacity="0.720" transform="rotate(-1 195.1 58.0)"/><ellipse cx="236.3" cy="58.0" rx="11.7" ry="39.1" fill="url(#gw)" opacity="0.450" transform="rotate(1 236.3 58.0)"/><ellipse cx="236.3" cy="58.0" rx="8.1" ry="26.4" fill="url(#gw)" opacity="0.720" transform="rotate(1 236.3 58.0)"/><ellipse cx="280.4" cy="58.0" rx="11.7" ry="39.1" fill="url(#gw)" opacity="0.450" transform="rotate(9 280.4 58.0)"/><ellipse cx="280.4" cy="58.0" rx="8.1" ry="26.4" fill="url(#gw)" opacity="0.720" transform="rotate(9 280.4 58.0)"/><g fill="#fff" filter="url(#pb)" opacity="1.0"><rect x="212.4" y="170.0" width="6.6" height="23" rx="3.3"/><rect x="193.4" y="139.3" width="6.6" height="25" rx="3.3" transform="rotate(-12 196.7 151.8)"/><rect x="231.4" y="139.3" width="6.6" height="25" rx="3.3" transform="rotate(12 234.7 151.8)"/><rect x="172.4" y="99.5" width="6.6" height="27" rx="3.3" transform="rotate(-14 175.7 113.0)"/><rect x="212.4" y="99.5" width="6.6" height="27" rx="3.3"/><rect x="252.4" y="99.5" width="6.6" height="27" rx="3.3" transform="rotate(14 255.7 113.0)"/></g></g></g>
<rect x="2.3" y="2.3" width="422.3" height="287.6" fill="none" stroke="#000" stroke-width="4.6"/>
<path d="M14.5 0V10.6M14.5 292.2V281.6M114.2 0V10.6M114.2 292.2V281.6M213.9 0V10.6M213.9 292.2V281.6M313.6 0V10.6M313.6 292.2V281.6M413.3 0V10.6M413.3 292.2V281.6M0 22.9H10.9M426.9 22.9H416.0M0 90.1H10.9M426.9 90.1H416.0M0 157.6H10.9M426.9 157.6H416.0M0 224.7H10.9M426.9 224.7H416.0" stroke="#000" stroke-width="4.7" fill="none"/>
</g>
<rect x="1898.7" y="757.8" width="189.0" height="20.1" fill="url(#cb)" stroke="#000" stroke-width="3.4"/>
<path d="M1992.8 758.9v4" stroke="#000" stroke-width="3.4"/>
<text x="1889.72" y="733.50" textLength="16.42" lengthAdjust="spacingAndGlyphs">0</text>
<text x="1977.58" y="733.50" textLength="30.00" lengthAdjust="spacingAndGlyphs">10</text>
<text x="2071.62" y="733.50" textLength="30.68" lengthAdjust="spacingAndGlyphs">20</text>
<text x="1932.53" y="658.70" textLength="122.08" lengthAdjust="spacingAndGlyphs">Temporal</text>
<text x="1913.55" y="695.20" textLength="160.19" lengthAdjust="spacingAndGlyphs">intensity (W)</text>
<text x="1750.12" y="758.95" textLength="65.02" lengthAdjust="spacingAndGlyphs">RNN</text>
<text x="1663.70" y="1123.20" textLength="25.64" lengthAdjust="spacingAndGlyphs">-4</text>
<text x="1762.94" y="1123.20" textLength="26.82" lengthAdjust="spacingAndGlyphs">-2</text>
<text x="1867.58" y="1123.20" textLength="17.01" lengthAdjust="spacingAndGlyphs">0</text>
<text x="1966.85" y="1123.20" textLength="17.24" lengthAdjust="spacingAndGlyphs">2</text>
<text x="2067.35" y="1123.20" textLength="16.19" lengthAdjust="spacingAndGlyphs">4</text>
<text x="1816.46" y="1161.80" textLength="118.72" lengthAdjust="spacingAndGlyphs">Time (ps)</text>
</svg></body></html>
